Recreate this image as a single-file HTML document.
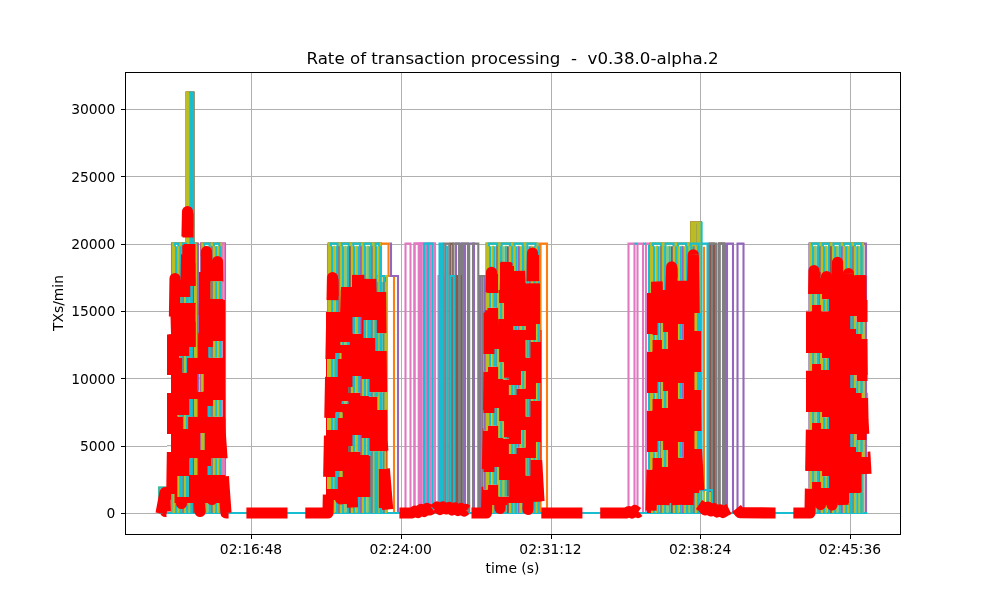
<!DOCTYPE html>
<html><head><meta charset="utf-8"><title>Rate of transaction processing</title>
<style>html,body{margin:0;padding:0;background:#fff}svg{display:block}g[id^=xtick_] path,g[id^=ytick_] path{shape-rendering:crispEdges;stroke-width:0.72px!important;transform:translate(0.38px,0.38px)}</style></head><body>
<svg width="1000" height="600" viewBox="0 0 720 432" version="1.1">
 
 <defs>
  <style type="text/css">*{stroke-linejoin: round; stroke-linecap: butt}</style>
 </defs>
 <g id="figure_1">
  <g id="patch_1">
   <path d="M 0 432 
L 720 432 
L 720 0 
L 0 0 
z
" style="fill: #ffffff"/>
  </g>
  <g id="axes_1">
   <g id="patch_2">
    <path d="M 90 384.48 
L 648 384.48 
L 648 51.84 
L 90 51.84 
z
" style="fill: #ffffff"/>
   </g>
   <g id="matplotlib.axis_1">
    <g id="xtick_1">
     <g id="line2d_1">
      <path d="M 180.72 384.48 
L 180.72 51.84 
" clip-path="url(#p4227d49ff3)" style="fill: none; stroke: #b0b0b0; stroke-width: 0.8; stroke-linecap: square"/>
     </g>
     <g id="line2d_2">
      
      <g>
       <path d="M 180.72 384.48 l 0 3.5" style="stroke: #000000; stroke-width: 0.8"/>
      </g>
     </g>
     <g id="text_1">
      <text style="font-size: 10px; font-family: 'DejaVu Sans', sans-serif; white-space: pre; text-anchor: middle" x="180.72" y="399.078438" transform="rotate(-0 180.72 399.078438)">02:16:48</text>
     </g>
    </g>
    <g id="xtick_2">
     <g id="line2d_3">
      <path d="M 288.54 384.48 
L 288.54 51.84 
" clip-path="url(#p4227d49ff3)" style="fill: none; stroke: #b0b0b0; stroke-width: 0.8; stroke-linecap: square"/>
     </g>
     <g id="line2d_4">
      <g>
       <path d="M 288.54 384.48 l 0 3.5" style="stroke: #000000; stroke-width: 0.8"/>
      </g>
     </g>
     <g id="text_2">
      <text style="font-size: 10px; font-family: 'DejaVu Sans', sans-serif; white-space: pre; text-anchor: middle" x="288.54" y="399.078438" transform="rotate(-0 288.54 399.078438)">02:24:00</text>
     </g>
    </g>
    <g id="xtick_3">
     <g id="line2d_5">
      <path d="M 396.36 384.48 
L 396.36 51.84 
" clip-path="url(#p4227d49ff3)" style="fill: none; stroke: #b0b0b0; stroke-width: 0.8; stroke-linecap: square"/>
     </g>
     <g id="line2d_6">
      <g>
       <path d="M 396.36 384.48 l 0 3.5" style="stroke: #000000; stroke-width: 0.8"/>
      </g>
     </g>
     <g id="text_3">
      <text style="font-size: 10px; font-family: 'DejaVu Sans', sans-serif; white-space: pre; text-anchor: middle" x="396.36" y="399.078438" transform="rotate(-0 396.36 399.078438)">02:31:12</text>
     </g>
    </g>
    <g id="xtick_4">
     <g id="line2d_7">
      <path d="M 504.18 384.48 
L 504.18 51.84 
" clip-path="url(#p4227d49ff3)" style="fill: none; stroke: #b0b0b0; stroke-width: 0.8; stroke-linecap: square"/>
     </g>
     <g id="line2d_8">
      <g>
       <path d="M 504.18 384.48 l 0 3.5" style="stroke: #000000; stroke-width: 0.8"/>
      </g>
     </g>
     <g id="text_4">
      <text style="font-size: 10px; font-family: 'DejaVu Sans', sans-serif; white-space: pre; text-anchor: middle" x="504.18" y="399.078438" transform="rotate(-0 504.18 399.078438)">02:38:24</text>
     </g>
    </g>
    <g id="xtick_5">
     <g id="line2d_9">
      <path d="M 612 384.48 
L 612 51.84 
" clip-path="url(#p4227d49ff3)" style="fill: none; stroke: #b0b0b0; stroke-width: 0.8; stroke-linecap: square"/>
     </g>
     <g id="line2d_10">
      <g>
       <path d="M 612 384.48 l 0 3.5" style="stroke: #000000; stroke-width: 0.8"/>
      </g>
     </g>
     <g id="text_5">
      <text style="font-size: 10px; font-family: 'DejaVu Sans', sans-serif; white-space: pre; text-anchor: middle" x="612" y="399.078438" transform="rotate(-0 612 399.078438)">02:45:36</text>
     </g>
    </g>
    <g id="text_6">
     <text style="font-size: 10px; font-family: 'DejaVu Sans', sans-serif; white-space: pre; text-anchor: middle" x="369" y="412.756562" transform="rotate(-0 369 412.756562)">time (s)</text>
    </g>
   </g>
   <g id="matplotlib.axis_2">
    <g id="ytick_1">
     <g id="line2d_11">
      <path d="M 90 369.36 
L 648 369.36 
" clip-path="url(#p4227d49ff3)" style="fill: none; stroke: #b0b0b0; stroke-width: 0.8; stroke-linecap: square"/>
     </g>
     <g id="line2d_12">
      
      <g>
       <path d="M 90 369.36 l -3.5 0" style="stroke: #000000; stroke-width: 0.8"/>
      </g>
     </g>
     <g id="text_7">
      <text style="font-size: 10px; font-family: 'DejaVu Sans', sans-serif; white-space: pre; text-anchor: end" x="83" y="373.159219" transform="rotate(-0 83 373.159219)">0</text>
     </g>
    </g>
    <g id="ytick_2">
     <g id="line2d_13">
      <path d="M 90 320.87988 
L 648 320.87988 
" clip-path="url(#p4227d49ff3)" style="fill: none; stroke: #b0b0b0; stroke-width: 0.8; stroke-linecap: square"/>
     </g>
     <g id="line2d_14">
      <g>
       <path d="M 90 320.87988 l -3.5 0" style="stroke: #000000; stroke-width: 0.8"/>
      </g>
     </g>
     <g id="text_8">
      <text style="font-size: 10px; font-family: 'DejaVu Sans', sans-serif; white-space: pre; text-anchor: end" x="83" y="324.679099" transform="rotate(-0 83 324.679099)">5000</text>
     </g>
    </g>
    <g id="ytick_3">
     <g id="line2d_15">
      <path d="M 90 272.39976 
L 648 272.39976 
" clip-path="url(#p4227d49ff3)" style="fill: none; stroke: #b0b0b0; stroke-width: 0.8; stroke-linecap: square"/>
     </g>
     <g id="line2d_16">
      <g>
       <path d="M 90 272.39976 l -3.5 0" style="stroke: #000000; stroke-width: 0.8"/>
      </g>
     </g>
     <g id="text_9">
      <text style="font-size: 10px; font-family: 'DejaVu Sans', sans-serif; white-space: pre; text-anchor: end" x="83" y="276.198979" transform="rotate(-0 83 276.198979)">10000</text>
     </g>
    </g>
    <g id="ytick_4">
     <g id="line2d_17">
      <path d="M 90 223.91964 
L 648 223.91964 
" clip-path="url(#p4227d49ff3)" style="fill: none; stroke: #b0b0b0; stroke-width: 0.8; stroke-linecap: square"/>
     </g>
     <g id="line2d_18">
      <g>
       <path d="M 90 223.91964 l -3.5 0" style="stroke: #000000; stroke-width: 0.8"/>
      </g>
     </g>
     <g id="text_10">
      <text style="font-size: 10px; font-family: 'DejaVu Sans', sans-serif; white-space: pre; text-anchor: end" x="83" y="227.718859" transform="rotate(-0 83 227.718859)">15000</text>
     </g>
    </g>
    <g id="ytick_5">
     <g id="line2d_19">
      <path d="M 90 175.43952 
L 648 175.43952 
" clip-path="url(#p4227d49ff3)" style="fill: none; stroke: #b0b0b0; stroke-width: 0.8; stroke-linecap: square"/>
     </g>
     <g id="line2d_20">
      <g>
       <path d="M 90 175.43952 l -3.5 0" style="stroke: #000000; stroke-width: 0.8"/>
      </g>
     </g>
     <g id="text_11">
      <text style="font-size: 10px; font-family: 'DejaVu Sans', sans-serif; white-space: pre; text-anchor: end" x="83" y="179.238739" transform="rotate(-0 83 179.238739)">20000</text>
     </g>
    </g>
    <g id="ytick_6">
     <g id="line2d_21">
      <path d="M 90 126.9594 
L 648 126.9594 
" clip-path="url(#p4227d49ff3)" style="fill: none; stroke: #b0b0b0; stroke-width: 0.8; stroke-linecap: square"/>
     </g>
     <g id="line2d_22">
      <g>
       <path d="M 90 126.9594 l -3.5 0" style="stroke: #000000; stroke-width: 0.8"/>
      </g>
     </g>
     <g id="text_12">
      <text style="font-size: 10px; font-family: 'DejaVu Sans', sans-serif; white-space: pre; text-anchor: end" x="83" y="130.758619" transform="rotate(-0 83 130.758619)">25000</text>
     </g>
    </g>
    <g id="ytick_7">
     <g id="line2d_23">
      <path d="M 90 78.47928 
L 648 78.47928 
" clip-path="url(#p4227d49ff3)" style="fill: none; stroke: #b0b0b0; stroke-width: 0.8; stroke-linecap: square"/>
     </g>
     <g id="line2d_24">
      <g>
       <path d="M 90 78.47928 l -3.5 0" style="stroke: #000000; stroke-width: 0.8"/>
      </g>
     </g>
     <g id="text_13">
      <text style="font-size: 10px; font-family: 'DejaVu Sans', sans-serif; white-space: pre; text-anchor: end" x="83" y="82.278499" transform="rotate(-0 83 82.278499)">30000</text>
     </g>
    </g>
    <g id="text_14">
     <text style="font-size: 10px; font-family: 'DejaVu Sans', sans-serif; white-space: pre; text-anchor: middle" x="45.107812" y="218.16" transform="rotate(-90 45.107812 218.16)">TXs/min</text>
    </g>
   </g>
   <g id="line2d_25">
    <path d="M 115.2 369.36 
L 623.52 369.36 
" clip-path="url(#p4227d49ff3)" style="fill: none; stroke: #ff7f0e; stroke-width: 1.5; stroke-linecap: square"/>
   </g>
   <g id="line2d_26">
    <path d="M 236.16 369.36 
L 236.16 175.43952 
" clip-path="url(#p4227d49ff3)" style="fill: none; stroke: #ff7f0e; stroke-width: 1.5; stroke-linejoin: miter"/>
   </g>
   <g id="line2d_27">
    <path d="M 236.16 175.43952 
L 279.72 175.43952 
L 279.72 198.72 
L 283.68 198.72 
L 283.68 369.36 
" clip-path="url(#p4227d49ff3)" style="fill: none; stroke: #ff7f0e; stroke-width: 1.5; stroke-linejoin: miter"/>
   </g>
   <g id="line2d_28">
    <path d="M 124.056 369.36 
L 124.056 175.43952 
L 141.84 175.43952 
L 141.84 369.36 
" clip-path="url(#p4227d49ff3)" style="fill: none; stroke: #ff7f0e; stroke-width: 1.5; stroke-linejoin: miter"/>
   </g>
   <g id="line2d_29">
    <path d="M 134.352 369.36 
L 134.352 66.672 
L 139.392 66.672 
L 139.392 369.36 
" clip-path="url(#p4227d49ff3)" style="fill: none; stroke: #ff7f0e; stroke-width: 1.5; stroke-linejoin: miter"/>
   </g>
   <g id="line2d_30">
    <path d="M 388.8 369.36 
L 388.8 175.43952 
L 393.84 175.43952 
L 393.84 369.36 
" clip-path="url(#p4227d49ff3)" style="fill: none; stroke: #ff7f0e; stroke-width: 1.5; stroke-linejoin: miter"/>
   </g>
   <g id="line2d_31">
    <path d="M 389.16 369.36 
L 389.16 175.43952 
L 389.16 175.43952 
L 389.16 369.36 
" clip-path="url(#p4227d49ff3)" style="fill: none; stroke: #ff7f0e; stroke-width: 1.5; stroke-linejoin: miter"/>
   </g>
   <g id="line2d_32">
    <path d="M 506.88 369.36 
L 506.88 177.59952 
L 506.88 177.59952 
L 506.88 369.36 
" clip-path="url(#p4227d49ff3)" style="fill: none; stroke: #ff7f0e; stroke-width: 1.5; stroke-linejoin: miter"/>
   </g>
   <g id="line2d_33">
    <path d="M 115.2 369.36 
L 623.52 369.36 
" clip-path="url(#p4227d49ff3)" style="fill: none; stroke: #9467bd; stroke-width: 1.5; stroke-linecap: square"/>
   </g>
   <g id="line2d_34">
    <path d="M 280.44 175.43952 
L 281.52 175.43952 
L 281.52 198.72 
L 286.56 198.72 
L 286.56 369.36 
" clip-path="url(#p4227d49ff3)" style="fill: none; stroke: #9467bd; stroke-width: 1.5; stroke-linejoin: miter"/>
   </g>
   <g id="line2d_35">
    <path d="M 123.84 369.36 
L 123.84 175.43952 
L 142.56 175.43952 
L 142.56 369.36 
" clip-path="url(#p4227d49ff3)" style="fill: none; stroke: #9467bd; stroke-width: 1.5; stroke-linejoin: miter"/>
   </g>
   <g id="line2d_36">
    <path d="M 135.72 369.36 
L 135.72 175.43952 
L 141.12 175.43952 
L 141.12 369.36 
" clip-path="url(#p4227d49ff3)" style="fill: none; stroke: #9467bd; stroke-width: 1.5; stroke-linejoin: miter"/>
   </g>
   <g id="line2d_37">
    <path d="M 252.648 369.36 
L 252.648 175.43952 
L 260.712 175.43952 
L 260.712 369.36 
" clip-path="url(#p4227d49ff3)" style="fill: none; stroke: #9467bd; stroke-width: 1.5; stroke-linejoin: miter"/>
   </g>
   <g id="line2d_38">
    <path d="M 328.32 369.36 
L 328.32 175.43952 
L 331.92 175.43952 
L 331.92 369.36 
" clip-path="url(#p4227d49ff3)" style="fill: none; stroke: #9467bd; stroke-width: 1.5; stroke-linejoin: miter"/>
   </g>
   <g id="line2d_39">
    <path d="M 334.8 369.36 
L 334.8 175.43952 
L 334.8 175.43952 
L 334.8 369.36 
" clip-path="url(#p4227d49ff3)" style="fill: none; stroke: #9467bd; stroke-width: 1.5; stroke-linejoin: miter"/>
   </g>
   <g id="line2d_40">
    <path d="M 332.64 369.36 
L 332.64 175.43952 
L 341.28 175.43952 
L 341.28 369.36 
" clip-path="url(#p4227d49ff3)" style="fill: none; stroke: #9467bd; stroke-width: 1.5; stroke-linejoin: miter"/>
   </g>
   <g id="line2d_41">
    <path d="M 346.104 369.36 
L 346.104 198.72 
L 348.84 198.72 
L 348.84 369.36 
" clip-path="url(#p4227d49ff3)" style="fill: none; stroke: #9467bd; stroke-width: 1.5; stroke-linejoin: miter"/>
   </g>
   <g id="line2d_42">
    <path d="M 368.712 369.36 
L 368.712 175.43952 
L 377.928 175.43952 
L 377.928 369.36 
" clip-path="url(#p4227d49ff3)" style="fill: none; stroke: #9467bd; stroke-width: 1.5; stroke-linejoin: miter"/>
   </g>
   <g id="line2d_43">
    <path d="M 486.504 369.36 
L 486.504 175.43952 
L 495.576 175.43952 
L 495.576 369.36 
" clip-path="url(#p4227d49ff3)" style="fill: none; stroke: #9467bd; stroke-width: 1.5; stroke-linejoin: miter"/>
   </g>
   <g id="line2d_44">
    <path d="M 523.44 369.36 
L 523.44 175.43952 
L 527.76 175.43952 
L 527.76 369.36 
" clip-path="url(#p4227d49ff3)" style="fill: none; stroke: #9467bd; stroke-width: 1.5; stroke-linejoin: miter"/>
   </g>
   <g id="line2d_45">
    <path d="M 531 369.36 
L 531 175.43952 
L 535.32 175.43952 
L 535.32 369.36 
" clip-path="url(#p4227d49ff3)" style="fill: none; stroke: #9467bd; stroke-width: 1.5; stroke-linejoin: miter"/>
   </g>
   <g id="line2d_46">
    <path d="M 582.84 369.36 
L 582.84 175.43952 
L 623.52 175.43952 
L 623.52 369.36 
" clip-path="url(#p4227d49ff3)" style="fill: none; stroke: #9467bd; stroke-width: 1.5; stroke-linejoin: miter"/>
   </g>
   <g id="line2d_47">
    <path d="M 598.464 369.36 
L 598.464 175.43952 
L 606.168 175.43952 
L 606.168 369.36 
" clip-path="url(#p4227d49ff3)" style="fill: none; stroke: #9467bd; stroke-width: 1.5; stroke-linejoin: miter"/>
   </g>
   <g id="line2d_48">
    <path d="M 115.2 369.36 
L 623.52 369.36 
" clip-path="url(#p4227d49ff3)" style="fill: none; stroke: #8c564b; stroke-width: 1.5; stroke-linecap: square"/>
   </g>
   <g id="line2d_49">
    <path d="M 129.96 369.36 
L 129.96 175.43952 
L 135.72 175.43952 
L 135.72 369.36 
" clip-path="url(#p4227d49ff3)" style="fill: none; stroke: #8c564b; stroke-width: 1.5; stroke-linejoin: miter"/>
   </g>
   <g id="line2d_50">
    <path d="M 134.352 369.36 
L 134.352 66.6 
L 139.248 66.6 
L 139.248 369.36 
" clip-path="url(#p4227d49ff3)" style="fill: none; stroke: #8c564b; stroke-width: 1.5; stroke-linejoin: miter"/>
   </g>
   <g id="line2d_51">
    <path d="M 144.72 369.36 
L 144.72 175.43952 
L 162 175.43952 
L 162 369.36 
" clip-path="url(#p4227d49ff3)" style="fill: none; stroke: #8c564b; stroke-width: 1.5; stroke-linejoin: miter"/>
   </g>
   <g id="line2d_52">
    <path d="M 152.424 369.36 
L 152.424 175.43952 
L 159.408 175.43952 
L 159.408 369.36 
" clip-path="url(#p4227d49ff3)" style="fill: none; stroke: #8c564b; stroke-width: 1.5; stroke-linejoin: miter"/>
   </g>
   <g id="line2d_53">
    <path d="M 244.584 369.36 
L 244.584 175.43952 
L 252.648 175.43952 
L 252.648 369.36 
" clip-path="url(#p4227d49ff3)" style="fill: none; stroke: #8c564b; stroke-width: 1.5; stroke-linejoin: miter"/>
   </g>
   <g id="line2d_54">
    <path d="M 268.776 369.36 
L 268.776 175.43952 
L 274.32 175.43952 
L 274.32 369.36 
" clip-path="url(#p4227d49ff3)" style="fill: none; stroke: #8c564b; stroke-width: 1.5; stroke-linejoin: miter"/>
   </g>
   <g id="line2d_55">
    <path d="M 324.36 369.36 
L 324.36 175.43952 
L 326.16 175.43952 
L 326.16 369.36 
" clip-path="url(#p4227d49ff3)" style="fill: none; stroke: #8c564b; stroke-width: 1.5; stroke-linejoin: miter"/>
   </g>
   <g id="line2d_56">
    <path d="M 325.44 369.36 
L 325.44 198.72 
L 325.44 198.72 
L 325.44 369.36 
" clip-path="url(#p4227d49ff3)" style="fill: none; stroke: #8c564b; stroke-width: 1.5; stroke-linejoin: miter"/>
   </g>
   <g id="line2d_57">
    <path d="M 329.04 369.36 
L 329.04 198.72 
L 331.92 198.72 
L 331.92 369.36 
" clip-path="url(#p4227d49ff3)" style="fill: none; stroke: #8c564b; stroke-width: 1.5; stroke-linejoin: miter"/>
   </g>
   <g id="line2d_58">
    <path d="M 359.496 369.36 
L 359.496 175.43952 
L 368.712 175.43952 
L 368.712 369.36 
" clip-path="url(#p4227d49ff3)" style="fill: none; stroke: #8c564b; stroke-width: 1.5; stroke-linejoin: miter"/>
   </g>
   <g id="line2d_59">
    <path d="M 477.432 369.36 
L 477.432 175.43952 
L 486.504 175.43952 
L 486.504 369.36 
" clip-path="url(#p4227d49ff3)" style="fill: none; stroke: #8c564b; stroke-width: 1.5; stroke-linejoin: miter"/>
   </g>
   <g id="line2d_60">
    <path d="M 497.52 369.36 
L 497.52 160.056 
L 504.72 160.056 
L 504.72 369.36 
" clip-path="url(#p4227d49ff3)" style="fill: none; stroke: #8c564b; stroke-width: 1.5; stroke-linejoin: miter"/>
   </g>
   <g id="line2d_61">
    <path d="M 511.2 369.36 
L 511.2 175.43952 
L 514.08 175.43952 
L 514.08 369.36 
" clip-path="url(#p4227d49ff3)" style="fill: none; stroke: #8c564b; stroke-width: 1.5; stroke-linejoin: miter"/>
   </g>
   <g id="line2d_62">
    <path d="M 517.68 369.36 
L 517.68 175.43952 
L 521.28 175.43952 
L 521.28 369.36 
" clip-path="url(#p4227d49ff3)" style="fill: none; stroke: #8c564b; stroke-width: 1.5; stroke-linejoin: miter"/>
   </g>
   <g id="line2d_63">
    <path d="M 590.76 369.36 
L 590.76 175.43952 
L 598.464 175.43952 
L 598.464 369.36 
" clip-path="url(#p4227d49ff3)" style="fill: none; stroke: #8c564b; stroke-width: 1.5; stroke-linejoin: miter"/>
   </g>
   <g id="line2d_64">
    <path d="M 613.872 369.36 
L 613.872 175.43952 
L 621.576 175.43952 
L 621.576 369.36 
" clip-path="url(#p4227d49ff3)" style="fill: none; stroke: #8c564b; stroke-width: 1.5; stroke-linejoin: miter"/>
   </g>
   <g id="line2d_65">
    <path d="M 115.2 369.36 
L 623.52 369.36 
" clip-path="url(#p4227d49ff3)" style="fill: none; stroke: #e377c2; stroke-width: 1.5; stroke-linecap: square"/>
   </g>
   <g id="line2d_66">
    <path d="M 145.08 369.36 
L 145.08 175.43952 
L 161.64 175.43952 
L 161.64 369.36 
" clip-path="url(#p4227d49ff3)" style="fill: none; stroke: #e377c2; stroke-width: 1.5; stroke-linejoin: miter"/>
   </g>
   <g id="line2d_67">
    <path d="M 145.44 369.36 
L 145.44 175.43952 
L 160.2 175.43952 
L 160.2 369.36 
" clip-path="url(#p4227d49ff3)" style="fill: none; stroke: #e377c2; stroke-width: 1.5; stroke-linejoin: miter"/>
   </g>
   <g id="line2d_68">
    <path d="M 291.96 369.36 
L 291.96 175.43952 
L 295.56 175.43952 
L 295.56 369.36 
" clip-path="url(#p4227d49ff3)" style="fill: none; stroke: #e377c2; stroke-width: 1.5; stroke-linejoin: miter"/>
   </g>
   <g id="line2d_69">
    <path d="M 298.44 369.36 
L 298.44 175.43952 
L 301.464 175.43952 
L 301.464 369.36 
" clip-path="url(#p4227d49ff3)" style="fill: none; stroke: #e377c2; stroke-width: 1.5; stroke-linejoin: miter"/>
   </g>
   <g id="line2d_70">
    <path d="M 302.112 369.36 
L 302.112 175.43952 
L 303.552 175.43952 
L 303.552 369.36 
" clip-path="url(#p4227d49ff3)" style="fill: none; stroke: #e377c2; stroke-width: 1.5; stroke-linejoin: miter"/>
   </g>
   <g id="line2d_71">
    <path d="M 302.832 369.36 
L 302.832 175.43952 
L 306.72 175.43952 
L 306.72 369.36 
" clip-path="url(#p4227d49ff3)" style="fill: none; stroke: #e377c2; stroke-width: 1.5; stroke-linejoin: miter"/>
   </g>
   <g id="line2d_72">
    <path d="M 303.336 369.36 
L 303.336 175.43952 
L 303.336 175.43952 
L 303.336 369.36 
" clip-path="url(#p4227d49ff3)" style="fill: none; stroke: #e377c2; stroke-width: 1.5; stroke-linejoin: miter"/>
   </g>
   <g id="line2d_73">
    <path d="M 309.6 369.36 
L 309.6 175.43952 
L 313.2 175.43952 
L 313.2 369.36 
" clip-path="url(#p4227d49ff3)" style="fill: none; stroke: #e377c2; stroke-width: 1.5; stroke-linejoin: miter"/>
   </g>
   <g id="line2d_74">
    <path d="M 298.44 369.36 
L 298.44 175.43952 
L 313.2 175.43952 
L 313.2 369.36 
" clip-path="url(#p4227d49ff3)" style="fill: none; stroke: #e377c2; stroke-width: 1.5; stroke-linejoin: miter"/>
   </g>
   <g id="line2d_75">
    <path d="M 315.72 369.36 
L 315.72 198.72 
L 319.32 198.72 
L 319.32 369.36 
" clip-path="url(#p4227d49ff3)" style="fill: none; stroke: #e377c2; stroke-width: 1.5; stroke-linejoin: miter"/>
   </g>
   <g id="line2d_76">
    <path d="M 452.52 369.36 
L 452.52 175.43952 
L 456.84 175.43952 
L 456.84 369.36 
" clip-path="url(#p4227d49ff3)" style="fill: none; stroke: #e377c2; stroke-width: 1.5; stroke-linejoin: miter"/>
   </g>
   <g id="line2d_77">
    <path d="M 459 369.36 
L 459 175.43952 
L 462.96 175.43952 
L 462.96 369.36 
" clip-path="url(#p4227d49ff3)" style="fill: none; stroke: #e377c2; stroke-width: 1.5; stroke-linejoin: miter"/>
   </g>
   <g id="line2d_78">
    <path d="M 465.12 369.36 
L 465.12 175.43952 
L 468 175.43952 
L 468 369.36 
" clip-path="url(#p4227d49ff3)" style="fill: none; stroke: #e377c2; stroke-width: 1.5; stroke-linejoin: miter"/>
   </g>
   <g id="line2d_79">
    <path d="M 115.2 369.36 
L 623.52 369.36 
" clip-path="url(#p4227d49ff3)" style="fill: none; stroke: #7f7f7f; stroke-width: 1.5; stroke-linecap: square"/>
   </g>
   <g id="line2d_80">
    <path d="M 124.2 369.36 
L 124.2 175.43952 
L 129.96 175.43952 
L 129.96 369.36 
" clip-path="url(#p4227d49ff3)" style="fill: none; stroke: #7f7f7f; stroke-width: 1.5; stroke-linejoin: miter"/>
   </g>
   <g id="line2d_81">
    <path d="M 145.44 369.36 
L 145.44 175.43952 
L 152.424 175.43952 
L 152.424 369.36 
" clip-path="url(#p4227d49ff3)" style="fill: none; stroke: #7f7f7f; stroke-width: 1.5; stroke-linejoin: miter"/>
   </g>
   <g id="line2d_82">
    <path d="M 236.52 369.36 
L 236.52 175.43952 
L 244.584 175.43952 
L 244.584 369.36 
" clip-path="url(#p4227d49ff3)" style="fill: none; stroke: #7f7f7f; stroke-width: 1.5; stroke-linejoin: miter"/>
   </g>
   <g id="line2d_83">
    <path d="M 260.712 369.36 
L 260.712 175.43952 
L 268.776 175.43952 
L 268.776 369.36 
" clip-path="url(#p4227d49ff3)" style="fill: none; stroke: #7f7f7f; stroke-width: 1.5; stroke-linejoin: miter"/>
   </g>
   <g id="line2d_84">
    <path d="M 277.2 369.36 
L 277.2 198.72 
L 277.2 198.72 
L 277.2 369.36 
" clip-path="url(#p4227d49ff3)" style="fill: none; stroke: #7f7f7f; stroke-width: 1.5; stroke-linejoin: miter"/>
   </g>
   <g id="line2d_85">
    <path d="M 319.464 369.36 
L 319.464 175.43952 
L 323.424 175.43952 
L 323.424 369.36 
" clip-path="url(#p4227d49ff3)" style="fill: none; stroke: #7f7f7f; stroke-width: 1.5; stroke-linejoin: miter"/>
   </g>
   <g id="line2d_86">
    <path d="M 320.76 369.36 
L 320.76 175.43952 
L 320.76 175.43952 
L 320.76 369.36 
" clip-path="url(#p4227d49ff3)" style="fill: none; stroke: #7f7f7f; stroke-width: 1.5; stroke-linejoin: miter"/>
   </g>
   <g id="line2d_87">
    <path d="M 326.52 369.36 
L 326.52 175.43952 
L 330.48 175.43952 
L 330.48 369.36 
" clip-path="url(#p4227d49ff3)" style="fill: none; stroke: #7f7f7f; stroke-width: 1.5; stroke-linejoin: miter"/>
   </g>
   <g id="line2d_88">
    <path d="M 331.056 369.36 
L 331.056 175.43952 
L 331.056 175.43952 
L 331.056 369.36 
" clip-path="url(#p4227d49ff3)" style="fill: none; stroke: #7f7f7f; stroke-width: 1.5; stroke-linejoin: miter"/>
   </g>
   <g id="line2d_89">
    <path d="M 333.36 369.36 
L 333.36 175.43952 
L 336.96 175.43952 
L 336.96 369.36 
" clip-path="url(#p4227d49ff3)" style="fill: none; stroke: #7f7f7f; stroke-width: 1.5; stroke-linejoin: miter"/>
   </g>
   <g id="line2d_90">
    <path d="M 337.824 369.36 
L 337.824 175.43952 
L 337.824 175.43952 
L 337.824 369.36 
" clip-path="url(#p4227d49ff3)" style="fill: none; stroke: #7f7f7f; stroke-width: 1.5; stroke-linejoin: miter"/>
   </g>
   <g id="line2d_91">
    <path d="M 340.56 369.36 
L 340.56 175.43952 
L 344.376 175.43952 
L 344.376 369.36 
" clip-path="url(#p4227d49ff3)" style="fill: none; stroke: #7f7f7f; stroke-width: 1.5; stroke-linejoin: miter"/>
   </g>
   <g id="line2d_92">
    <path d="M 345.24 369.36 
L 345.24 198.72 
L 349.92 198.72 
L 349.92 369.36 
" clip-path="url(#p4227d49ff3)" style="fill: none; stroke: #7f7f7f; stroke-width: 1.5; stroke-linejoin: miter"/>
   </g>
   <g id="line2d_93">
    <path d="M 347.4 369.36 
L 347.4 198.72 
L 347.4 198.72 
L 347.4 369.36 
" clip-path="url(#p4227d49ff3)" style="fill: none; stroke: #7f7f7f; stroke-width: 1.5; stroke-linejoin: miter"/>
   </g>
   <g id="line2d_94">
    <path d="M 350.28 369.36 
L 350.28 175.43952 
L 359.496 175.43952 
L 359.496 369.36 
" clip-path="url(#p4227d49ff3)" style="fill: none; stroke: #7f7f7f; stroke-width: 1.5; stroke-linejoin: miter"/>
   </g>
   <g id="line2d_95">
    <path d="M 377.928 369.36 
L 377.928 175.43952 
L 387.144 175.43952 
L 387.144 369.36 
" clip-path="url(#p4227d49ff3)" style="fill: none; stroke: #7f7f7f; stroke-width: 1.5; stroke-linejoin: miter"/>
   </g>
   <g id="line2d_96">
    <path d="M 468.36 369.36 
L 468.36 175.43952 
L 477.432 175.43952 
L 477.432 369.36 
" clip-path="url(#p4227d49ff3)" style="fill: none; stroke: #7f7f7f; stroke-width: 1.5; stroke-linejoin: miter"/>
   </g>
   <g id="line2d_97">
    <path d="M 495.576 369.36 
L 495.576 175.43952 
L 504.648 175.43952 
L 504.648 369.36 
" clip-path="url(#p4227d49ff3)" style="fill: none; stroke: #7f7f7f; stroke-width: 1.5; stroke-linejoin: miter"/>
   </g>
   <g id="line2d_98">
    <path d="M 501.336 369.36 
L 501.336 160.2 
L 501.336 160.2 
L 501.336 369.36 
" clip-path="url(#p4227d49ff3)" style="fill: none; stroke: #7f7f7f; stroke-width: 1.5; stroke-linejoin: miter"/>
   </g>
   <g id="line2d_99">
    <path d="M 510.12 369.36 
L 510.12 175.43952 
L 515.52 175.43952 
L 515.52 369.36 
" clip-path="url(#p4227d49ff3)" style="fill: none; stroke: #7f7f7f; stroke-width: 1.5; stroke-linejoin: miter"/>
   </g>
   <g id="line2d_100">
    <path d="M 512.64 369.36 
L 512.64 175.43952 
L 512.64 175.43952 
L 512.64 369.36 
" clip-path="url(#p4227d49ff3)" style="fill: none; stroke: #7f7f7f; stroke-width: 1.5; stroke-linejoin: miter"/>
   </g>
   <g id="line2d_101">
    <path d="M 517.32 369.36 
L 517.32 175.43952 
L 522 175.43952 
L 522 369.36 
" clip-path="url(#p4227d49ff3)" style="fill: none; stroke: #7f7f7f; stroke-width: 1.5; stroke-linejoin: miter"/>
   </g>
   <g id="line2d_102">
    <path d="M 518.256 369.36 
L 518.256 175.43952 
L 520.56 175.43952 
L 520.56 369.36 
" clip-path="url(#p4227d49ff3)" style="fill: none; stroke: #7f7f7f; stroke-width: 1.5; stroke-linejoin: miter"/>
   </g>
   <g id="line2d_103">
    <path d="M 583.056 369.36 
L 583.056 175.43952 
L 590.76 175.43952 
L 590.76 369.36 
" clip-path="url(#p4227d49ff3)" style="fill: none; stroke: #7f7f7f; stroke-width: 1.5; stroke-linejoin: miter"/>
   </g>
   <g id="line2d_104">
    <path d="M 606.168 369.36 
L 606.168 175.43952 
L 613.872 175.43952 
L 613.872 369.36 
" clip-path="url(#p4227d49ff3)" style="fill: none; stroke: #7f7f7f; stroke-width: 1.5; stroke-linejoin: miter"/>
   </g>
   <g id="line2d_105">
    <path d="M 115.2 369.36 
L 623.52 369.36 
" clip-path="url(#p4227d49ff3)" style="fill: none; stroke: #bcbd22; stroke-width: 1.5; stroke-linecap: square"/>
   </g>
   <g id="line2d_106">
    <path d="M 114.48 369.36 
L 114.48 351 
L 123.84 351 
L 123.84 369.36 
" clip-path="url(#p4227d49ff3)" style="fill: none; stroke: #bcbd22; stroke-width: 1.5; stroke-linejoin: miter"/>
   </g>
   <g id="line2d_107">
    <path d="M 124.416 369.36 
L 124.416 175.43952 
L 129.744 175.43952 
L 129.744 369.36 
" clip-path="url(#p4227d49ff3)" style="fill: none; stroke: #bcbd22; stroke-width: 1.5; stroke-linejoin: miter"/>
   </g>
   <g id="line2d_108">
    <path d="M 130.176 369.36 
L 130.176 175.43952 
L 135.504 175.43952 
L 135.504 369.36 
" clip-path="url(#p4227d49ff3)" style="fill: none; stroke: #bcbd22; stroke-width: 1.5; stroke-linejoin: miter"/>
   </g>
   <g id="line2d_109">
    <path d="M 135.936 369.36 
L 135.936 175.43952 
L 140.904 175.43952 
L 140.904 369.36 
" clip-path="url(#p4227d49ff3)" style="fill: none; stroke: #bcbd22; stroke-width: 1.5; stroke-linejoin: miter"/>
   </g>
   <g id="line2d_110">
    <path d="M 134.352 369.36 
L 134.352 66.672 
L 134.352 66.672 
L 134.352 369.36 
" clip-path="url(#p4227d49ff3)" style="fill: none; stroke: #bcbd22; stroke-width: 1.5; stroke-linejoin: miter"/>
   </g>
   <g id="line2d_111">
    <path d="M 135 369.36 
L 135 66.672 
L 135 66.672 
L 135 369.36 
" clip-path="url(#p4227d49ff3)" style="fill: none; stroke: #bcbd22; stroke-width: 1.5; stroke-linejoin: miter"/>
   </g>
   <g id="line2d_112">
    <path d="M 135.6912 369.36 
L 135.6912 66.672 
L 135.6912 66.672 
L 135.6912 369.36 
" clip-path="url(#p4227d49ff3)" style="fill: none; stroke: #bcbd22; stroke-width: 1.5; stroke-linejoin: miter"/>
   </g>
   <g id="line2d_113">
    <path d="M 134.352 369.36 
L 134.352 66.672 
L 135.6912 66.672 
L 135.6912 369.36 
" clip-path="url(#p4227d49ff3)" style="fill: none; stroke: #bcbd22; stroke-width: 1.5; stroke-linejoin: miter"/>
   </g>
   <g id="line2d_114">
    <path d="M 145.656 369.36 
L 145.656 175.43952 
L 152.208 175.43952 
L 152.208 369.36 
" clip-path="url(#p4227d49ff3)" style="fill: none; stroke: #bcbd22; stroke-width: 1.5; stroke-linejoin: miter"/>
   </g>
   <g id="line2d_115">
    <path d="M 149.004 369.36 
L 149.004 177.02352 
L 149.004 177.02352 
L 149.004 369.36 
" clip-path="url(#p4227d49ff3)" style="fill: none; stroke: #bcbd22; stroke-width: 1.5; stroke-linejoin: miter"/>
   </g>
   <g id="line2d_116">
    <path d="M 152.64 369.36 
L 152.64 175.43952 
L 159.192 175.43952 
L 159.192 369.36 
" clip-path="url(#p4227d49ff3)" style="fill: none; stroke: #bcbd22; stroke-width: 1.5; stroke-linejoin: miter"/>
   </g>
   <g id="line2d_117">
    <path d="M 155.988 369.36 
L 155.988 177.02352 
L 155.988 177.02352 
L 155.988 369.36 
" clip-path="url(#p4227d49ff3)" style="fill: none; stroke: #bcbd22; stroke-width: 1.5; stroke-linejoin: miter"/>
   </g>
   <g id="line2d_118">
    <path d="M 236.736 369.36 
L 236.736 175.43952 
L 244.368 175.43952 
L 244.368 369.36 
" clip-path="url(#p4227d49ff3)" style="fill: none; stroke: #bcbd22; stroke-width: 1.5; stroke-linejoin: miter"/>
   </g>
   <g id="line2d_119">
    <path d="M 240.624 369.36 
L 240.624 177.02352 
L 240.624 177.02352 
L 240.624 369.36 
" clip-path="url(#p4227d49ff3)" style="fill: none; stroke: #bcbd22; stroke-width: 1.5; stroke-linejoin: miter"/>
   </g>
   <g id="line2d_120">
    <path d="M 244.8 369.36 
L 244.8 175.43952 
L 252.432 175.43952 
L 252.432 369.36 
" clip-path="url(#p4227d49ff3)" style="fill: none; stroke: #bcbd22; stroke-width: 1.5; stroke-linejoin: miter"/>
   </g>
   <g id="line2d_121">
    <path d="M 248.688 369.36 
L 248.688 177.02352 
L 248.688 177.02352 
L 248.688 369.36 
" clip-path="url(#p4227d49ff3)" style="fill: none; stroke: #bcbd22; stroke-width: 1.5; stroke-linejoin: miter"/>
   </g>
   <g id="line2d_122">
    <path d="M 252.864 369.36 
L 252.864 175.43952 
L 260.496 175.43952 
L 260.496 369.36 
" clip-path="url(#p4227d49ff3)" style="fill: none; stroke: #bcbd22; stroke-width: 1.5; stroke-linejoin: miter"/>
   </g>
   <g id="line2d_123">
    <path d="M 256.752 369.36 
L 256.752 177.02352 
L 256.752 177.02352 
L 256.752 369.36 
" clip-path="url(#p4227d49ff3)" style="fill: none; stroke: #bcbd22; stroke-width: 1.5; stroke-linejoin: miter"/>
   </g>
   <g id="line2d_124">
    <path d="M 260.928 369.36 
L 260.928 175.43952 
L 268.56 175.43952 
L 268.56 369.36 
" clip-path="url(#p4227d49ff3)" style="fill: none; stroke: #bcbd22; stroke-width: 1.5; stroke-linejoin: miter"/>
   </g>
   <g id="line2d_125">
    <path d="M 264.816 369.36 
L 264.816 177.02352 
L 264.816 177.02352 
L 264.816 369.36 
" clip-path="url(#p4227d49ff3)" style="fill: none; stroke: #bcbd22; stroke-width: 1.5; stroke-linejoin: miter"/>
   </g>
   <g id="line2d_126">
    <path d="M 268.992 369.36 
L 268.992 175.43952 
L 274.104 175.43952 
L 274.104 369.36 
" clip-path="url(#p4227d49ff3)" style="fill: none; stroke: #bcbd22; stroke-width: 1.5; stroke-linejoin: miter"/>
   </g>
   <g id="line2d_127">
    <path d="M 269.28 369.36 
L 269.28 198.72 
L 278.64 198.72 
L 278.64 369.36 
" clip-path="url(#p4227d49ff3)" style="fill: none; stroke: #bcbd22; stroke-width: 1.5; stroke-linejoin: miter"/>
   </g>
   <g id="line2d_128">
    <path d="M 272.52 369.36 
L 272.52 200.16 
L 274.68 200.16 
L 274.68 369.36 
" clip-path="url(#p4227d49ff3)" style="fill: none; stroke: #bcbd22; stroke-width: 1.5; stroke-linejoin: miter"/>
   </g>
   <g id="line2d_129">
    <path d="M 350.496 369.36 
L 350.496 175.43952 
L 359.28 175.43952 
L 359.28 369.36 
" clip-path="url(#p4227d49ff3)" style="fill: none; stroke: #bcbd22; stroke-width: 1.5; stroke-linejoin: miter"/>
   </g>
   <g id="line2d_130">
    <path d="M 354.96 369.36 
L 354.96 177.02352 
L 354.96 177.02352 
L 354.96 369.36 
" clip-path="url(#p4227d49ff3)" style="fill: none; stroke: #bcbd22; stroke-width: 1.5; stroke-linejoin: miter"/>
   </g>
   <g id="line2d_131">
    <path d="M 359.712 369.36 
L 359.712 175.43952 
L 368.496 175.43952 
L 368.496 369.36 
" clip-path="url(#p4227d49ff3)" style="fill: none; stroke: #bcbd22; stroke-width: 1.5; stroke-linejoin: miter"/>
   </g>
   <g id="line2d_132">
    <path d="M 364.176 369.36 
L 364.176 177.02352 
L 364.176 177.02352 
L 364.176 369.36 
" clip-path="url(#p4227d49ff3)" style="fill: none; stroke: #bcbd22; stroke-width: 1.5; stroke-linejoin: miter"/>
   </g>
   <g id="line2d_133">
    <path d="M 368.928 369.36 
L 368.928 175.43952 
L 377.712 175.43952 
L 377.712 369.36 
" clip-path="url(#p4227d49ff3)" style="fill: none; stroke: #bcbd22; stroke-width: 1.5; stroke-linejoin: miter"/>
   </g>
   <g id="line2d_134">
    <path d="M 373.392 369.36 
L 373.392 177.02352 
L 373.392 177.02352 
L 373.392 369.36 
" clip-path="url(#p4227d49ff3)" style="fill: none; stroke: #bcbd22; stroke-width: 1.5; stroke-linejoin: miter"/>
   </g>
   <g id="line2d_135">
    <path d="M 378.144 369.36 
L 378.144 175.43952 
L 386.928 175.43952 
L 386.928 369.36 
" clip-path="url(#p4227d49ff3)" style="fill: none; stroke: #bcbd22; stroke-width: 1.5; stroke-linejoin: miter"/>
   </g>
   <g id="line2d_136">
    <path d="M 382.608 369.36 
L 382.608 177.02352 
L 382.608 177.02352 
L 382.608 369.36 
" clip-path="url(#p4227d49ff3)" style="fill: none; stroke: #bcbd22; stroke-width: 1.5; stroke-linejoin: miter"/>
   </g>
   <g id="line2d_137">
    <path d="M 468.576 369.36 
L 468.576 175.43952 
L 477.216 175.43952 
L 477.216 369.36 
" clip-path="url(#p4227d49ff3)" style="fill: none; stroke: #bcbd22; stroke-width: 1.5; stroke-linejoin: miter"/>
   </g>
   <g id="line2d_138">
    <path d="M 472.968 369.36 
L 472.968 177.02352 
L 472.968 177.02352 
L 472.968 369.36 
" clip-path="url(#p4227d49ff3)" style="fill: none; stroke: #bcbd22; stroke-width: 1.5; stroke-linejoin: miter"/>
   </g>
   <g id="line2d_139">
    <path d="M 477.648 369.36 
L 477.648 175.43952 
L 486.288 175.43952 
L 486.288 369.36 
" clip-path="url(#p4227d49ff3)" style="fill: none; stroke: #bcbd22; stroke-width: 1.5; stroke-linejoin: miter"/>
   </g>
   <g id="line2d_140">
    <path d="M 482.04 369.36 
L 482.04 177.02352 
L 482.04 177.02352 
L 482.04 369.36 
" clip-path="url(#p4227d49ff3)" style="fill: none; stroke: #bcbd22; stroke-width: 1.5; stroke-linejoin: miter"/>
   </g>
   <g id="line2d_141">
    <path d="M 486.72 369.36 
L 486.72 175.43952 
L 495.36 175.43952 
L 495.36 369.36 
" clip-path="url(#p4227d49ff3)" style="fill: none; stroke: #bcbd22; stroke-width: 1.5; stroke-linejoin: miter"/>
   </g>
   <g id="line2d_142">
    <path d="M 491.112 369.36 
L 491.112 177.02352 
L 491.112 177.02352 
L 491.112 369.36 
" clip-path="url(#p4227d49ff3)" style="fill: none; stroke: #bcbd22; stroke-width: 1.5; stroke-linejoin: miter"/>
   </g>
   <g id="line2d_143">
    <path d="M 495.792 369.36 
L 495.792 175.43952 
L 504.432 175.43952 
L 504.432 369.36 
" clip-path="url(#p4227d49ff3)" style="fill: none; stroke: #bcbd22; stroke-width: 1.5; stroke-linejoin: miter"/>
   </g>
   <g id="line2d_144">
    <path d="M 500.184 369.36 
L 500.184 177.02352 
L 500.184 177.02352 
L 500.184 369.36 
" clip-path="url(#p4227d49ff3)" style="fill: none; stroke: #bcbd22; stroke-width: 1.5; stroke-linejoin: miter"/>
   </g>
   <g id="line2d_145">
    <path d="M 497.736 369.36 
L 497.736 160.2 
L 504.576 160.2 
L 504.576 369.36 
" clip-path="url(#p4227d49ff3)" style="fill: none; stroke: #bcbd22; stroke-width: 1.5; stroke-linejoin: miter"/>
   </g>
   <g id="line2d_146">
    <path d="M 498.24 369.36 
L 498.24 160.2 
L 498.24 160.2 
L 498.24 369.36 
" clip-path="url(#p4227d49ff3)" style="fill: none; stroke: #bcbd22; stroke-width: 1.5; stroke-linejoin: miter"/>
   </g>
   <g id="line2d_147">
    <path d="M 498.96 369.36 
L 498.96 160.2 
L 498.96 160.2 
L 498.96 369.36 
" clip-path="url(#p4227d49ff3)" style="fill: none; stroke: #bcbd22; stroke-width: 1.5; stroke-linejoin: miter"/>
   </g>
   <g id="line2d_148">
    <path d="M 499.68 369.36 
L 499.68 160.2 
L 499.68 160.2 
L 499.68 369.36 
" clip-path="url(#p4227d49ff3)" style="fill: none; stroke: #bcbd22; stroke-width: 1.5; stroke-linejoin: miter"/>
   </g>
   <g id="line2d_149">
    <path d="M 500.4 369.36 
L 500.4 160.2 
L 500.4 160.2 
L 500.4 369.36 
" clip-path="url(#p4227d49ff3)" style="fill: none; stroke: #bcbd22; stroke-width: 1.5; stroke-linejoin: miter"/>
   </g>
   <g id="line2d_150">
    <path d="M 502.2 369.36 
L 502.2 160.2 
L 502.2 160.2 
L 502.2 369.36 
" clip-path="url(#p4227d49ff3)" style="fill: none; stroke: #bcbd22; stroke-width: 1.5; stroke-linejoin: miter"/>
   </g>
   <g id="line2d_151">
    <path d="M 502.92 369.36 
L 502.92 160.2 
L 502.92 160.2 
L 502.92 369.36 
" clip-path="url(#p4227d49ff3)" style="fill: none; stroke: #bcbd22; stroke-width: 1.5; stroke-linejoin: miter"/>
   </g>
   <g id="line2d_152">
    <path d="M 503.64 369.36 
L 503.64 160.2 
L 503.64 160.2 
L 503.64 369.36 
" clip-path="url(#p4227d49ff3)" style="fill: none; stroke: #bcbd22; stroke-width: 1.5; stroke-linejoin: miter"/>
   </g>
   <g id="line2d_153">
    <path d="M 504.216 369.36 
L 504.216 160.2 
L 504.216 160.2 
L 504.216 369.36 
" clip-path="url(#p4227d49ff3)" style="fill: none; stroke: #bcbd22; stroke-width: 1.5; stroke-linejoin: miter"/>
   </g>
   <g id="line2d_154">
    <path d="M 502.56 369.36 
L 502.56 354.24 
L 502.56 354.24 
L 502.56 369.36 
" clip-path="url(#p4227d49ff3)" style="fill: none; stroke: #bcbd22; stroke-width: 1.5; stroke-linejoin: miter"/>
   </g>
   <g id="line2d_155">
    <path d="M 504.72 369.36 
L 504.72 354.24 
L 504.72 354.24 
L 504.72 369.36 
" clip-path="url(#p4227d49ff3)" style="fill: none; stroke: #bcbd22; stroke-width: 1.5; stroke-linejoin: miter"/>
   </g>
   <g id="line2d_156">
    <path d="M 506.88 369.36 
L 506.88 354.24 
L 506.88 354.24 
L 506.88 369.36 
" clip-path="url(#p4227d49ff3)" style="fill: none; stroke: #bcbd22; stroke-width: 1.5; stroke-linejoin: miter"/>
   </g>
   <g id="line2d_157">
    <path d="M 509.04 369.36 
L 509.04 354.24 
L 509.04 354.24 
L 509.04 369.36 
" clip-path="url(#p4227d49ff3)" style="fill: none; stroke: #bcbd22; stroke-width: 1.5; stroke-linejoin: miter"/>
   </g>
   <g id="line2d_158">
    <path d="M 511.2 369.36 
L 511.2 354.24 
L 511.2 354.24 
L 511.2 369.36 
" clip-path="url(#p4227d49ff3)" style="fill: none; stroke: #bcbd22; stroke-width: 1.5; stroke-linejoin: miter"/>
   </g>
   <g id="line2d_159">
    <path d="M 583.272 369.36 
L 583.272 175.43952 
L 590.544 175.43952 
L 590.544 369.36 
" clip-path="url(#p4227d49ff3)" style="fill: none; stroke: #bcbd22; stroke-width: 1.5; stroke-linejoin: miter"/>
   </g>
   <g id="line2d_160">
    <path d="M 586.98 369.36 
L 586.98 177.02352 
L 586.98 177.02352 
L 586.98 369.36 
" clip-path="url(#p4227d49ff3)" style="fill: none; stroke: #bcbd22; stroke-width: 1.5; stroke-linejoin: miter"/>
   </g>
   <g id="line2d_161">
    <path d="M 590.976 369.36 
L 590.976 175.43952 
L 598.248 175.43952 
L 598.248 369.36 
" clip-path="url(#p4227d49ff3)" style="fill: none; stroke: #bcbd22; stroke-width: 1.5; stroke-linejoin: miter"/>
   </g>
   <g id="line2d_162">
    <path d="M 594.684 369.36 
L 594.684 177.02352 
L 594.684 177.02352 
L 594.684 369.36 
" clip-path="url(#p4227d49ff3)" style="fill: none; stroke: #bcbd22; stroke-width: 1.5; stroke-linejoin: miter"/>
   </g>
   <g id="line2d_163">
    <path d="M 598.68 369.36 
L 598.68 175.43952 
L 605.952 175.43952 
L 605.952 369.36 
" clip-path="url(#p4227d49ff3)" style="fill: none; stroke: #bcbd22; stroke-width: 1.5; stroke-linejoin: miter"/>
   </g>
   <g id="line2d_164">
    <path d="M 602.388 369.36 
L 602.388 177.02352 
L 602.388 177.02352 
L 602.388 369.36 
" clip-path="url(#p4227d49ff3)" style="fill: none; stroke: #bcbd22; stroke-width: 1.5; stroke-linejoin: miter"/>
   </g>
   <g id="line2d_165">
    <path d="M 606.384 369.36 
L 606.384 175.43952 
L 613.656 175.43952 
L 613.656 369.36 
" clip-path="url(#p4227d49ff3)" style="fill: none; stroke: #bcbd22; stroke-width: 1.5; stroke-linejoin: miter"/>
   </g>
   <g id="line2d_166">
    <path d="M 610.092 369.36 
L 610.092 177.02352 
L 610.092 177.02352 
L 610.092 369.36 
" clip-path="url(#p4227d49ff3)" style="fill: none; stroke: #bcbd22; stroke-width: 1.5; stroke-linejoin: miter"/>
   </g>
   <g id="line2d_167">
    <path d="M 614.088 369.36 
L 614.088 175.43952 
L 621.36 175.43952 
L 621.36 369.36 
" clip-path="url(#p4227d49ff3)" style="fill: none; stroke: #bcbd22; stroke-width: 1.5; stroke-linejoin: miter"/>
   </g>
   <g id="line2d_168">
    <path d="M 617.796 369.36 
L 617.796 177.02352 
L 617.796 177.02352 
L 617.796 369.36 
" clip-path="url(#p4227d49ff3)" style="fill: none; stroke: #bcbd22; stroke-width: 1.5; stroke-linejoin: miter"/>
   </g>
   <g id="line2d_169">
    <path d="M 115.2 369.36 
L 623.52 369.36 
" clip-path="url(#p4227d49ff3)" style="fill: none; stroke: #17becf; stroke-width: 1.5; stroke-linecap: square"/>
   </g>
   <g id="line2d_170">
    <path d="M 456.84 175.43952 
L 459 175.43952 
" clip-path="url(#p4227d49ff3)" style="fill: none; stroke: #17becf; stroke-width: 1.5; stroke-linejoin: miter"/>
   </g>
   <g id="line2d_171">
    <path d="M 462.96 175.43952 
L 465.12 175.43952 
" clip-path="url(#p4227d49ff3)" style="fill: none; stroke: #17becf; stroke-width: 1.5; stroke-linejoin: miter"/>
   </g>
   <g id="line2d_172">
    <path d="M 505.152 159.552 
L 505.152 175.43952 
" clip-path="url(#p4227d49ff3)" style="fill: none; stroke: #17becf; stroke-width: 1.5; stroke-linejoin: miter"/>
   </g>
   <g id="line2d_173">
    <path d="M 114.696 369.36 
L 114.696 351 
L 123.84 351 
L 123.84 369.36 
" clip-path="url(#p4227d49ff3)" style="fill: none; stroke: #17becf; stroke-width: 1.5; stroke-linejoin: miter"/>
   </g>
   <g id="line2d_174">
    <path d="M 125.928 369.36 
L 125.928 175.43952 
L 128.376 175.43952 
L 128.376 369.36 
" clip-path="url(#p4227d49ff3)" style="fill: none; stroke: #17becf; stroke-width: 1.5; stroke-linejoin: miter"/>
   </g>
   <g id="line2d_175">
    <path d="M 131.688 369.36 
L 131.688 175.43952 
L 134.136 175.43952 
L 134.136 369.36 
" clip-path="url(#p4227d49ff3)" style="fill: none; stroke: #17becf; stroke-width: 1.5; stroke-linejoin: miter"/>
   </g>
   <g id="line2d_176">
    <path d="M 137.448 369.36 
L 137.448 175.43952 
L 139.536 175.43952 
L 139.536 369.36 
" clip-path="url(#p4227d49ff3)" style="fill: none; stroke: #17becf; stroke-width: 1.5; stroke-linejoin: miter"/>
   </g>
   <g id="line2d_177">
    <path d="M 137.1888 369.36 
L 137.1888 66.672 
L 137.1888 66.672 
L 137.1888 369.36 
" clip-path="url(#p4227d49ff3)" style="fill: none; stroke: #17becf; stroke-width: 1.5; stroke-linejoin: miter"/>
   </g>
   <g id="line2d_178">
    <path d="M 137.88 369.36 
L 137.88 66.672 
L 137.88 66.672 
L 137.88 369.36 
" clip-path="url(#p4227d49ff3)" style="fill: none; stroke: #17becf; stroke-width: 1.5; stroke-linejoin: miter"/>
   </g>
   <g id="line2d_179">
    <path d="M 138.6 369.36 
L 138.6 66.672 
L 138.6 66.672 
L 138.6 369.36 
" clip-path="url(#p4227d49ff3)" style="fill: none; stroke: #17becf; stroke-width: 1.5; stroke-linejoin: miter"/>
   </g>
   <g id="line2d_180">
    <path d="M 139.032 369.36 
L 139.032 66.672 
L 139.032 66.672 
L 139.032 369.36 
" clip-path="url(#p4227d49ff3)" style="fill: none; stroke: #17becf; stroke-width: 1.5; stroke-linejoin: miter"/>
   </g>
   <g id="line2d_181">
    <path d="M 137.1888 369.36 
L 137.1888 66.672 
L 139.032 66.672 
L 139.032 369.36 
" clip-path="url(#p4227d49ff3)" style="fill: none; stroke: #17becf; stroke-width: 1.5; stroke-linejoin: miter"/>
   </g>
   <g id="line2d_182">
    <path d="M 147.168 369.36 
L 147.168 175.43952 
L 150.84 175.43952 
L 150.84 369.36 
" clip-path="url(#p4227d49ff3)" style="fill: none; stroke: #17becf; stroke-width: 1.5; stroke-linejoin: miter"/>
   </g>
   <g id="line2d_183">
    <path d="M 154.152 369.36 
L 154.152 175.43952 
L 157.824 175.43952 
L 157.824 369.36 
" clip-path="url(#p4227d49ff3)" style="fill: none; stroke: #17becf; stroke-width: 1.5; stroke-linejoin: miter"/>
   </g>
   <g id="line2d_184">
    <path d="M 238.248 369.36 
L 238.248 175.43952 
L 243 175.43952 
L 243 369.36 
" clip-path="url(#p4227d49ff3)" style="fill: none; stroke: #17becf; stroke-width: 1.5; stroke-linejoin: miter"/>
   </g>
   <g id="line2d_185">
    <path d="M 246.312 369.36 
L 246.312 175.43952 
L 251.064 175.43952 
L 251.064 369.36 
" clip-path="url(#p4227d49ff3)" style="fill: none; stroke: #17becf; stroke-width: 1.5; stroke-linejoin: miter"/>
   </g>
   <g id="line2d_186">
    <path d="M 254.376 369.36 
L 254.376 175.43952 
L 259.128 175.43952 
L 259.128 369.36 
" clip-path="url(#p4227d49ff3)" style="fill: none; stroke: #17becf; stroke-width: 1.5; stroke-linejoin: miter"/>
   </g>
   <g id="line2d_187">
    <path d="M 262.44 369.36 
L 262.44 175.43952 
L 267.192 175.43952 
L 267.192 369.36 
" clip-path="url(#p4227d49ff3)" style="fill: none; stroke: #17becf; stroke-width: 1.5; stroke-linejoin: miter"/>
   </g>
   <g id="line2d_188">
    <path d="M 270.504 369.36 
L 270.504 175.43952 
L 272.736 175.43952 
L 272.736 369.36 
" clip-path="url(#p4227d49ff3)" style="fill: none; stroke: #17becf; stroke-width: 1.5; stroke-linejoin: miter"/>
   </g>
   <g id="line2d_189">
    <path d="M 270.72 369.36 
L 270.72 198.72 
L 276.48 198.72 
L 276.48 369.36 
" clip-path="url(#p4227d49ff3)" style="fill: none; stroke: #17becf; stroke-width: 1.5; stroke-linejoin: miter"/>
   </g>
   <g id="line2d_190">
    <path d="M 305.28 369.36 
L 305.28 175.43952 
L 308.16 175.43952 
L 308.16 369.36 
" clip-path="url(#p4227d49ff3)" style="fill: none; stroke: #17becf; stroke-width: 1.5; stroke-linejoin: miter"/>
   </g>
   <g id="line2d_191">
    <path d="M 311.4 369.36 
L 311.4 176.15952 
L 311.4 176.15952 
L 311.4 369.36 
" clip-path="url(#p4227d49ff3)" style="fill: none; stroke: #17becf; stroke-width: 1.5; stroke-linejoin: miter"/>
   </g>
   <g id="line2d_192">
    <path d="M 308.16 369.36 
L 308.16 175.43952 
L 311.4 175.43952 
L 311.4 369.36 
" clip-path="url(#p4227d49ff3)" style="fill: none; stroke: #17becf; stroke-width: 1.5; stroke-linejoin: miter"/>
   </g>
   <g id="line2d_193">
    <path d="M 316.44 369.36 
L 316.44 175.43952 
L 318.6 175.43952 
L 318.6 369.36 
" clip-path="url(#p4227d49ff3)" style="fill: none; stroke: #17becf; stroke-width: 1.5; stroke-linejoin: miter"/>
   </g>
   <g id="line2d_194">
    <path d="M 317.52 369.36 
L 317.52 175.43952 
L 317.52 175.43952 
L 317.52 369.36 
" clip-path="url(#p4227d49ff3)" style="fill: none; stroke: #17becf; stroke-width: 1.5; stroke-linejoin: miter"/>
   </g>
   <g id="line2d_195">
    <path d="M 321.984 369.36 
L 321.984 176.87952 
L 321.984 176.87952 
L 321.984 369.36 
" clip-path="url(#p4227d49ff3)" style="fill: none; stroke: #17becf; stroke-width: 1.5; stroke-linejoin: miter"/>
   </g>
   <g id="line2d_196">
    <path d="M 324.36 369.36 
L 324.36 198.72 
L 326.88 198.72 
L 326.88 369.36 
" clip-path="url(#p4227d49ff3)" style="fill: none; stroke: #17becf; stroke-width: 1.5; stroke-linejoin: miter"/>
   </g>
   <g id="line2d_197">
    <path d="M 352.008 369.36 
L 352.008 175.43952 
L 357.912 175.43952 
L 357.912 369.36 
" clip-path="url(#p4227d49ff3)" style="fill: none; stroke: #17becf; stroke-width: 1.5; stroke-linejoin: miter"/>
   </g>
   <g id="line2d_198">
    <path d="M 361.224 369.36 
L 361.224 175.43952 
L 367.128 175.43952 
L 367.128 369.36 
" clip-path="url(#p4227d49ff3)" style="fill: none; stroke: #17becf; stroke-width: 1.5; stroke-linejoin: miter"/>
   </g>
   <g id="line2d_199">
    <path d="M 370.44 369.36 
L 370.44 175.43952 
L 376.344 175.43952 
L 376.344 369.36 
" clip-path="url(#p4227d49ff3)" style="fill: none; stroke: #17becf; stroke-width: 1.5; stroke-linejoin: miter"/>
   </g>
   <g id="line2d_200">
    <path d="M 379.656 369.36 
L 379.656 175.43952 
L 385.56 175.43952 
L 385.56 369.36 
" clip-path="url(#p4227d49ff3)" style="fill: none; stroke: #17becf; stroke-width: 1.5; stroke-linejoin: miter"/>
   </g>
   <g id="line2d_201">
    <path d="M 467.28 369.36 
L 467.28 176.15952 
L 467.28 176.15952 
L 467.28 369.36 
" clip-path="url(#p4227d49ff3)" style="fill: none; stroke: #17becf; stroke-width: 1.5; stroke-linejoin: miter"/>
   </g>
   <g id="line2d_202">
    <path d="M 470.088 369.36 
L 470.088 175.43952 
L 475.848 175.43952 
L 475.848 369.36 
" clip-path="url(#p4227d49ff3)" style="fill: none; stroke: #17becf; stroke-width: 1.5; stroke-linejoin: miter"/>
   </g>
   <g id="line2d_203">
    <path d="M 479.16 369.36 
L 479.16 175.43952 
L 484.92 175.43952 
L 484.92 369.36 
" clip-path="url(#p4227d49ff3)" style="fill: none; stroke: #17becf; stroke-width: 1.5; stroke-linejoin: miter"/>
   </g>
   <g id="line2d_204">
    <path d="M 488.232 369.36 
L 488.232 175.43952 
L 493.992 175.43952 
L 493.992 369.36 
" clip-path="url(#p4227d49ff3)" style="fill: none; stroke: #17becf; stroke-width: 1.5; stroke-linejoin: miter"/>
   </g>
   <g id="line2d_205">
    <path d="M 497.304 369.36 
L 497.304 175.43952 
L 503.064 175.43952 
L 503.064 369.36 
" clip-path="url(#p4227d49ff3)" style="fill: none; stroke: #17becf; stroke-width: 1.5; stroke-linejoin: miter"/>
   </g>
   <g id="line2d_206">
    <path d="M 505.08 369.36 
L 505.08 175.43952 
L 509.4 175.43952 
L 509.4 369.36 
" clip-path="url(#p4227d49ff3)" style="fill: none; stroke: #17becf; stroke-width: 1.5; stroke-linejoin: miter"/>
   </g>
   <g id="line2d_207">
    <path d="M 500.4 369.36 
L 500.4 352.8 
L 512.64 352.8 
L 512.64 369.36 
" clip-path="url(#p4227d49ff3)" style="fill: none; stroke: #17becf; stroke-width: 1.5; stroke-linejoin: miter"/>
   </g>
   <g id="line2d_208">
    <path d="M 584.784 369.36 
L 584.784 175.43952 
L 589.176 175.43952 
L 589.176 369.36 
" clip-path="url(#p4227d49ff3)" style="fill: none; stroke: #17becf; stroke-width: 1.5; stroke-linejoin: miter"/>
   </g>
   <g id="line2d_209">
    <path d="M 592.488 369.36 
L 592.488 175.43952 
L 596.88 175.43952 
L 596.88 369.36 
" clip-path="url(#p4227d49ff3)" style="fill: none; stroke: #17becf; stroke-width: 1.5; stroke-linejoin: miter"/>
   </g>
   <g id="line2d_210">
    <path d="M 600.192 369.36 
L 600.192 175.43952 
L 604.584 175.43952 
L 604.584 369.36 
" clip-path="url(#p4227d49ff3)" style="fill: none; stroke: #17becf; stroke-width: 1.5; stroke-linejoin: miter"/>
   </g>
   <g id="line2d_211">
    <path d="M 607.896 369.36 
L 607.896 175.43952 
L 612.288 175.43952 
L 612.288 369.36 
" clip-path="url(#p4227d49ff3)" style="fill: none; stroke: #17becf; stroke-width: 1.5; stroke-linejoin: miter"/>
   </g>
   <g id="line2d_212">
    <path d="M 615.6 369.36 
L 615.6 175.43952 
L 619.992 175.43952 
L 619.992 369.36 
" clip-path="url(#p4227d49ff3)" style="fill: none; stroke: #17becf; stroke-width: 1.5; stroke-linejoin: miter"/>
   </g>
   <g id="patch_3">
    <path d="M 90 384.48 
L 90 51.84 
" style="fill: none; stroke: #000000; stroke-width: 0.72; stroke-linejoin: miter; stroke-linecap: square; shape-rendering: crispEdges" transform="translate(0.38 0.38)"/>
   </g>
   <g id="patch_4">
    <path d="M 648 384.48 
L 648 51.84 
" style="fill: none; stroke: #000000; stroke-width: 0.72; stroke-linejoin: miter; stroke-linecap: square; shape-rendering: crispEdges" transform="translate(0.38 0.38)"/>
   </g>
   <g id="patch_5">
    <path d="M 90 384.48 
L 648 384.48 
" style="fill: none; stroke: #000000; stroke-width: 0.72; stroke-linejoin: miter; stroke-linecap: square; shape-rendering: crispEdges" transform="translate(0.38 0.38)"/>
   </g>
   <g id="patch_6">
    <path d="M 90 51.84 
L 648 51.84 
" style="fill: none; stroke: #000000; stroke-width: 0.72; stroke-linejoin: miter; stroke-linecap: square; shape-rendering: crispEdges" transform="translate(0.38 0.38)"/>
   </g>
   <g id="line2d_213">
    <path d="M 259.776 369.36 
L 259.776 177.31152 
L 259.776 177.31152 
L 259.776 369.36 
" clip-path="url(#p4227d49ff3)" style="fill: none; stroke: #9467bd; stroke-width: 1.5; stroke-linejoin: miter"/>
   </g>
   <g id="line2d_214">
    <path d="M 373.536 369.36 
L 373.536 177.31152 
L 373.536 177.31152 
L 373.536 369.36 
" clip-path="url(#p4227d49ff3)" style="fill: none; stroke: #9467bd; stroke-width: 1.5; stroke-linejoin: miter"/>
   </g>
   <g id="line2d_215">
    <path d="M 491.616 369.36 
L 491.616 177.31152 
L 491.616 177.31152 
L 491.616 369.36 
" clip-path="url(#p4227d49ff3)" style="fill: none; stroke: #9467bd; stroke-width: 1.5; stroke-linejoin: miter"/>
   </g>
   <g id="line2d_216">
    <path d="M 606.096 369.36 
L 606.096 177.31152 
L 606.096 177.31152 
L 606.096 369.36 
" clip-path="url(#p4227d49ff3)" style="fill: none; stroke: #9467bd; stroke-width: 1.5; stroke-linejoin: miter"/>
   </g>
   <g id="line2d_217">
    <path d="M 139.536 369.36 
L 139.536 177.31152 
L 139.536 177.31152 
L 139.536 369.36 
" clip-path="url(#p4227d49ff3)" style="fill: none; stroke: #8c564b; stroke-width: 1.5; stroke-linejoin: miter"/>
   </g>
   <g id="line2d_218">
    <path d="M 251.856 369.36 
L 251.856 177.31152 
L 251.856 177.31152 
L 251.856 369.36 
" clip-path="url(#p4227d49ff3)" style="fill: none; stroke: #8c564b; stroke-width: 1.5; stroke-linejoin: miter"/>
   </g>
   <g id="line2d_219">
    <path d="M 365.616 369.36 
L 365.616 177.31152 
L 365.616 177.31152 
L 365.616 369.36 
" clip-path="url(#p4227d49ff3)" style="fill: none; stroke: #8c564b; stroke-width: 1.5; stroke-linejoin: miter"/>
   </g>
   <g id="line2d_220">
    <path d="M 483.696 369.36 
L 483.696 177.31152 
L 483.696 177.31152 
L 483.696 369.36 
" clip-path="url(#p4227d49ff3)" style="fill: none; stroke: #8c564b; stroke-width: 1.5; stroke-linejoin: miter"/>
   </g>
   <g id="line2d_221">
    <path d="M 598.176 369.36 
L 598.176 177.31152 
L 598.176 177.31152 
L 598.176 369.36 
" clip-path="url(#p4227d49ff3)" style="fill: none; stroke: #8c564b; stroke-width: 1.5; stroke-linejoin: miter"/>
   </g>
   <g id="line2d_222">
    <path d="M 131.616 369.36 
L 131.616 177.31152 
L 131.616 177.31152 
L 131.616 369.36 
" clip-path="url(#p4227d49ff3)" style="fill: none; stroke: #7f7f7f; stroke-width: 1.5; stroke-linejoin: miter"/>
   </g>
   <g id="line2d_223">
    <path d="M 152.496 369.36 
L 152.496 177.31152 
L 152.496 177.31152 
L 152.496 369.36 
" clip-path="url(#p4227d49ff3)" style="fill: none; stroke: #7f7f7f; stroke-width: 1.5; stroke-linejoin: miter"/>
   </g>
   <g id="line2d_224">
    <path d="M 243.936 369.36 
L 243.936 177.31152 
L 243.936 177.31152 
L 243.936 369.36 
" clip-path="url(#p4227d49ff3)" style="fill: none; stroke: #7f7f7f; stroke-width: 1.5; stroke-linejoin: miter"/>
   </g>
   <g id="line2d_225">
    <path d="M 267.696 369.36 
L 267.696 177.31152 
L 267.696 177.31152 
L 267.696 369.36 
" clip-path="url(#p4227d49ff3)" style="fill: none; stroke: #7f7f7f; stroke-width: 1.5; stroke-linejoin: miter"/>
   </g>
   <g id="line2d_226">
    <path d="M 276.336 369.36 
L 276.336 203.04 
L 276.336 203.04 
L 276.336 369.36 
" clip-path="url(#p4227d49ff3)" style="fill: none; stroke: #7f7f7f; stroke-width: 1.5; stroke-linejoin: miter"/>
   </g>
   <g id="line2d_227">
    <path d="M 357.696 369.36 
L 357.696 177.31152 
L 357.696 177.31152 
L 357.696 369.36 
" clip-path="url(#p4227d49ff3)" style="fill: none; stroke: #7f7f7f; stroke-width: 1.5; stroke-linejoin: miter"/>
   </g>
   <g id="line2d_228">
    <path d="M 381.456 369.36 
L 381.456 177.31152 
L 381.456 177.31152 
L 381.456 369.36 
" clip-path="url(#p4227d49ff3)" style="fill: none; stroke: #7f7f7f; stroke-width: 1.5; stroke-linejoin: miter"/>
   </g>
   <g id="line2d_229">
    <path d="M 475.776 369.36 
L 475.776 177.31152 
L 475.776 177.31152 
L 475.776 369.36 
" clip-path="url(#p4227d49ff3)" style="fill: none; stroke: #7f7f7f; stroke-width: 1.5; stroke-linejoin: miter"/>
   </g>
   <g id="line2d_230">
    <path d="M 499.536 369.36 
L 499.536 177.31152 
L 499.536 177.31152 
L 499.536 369.36 
" clip-path="url(#p4227d49ff3)" style="fill: none; stroke: #7f7f7f; stroke-width: 1.5; stroke-linejoin: miter"/>
   </g>
   <g id="line2d_231">
    <path d="M 590.256 369.36 
L 590.256 177.31152 
L 590.256 177.31152 
L 590.256 369.36 
" clip-path="url(#p4227d49ff3)" style="fill: none; stroke: #7f7f7f; stroke-width: 1.5; stroke-linejoin: miter"/>
   </g>
   <g id="line2d_232">
    <path d="M 614.016 369.36 
L 614.016 177.31152 
L 614.016 177.31152 
L 614.016 369.36 
" clip-path="url(#p4227d49ff3)" style="fill: none; stroke: #7f7f7f; stroke-width: 1.5; stroke-linejoin: miter"/>
   </g>
   <g id="line2d_233">
    <path d="M 125.28 369.36 
L 125.28 177.31152 
L 125.28 177.31152 
L 125.28 369.36 
" clip-path="url(#p4227d49ff3)" style="fill: none; stroke: #bcbd22; stroke-width: 1.5; stroke-linejoin: miter"/>
   </g>
   <g id="line2d_234">
    <path d="M 128.448 369.36 
L 128.448 177.31152 
L 128.448 177.31152 
L 128.448 369.36 
" clip-path="url(#p4227d49ff3)" style="fill: none; stroke: #bcbd22; stroke-width: 1.5; stroke-linejoin: miter"/>
   </g>
   <g id="line2d_235">
    <path d="M 133.2 369.36 
L 133.2 177.31152 
L 133.2 177.31152 
L 133.2 369.36 
" clip-path="url(#p4227d49ff3)" style="fill: none; stroke: #bcbd22; stroke-width: 1.5; stroke-linejoin: miter"/>
   </g>
   <g id="line2d_236">
    <path d="M 136.368 369.36 
L 136.368 177.31152 
L 136.368 177.31152 
L 136.368 369.36 
" clip-path="url(#p4227d49ff3)" style="fill: none; stroke: #bcbd22; stroke-width: 1.5; stroke-linejoin: miter"/>
   </g>
   <g id="line2d_237">
    <path d="M 141.12 369.36 
L 141.12 177.31152 
L 141.12 177.31152 
L 141.12 369.36 
" clip-path="url(#p4227d49ff3)" style="fill: none; stroke: #bcbd22; stroke-width: 1.5; stroke-linejoin: miter"/>
   </g>
   <g id="line2d_238">
    <path d="M 146.16 369.36 
L 146.16 177.31152 
L 146.16 177.31152 
L 146.16 369.36 
" clip-path="url(#p4227d49ff3)" style="fill: none; stroke: #bcbd22; stroke-width: 1.5; stroke-linejoin: miter"/>
   </g>
   <g id="line2d_239">
    <path d="M 149.328 369.36 
L 149.328 177.31152 
L 149.328 177.31152 
L 149.328 369.36 
" clip-path="url(#p4227d49ff3)" style="fill: none; stroke: #bcbd22; stroke-width: 1.5; stroke-linejoin: miter"/>
   </g>
   <g id="line2d_240">
    <path d="M 154.08 369.36 
L 154.08 177.31152 
L 154.08 177.31152 
L 154.08 369.36 
" clip-path="url(#p4227d49ff3)" style="fill: none; stroke: #bcbd22; stroke-width: 1.5; stroke-linejoin: miter"/>
   </g>
   <g id="line2d_241">
    <path d="M 157.248 369.36 
L 157.248 177.31152 
L 157.248 177.31152 
L 157.248 369.36 
" clip-path="url(#p4227d49ff3)" style="fill: none; stroke: #bcbd22; stroke-width: 1.5; stroke-linejoin: miter"/>
   </g>
   <g id="line2d_242">
    <path d="M 237.6 369.36 
L 237.6 177.31152 
L 237.6 177.31152 
L 237.6 369.36 
" clip-path="url(#p4227d49ff3)" style="fill: none; stroke: #bcbd22; stroke-width: 1.5; stroke-linejoin: miter"/>
   </g>
   <g id="line2d_243">
    <path d="M 240.768 369.36 
L 240.768 177.31152 
L 240.768 177.31152 
L 240.768 369.36 
" clip-path="url(#p4227d49ff3)" style="fill: none; stroke: #bcbd22; stroke-width: 1.5; stroke-linejoin: miter"/>
   </g>
   <g id="line2d_244">
    <path d="M 245.52 369.36 
L 245.52 177.31152 
L 245.52 177.31152 
L 245.52 369.36 
" clip-path="url(#p4227d49ff3)" style="fill: none; stroke: #bcbd22; stroke-width: 1.5; stroke-linejoin: miter"/>
   </g>
   <g id="line2d_245">
    <path d="M 248.688 369.36 
L 248.688 177.31152 
L 248.688 177.31152 
L 248.688 369.36 
" clip-path="url(#p4227d49ff3)" style="fill: none; stroke: #bcbd22; stroke-width: 1.5; stroke-linejoin: miter"/>
   </g>
   <g id="line2d_246">
    <path d="M 253.44 369.36 
L 253.44 177.31152 
L 253.44 177.31152 
L 253.44 369.36 
" clip-path="url(#p4227d49ff3)" style="fill: none; stroke: #bcbd22; stroke-width: 1.5; stroke-linejoin: miter"/>
   </g>
   <g id="line2d_247">
    <path d="M 256.608 369.36 
L 256.608 177.31152 
L 256.608 177.31152 
L 256.608 369.36 
" clip-path="url(#p4227d49ff3)" style="fill: none; stroke: #bcbd22; stroke-width: 1.5; stroke-linejoin: miter"/>
   </g>
   <g id="line2d_248">
    <path d="M 261.36 369.36 
L 261.36 177.31152 
L 261.36 177.31152 
L 261.36 369.36 
" clip-path="url(#p4227d49ff3)" style="fill: none; stroke: #bcbd22; stroke-width: 1.5; stroke-linejoin: miter"/>
   </g>
   <g id="line2d_249">
    <path d="M 264.528 369.36 
L 264.528 177.31152 
L 264.528 177.31152 
L 264.528 369.36 
" clip-path="url(#p4227d49ff3)" style="fill: none; stroke: #bcbd22; stroke-width: 1.5; stroke-linejoin: miter"/>
   </g>
   <g id="line2d_250">
    <path d="M 269.28 369.36 
L 269.28 177.31152 
L 269.28 177.31152 
L 269.28 369.36 
" clip-path="url(#p4227d49ff3)" style="fill: none; stroke: #bcbd22; stroke-width: 1.5; stroke-linejoin: miter"/>
   </g>
   <g id="line2d_251">
    <path d="M 272.448 369.36 
L 272.448 177.31152 
L 272.448 177.31152 
L 272.448 369.36 
" clip-path="url(#p4227d49ff3)" style="fill: none; stroke: #bcbd22; stroke-width: 1.5; stroke-linejoin: miter"/>
   </g>
   <g id="line2d_252">
    <path d="M 270 369.36 
L 270 203.04 
L 270 203.04 
L 270 369.36 
" clip-path="url(#p4227d49ff3)" style="fill: none; stroke: #bcbd22; stroke-width: 1.5; stroke-linejoin: miter"/>
   </g>
   <g id="line2d_253">
    <path d="M 273.168 369.36 
L 273.168 203.04 
L 273.168 203.04 
L 273.168 369.36 
" clip-path="url(#p4227d49ff3)" style="fill: none; stroke: #bcbd22; stroke-width: 1.5; stroke-linejoin: miter"/>
   </g>
   <g id="line2d_254">
    <path d="M 277.92 369.36 
L 277.92 203.04 
L 277.92 203.04 
L 277.92 369.36 
" clip-path="url(#p4227d49ff3)" style="fill: none; stroke: #bcbd22; stroke-width: 1.5; stroke-linejoin: miter"/>
   </g>
   <g id="line2d_255">
    <path d="M 351.36 369.36 
L 351.36 177.31152 
L 351.36 177.31152 
L 351.36 369.36 
" clip-path="url(#p4227d49ff3)" style="fill: none; stroke: #bcbd22; stroke-width: 1.5; stroke-linejoin: miter"/>
   </g>
   <g id="line2d_256">
    <path d="M 354.528 369.36 
L 354.528 177.31152 
L 354.528 177.31152 
L 354.528 369.36 
" clip-path="url(#p4227d49ff3)" style="fill: none; stroke: #bcbd22; stroke-width: 1.5; stroke-linejoin: miter"/>
   </g>
   <g id="line2d_257">
    <path d="M 359.28 369.36 
L 359.28 177.31152 
L 359.28 177.31152 
L 359.28 369.36 
" clip-path="url(#p4227d49ff3)" style="fill: none; stroke: #bcbd22; stroke-width: 1.5; stroke-linejoin: miter"/>
   </g>
   <g id="line2d_258">
    <path d="M 362.448 369.36 
L 362.448 177.31152 
L 362.448 177.31152 
L 362.448 369.36 
" clip-path="url(#p4227d49ff3)" style="fill: none; stroke: #bcbd22; stroke-width: 1.5; stroke-linejoin: miter"/>
   </g>
   <g id="line2d_259">
    <path d="M 367.2 369.36 
L 367.2 177.31152 
L 367.2 177.31152 
L 367.2 369.36 
" clip-path="url(#p4227d49ff3)" style="fill: none; stroke: #bcbd22; stroke-width: 1.5; stroke-linejoin: miter"/>
   </g>
   <g id="line2d_260">
    <path d="M 370.368 369.36 
L 370.368 177.31152 
L 370.368 177.31152 
L 370.368 369.36 
" clip-path="url(#p4227d49ff3)" style="fill: none; stroke: #bcbd22; stroke-width: 1.5; stroke-linejoin: miter"/>
   </g>
   <g id="line2d_261">
    <path d="M 375.12 369.36 
L 375.12 177.31152 
L 375.12 177.31152 
L 375.12 369.36 
" clip-path="url(#p4227d49ff3)" style="fill: none; stroke: #bcbd22; stroke-width: 1.5; stroke-linejoin: miter"/>
   </g>
   <g id="line2d_262">
    <path d="M 378.288 369.36 
L 378.288 177.31152 
L 378.288 177.31152 
L 378.288 369.36 
" clip-path="url(#p4227d49ff3)" style="fill: none; stroke: #bcbd22; stroke-width: 1.5; stroke-linejoin: miter"/>
   </g>
   <g id="line2d_263">
    <path d="M 383.04 369.36 
L 383.04 177.31152 
L 383.04 177.31152 
L 383.04 369.36 
" clip-path="url(#p4227d49ff3)" style="fill: none; stroke: #bcbd22; stroke-width: 1.5; stroke-linejoin: miter"/>
   </g>
   <g id="line2d_264">
    <path d="M 386.208 369.36 
L 386.208 177.31152 
L 386.208 177.31152 
L 386.208 369.36 
" clip-path="url(#p4227d49ff3)" style="fill: none; stroke: #bcbd22; stroke-width: 1.5; stroke-linejoin: miter"/>
   </g>
   <g id="line2d_265">
    <path d="M 469.44 369.36 
L 469.44 177.31152 
L 469.44 177.31152 
L 469.44 369.36 
" clip-path="url(#p4227d49ff3)" style="fill: none; stroke: #bcbd22; stroke-width: 1.5; stroke-linejoin: miter"/>
   </g>
   <g id="line2d_266">
    <path d="M 472.608 369.36 
L 472.608 177.31152 
L 472.608 177.31152 
L 472.608 369.36 
" clip-path="url(#p4227d49ff3)" style="fill: none; stroke: #bcbd22; stroke-width: 1.5; stroke-linejoin: miter"/>
   </g>
   <g id="line2d_267">
    <path d="M 477.36 369.36 
L 477.36 177.31152 
L 477.36 177.31152 
L 477.36 369.36 
" clip-path="url(#p4227d49ff3)" style="fill: none; stroke: #bcbd22; stroke-width: 1.5; stroke-linejoin: miter"/>
   </g>
   <g id="line2d_268">
    <path d="M 480.528 369.36 
L 480.528 177.31152 
L 480.528 177.31152 
L 480.528 369.36 
" clip-path="url(#p4227d49ff3)" style="fill: none; stroke: #bcbd22; stroke-width: 1.5; stroke-linejoin: miter"/>
   </g>
   <g id="line2d_269">
    <path d="M 485.28 369.36 
L 485.28 177.31152 
L 485.28 177.31152 
L 485.28 369.36 
" clip-path="url(#p4227d49ff3)" style="fill: none; stroke: #bcbd22; stroke-width: 1.5; stroke-linejoin: miter"/>
   </g>
   <g id="line2d_270">
    <path d="M 488.448 369.36 
L 488.448 177.31152 
L 488.448 177.31152 
L 488.448 369.36 
" clip-path="url(#p4227d49ff3)" style="fill: none; stroke: #bcbd22; stroke-width: 1.5; stroke-linejoin: miter"/>
   </g>
   <g id="line2d_271">
    <path d="M 493.2 369.36 
L 493.2 177.31152 
L 493.2 177.31152 
L 493.2 369.36 
" clip-path="url(#p4227d49ff3)" style="fill: none; stroke: #bcbd22; stroke-width: 1.5; stroke-linejoin: miter"/>
   </g>
   <g id="line2d_272">
    <path d="M 496.368 369.36 
L 496.368 177.31152 
L 496.368 177.31152 
L 496.368 369.36 
" clip-path="url(#p4227d49ff3)" style="fill: none; stroke: #bcbd22; stroke-width: 1.5; stroke-linejoin: miter"/>
   </g>
   <g id="line2d_273">
    <path d="M 501.12 369.36 
L 501.12 177.31152 
L 501.12 177.31152 
L 501.12 369.36 
" clip-path="url(#p4227d49ff3)" style="fill: none; stroke: #bcbd22; stroke-width: 1.5; stroke-linejoin: miter"/>
   </g>
   <g id="line2d_274">
    <path d="M 583.92 369.36 
L 583.92 177.31152 
L 583.92 177.31152 
L 583.92 369.36 
" clip-path="url(#p4227d49ff3)" style="fill: none; stroke: #bcbd22; stroke-width: 1.5; stroke-linejoin: miter"/>
   </g>
   <g id="line2d_275">
    <path d="M 587.088 369.36 
L 587.088 177.31152 
L 587.088 177.31152 
L 587.088 369.36 
" clip-path="url(#p4227d49ff3)" style="fill: none; stroke: #bcbd22; stroke-width: 1.5; stroke-linejoin: miter"/>
   </g>
   <g id="line2d_276">
    <path d="M 591.84 369.36 
L 591.84 177.31152 
L 591.84 177.31152 
L 591.84 369.36 
" clip-path="url(#p4227d49ff3)" style="fill: none; stroke: #bcbd22; stroke-width: 1.5; stroke-linejoin: miter"/>
   </g>
   <g id="line2d_277">
    <path d="M 595.008 369.36 
L 595.008 177.31152 
L 595.008 177.31152 
L 595.008 369.36 
" clip-path="url(#p4227d49ff3)" style="fill: none; stroke: #bcbd22; stroke-width: 1.5; stroke-linejoin: miter"/>
   </g>
   <g id="line2d_278">
    <path d="M 599.76 369.36 
L 599.76 177.31152 
L 599.76 177.31152 
L 599.76 369.36 
" clip-path="url(#p4227d49ff3)" style="fill: none; stroke: #bcbd22; stroke-width: 1.5; stroke-linejoin: miter"/>
   </g>
   <g id="line2d_279">
    <path d="M 602.928 369.36 
L 602.928 177.31152 
L 602.928 177.31152 
L 602.928 369.36 
" clip-path="url(#p4227d49ff3)" style="fill: none; stroke: #bcbd22; stroke-width: 1.5; stroke-linejoin: miter"/>
   </g>
   <g id="line2d_280">
    <path d="M 607.68 369.36 
L 607.68 177.31152 
L 607.68 177.31152 
L 607.68 369.36 
" clip-path="url(#p4227d49ff3)" style="fill: none; stroke: #bcbd22; stroke-width: 1.5; stroke-linejoin: miter"/>
   </g>
   <g id="line2d_281">
    <path d="M 610.848 369.36 
L 610.848 177.31152 
L 610.848 177.31152 
L 610.848 369.36 
" clip-path="url(#p4227d49ff3)" style="fill: none; stroke: #bcbd22; stroke-width: 1.5; stroke-linejoin: miter"/>
   </g>
   <g id="line2d_282">
    <path d="M 615.6 369.36 
L 615.6 177.31152 
L 615.6 177.31152 
L 615.6 369.36 
" clip-path="url(#p4227d49ff3)" style="fill: none; stroke: #bcbd22; stroke-width: 1.5; stroke-linejoin: miter"/>
   </g>
   <g id="line2d_283">
    <path d="M 618.768 369.36 
L 618.768 177.31152 
L 618.768 177.31152 
L 618.768 369.36 
" clip-path="url(#p4227d49ff3)" style="fill: none; stroke: #bcbd22; stroke-width: 1.5; stroke-linejoin: miter"/>
   </g>
   <g id="line2d_284">
    <path d="M 126.864 369.36 
L 126.864 177.31152 
L 126.864 177.31152 
L 126.864 369.36 
" clip-path="url(#p4227d49ff3)" style="fill: none; stroke: #17becf; stroke-width: 1.5; stroke-linejoin: miter"/>
   </g>
   <g id="line2d_285">
    <path d="M 130.032 369.36 
L 130.032 177.31152 
L 130.032 177.31152 
L 130.032 369.36 
" clip-path="url(#p4227d49ff3)" style="fill: none; stroke: #17becf; stroke-width: 1.5; stroke-linejoin: miter"/>
   </g>
   <g id="line2d_286">
    <path d="M 134.784 369.36 
L 134.784 177.31152 
L 134.784 177.31152 
L 134.784 369.36 
" clip-path="url(#p4227d49ff3)" style="fill: none; stroke: #17becf; stroke-width: 1.5; stroke-linejoin: miter"/>
   </g>
   <g id="line2d_287">
    <path d="M 137.952 369.36 
L 137.952 177.31152 
L 137.952 177.31152 
L 137.952 369.36 
" clip-path="url(#p4227d49ff3)" style="fill: none; stroke: #17becf; stroke-width: 1.5; stroke-linejoin: miter"/>
   </g>
   <g id="line2d_288">
    <path d="M 147.744 369.36 
L 147.744 177.31152 
L 147.744 177.31152 
L 147.744 369.36 
" clip-path="url(#p4227d49ff3)" style="fill: none; stroke: #17becf; stroke-width: 1.5; stroke-linejoin: miter"/>
   </g>
   <g id="line2d_289">
    <path d="M 150.912 369.36 
L 150.912 177.31152 
L 150.912 177.31152 
L 150.912 369.36 
" clip-path="url(#p4227d49ff3)" style="fill: none; stroke: #17becf; stroke-width: 1.5; stroke-linejoin: miter"/>
   </g>
   <g id="line2d_290">
    <path d="M 155.664 369.36 
L 155.664 177.31152 
L 155.664 177.31152 
L 155.664 369.36 
" clip-path="url(#p4227d49ff3)" style="fill: none; stroke: #17becf; stroke-width: 1.5; stroke-linejoin: miter"/>
   </g>
   <g id="line2d_291">
    <path d="M 158.832 369.36 
L 158.832 177.31152 
L 158.832 177.31152 
L 158.832 369.36 
" clip-path="url(#p4227d49ff3)" style="fill: none; stroke: #17becf; stroke-width: 1.5; stroke-linejoin: miter"/>
   </g>
   <g id="line2d_292">
    <path d="M 239.184 369.36 
L 239.184 177.31152 
L 239.184 177.31152 
L 239.184 369.36 
" clip-path="url(#p4227d49ff3)" style="fill: none; stroke: #17becf; stroke-width: 1.5; stroke-linejoin: miter"/>
   </g>
   <g id="line2d_293">
    <path d="M 242.352 369.36 
L 242.352 177.31152 
L 242.352 177.31152 
L 242.352 369.36 
" clip-path="url(#p4227d49ff3)" style="fill: none; stroke: #17becf; stroke-width: 1.5; stroke-linejoin: miter"/>
   </g>
   <g id="line2d_294">
    <path d="M 247.104 369.36 
L 247.104 177.31152 
L 247.104 177.31152 
L 247.104 369.36 
" clip-path="url(#p4227d49ff3)" style="fill: none; stroke: #17becf; stroke-width: 1.5; stroke-linejoin: miter"/>
   </g>
   <g id="line2d_295">
    <path d="M 250.272 369.36 
L 250.272 177.31152 
L 250.272 177.31152 
L 250.272 369.36 
" clip-path="url(#p4227d49ff3)" style="fill: none; stroke: #17becf; stroke-width: 1.5; stroke-linejoin: miter"/>
   </g>
   <g id="line2d_296">
    <path d="M 255.024 369.36 
L 255.024 177.31152 
L 255.024 177.31152 
L 255.024 369.36 
" clip-path="url(#p4227d49ff3)" style="fill: none; stroke: #17becf; stroke-width: 1.5; stroke-linejoin: miter"/>
   </g>
   <g id="line2d_297">
    <path d="M 258.192 369.36 
L 258.192 177.31152 
L 258.192 177.31152 
L 258.192 369.36 
" clip-path="url(#p4227d49ff3)" style="fill: none; stroke: #17becf; stroke-width: 1.5; stroke-linejoin: miter"/>
   </g>
   <g id="line2d_298">
    <path d="M 262.944 369.36 
L 262.944 177.31152 
L 262.944 177.31152 
L 262.944 369.36 
" clip-path="url(#p4227d49ff3)" style="fill: none; stroke: #17becf; stroke-width: 1.5; stroke-linejoin: miter"/>
   </g>
   <g id="line2d_299">
    <path d="M 266.112 369.36 
L 266.112 177.31152 
L 266.112 177.31152 
L 266.112 369.36 
" clip-path="url(#p4227d49ff3)" style="fill: none; stroke: #17becf; stroke-width: 1.5; stroke-linejoin: miter"/>
   </g>
   <g id="line2d_300">
    <path d="M 270.864 369.36 
L 270.864 177.31152 
L 270.864 177.31152 
L 270.864 369.36 
" clip-path="url(#p4227d49ff3)" style="fill: none; stroke: #17becf; stroke-width: 1.5; stroke-linejoin: miter"/>
   </g>
   <g id="line2d_301">
    <path d="M 274.032 369.36 
L 274.032 177.31152 
L 274.032 177.31152 
L 274.032 369.36 
" clip-path="url(#p4227d49ff3)" style="fill: none; stroke: #17becf; stroke-width: 1.5; stroke-linejoin: miter"/>
   </g>
   <g id="line2d_302">
    <path d="M 271.584 369.36 
L 271.584 203.04 
L 271.584 203.04 
L 271.584 369.36 
" clip-path="url(#p4227d49ff3)" style="fill: none; stroke: #17becf; stroke-width: 1.5; stroke-linejoin: miter"/>
   </g>
   <g id="line2d_303">
    <path d="M 274.752 369.36 
L 274.752 203.04 
L 274.752 203.04 
L 274.752 369.36 
" clip-path="url(#p4227d49ff3)" style="fill: none; stroke: #17becf; stroke-width: 1.5; stroke-linejoin: miter"/>
   </g>
   <g id="line2d_304">
    <path d="M 352.944 369.36 
L 352.944 177.31152 
L 352.944 177.31152 
L 352.944 369.36 
" clip-path="url(#p4227d49ff3)" style="fill: none; stroke: #17becf; stroke-width: 1.5; stroke-linejoin: miter"/>
   </g>
   <g id="line2d_305">
    <path d="M 356.112 369.36 
L 356.112 177.31152 
L 356.112 177.31152 
L 356.112 369.36 
" clip-path="url(#p4227d49ff3)" style="fill: none; stroke: #17becf; stroke-width: 1.5; stroke-linejoin: miter"/>
   </g>
   <g id="line2d_306">
    <path d="M 360.864 369.36 
L 360.864 177.31152 
L 360.864 177.31152 
L 360.864 369.36 
" clip-path="url(#p4227d49ff3)" style="fill: none; stroke: #17becf; stroke-width: 1.5; stroke-linejoin: miter"/>
   </g>
   <g id="line2d_307">
    <path d="M 364.032 369.36 
L 364.032 177.31152 
L 364.032 177.31152 
L 364.032 369.36 
" clip-path="url(#p4227d49ff3)" style="fill: none; stroke: #17becf; stroke-width: 1.5; stroke-linejoin: miter"/>
   </g>
   <g id="line2d_308">
    <path d="M 368.784 369.36 
L 368.784 177.31152 
L 368.784 177.31152 
L 368.784 369.36 
" clip-path="url(#p4227d49ff3)" style="fill: none; stroke: #17becf; stroke-width: 1.5; stroke-linejoin: miter"/>
   </g>
   <g id="line2d_309">
    <path d="M 371.952 369.36 
L 371.952 177.31152 
L 371.952 177.31152 
L 371.952 369.36 
" clip-path="url(#p4227d49ff3)" style="fill: none; stroke: #17becf; stroke-width: 1.5; stroke-linejoin: miter"/>
   </g>
   <g id="line2d_310">
    <path d="M 376.704 369.36 
L 376.704 177.31152 
L 376.704 177.31152 
L 376.704 369.36 
" clip-path="url(#p4227d49ff3)" style="fill: none; stroke: #17becf; stroke-width: 1.5; stroke-linejoin: miter"/>
   </g>
   <g id="line2d_311">
    <path d="M 379.872 369.36 
L 379.872 177.31152 
L 379.872 177.31152 
L 379.872 369.36 
" clip-path="url(#p4227d49ff3)" style="fill: none; stroke: #17becf; stroke-width: 1.5; stroke-linejoin: miter"/>
   </g>
   <g id="line2d_312">
    <path d="M 384.624 369.36 
L 384.624 177.31152 
L 384.624 177.31152 
L 384.624 369.36 
" clip-path="url(#p4227d49ff3)" style="fill: none; stroke: #17becf; stroke-width: 1.5; stroke-linejoin: miter"/>
   </g>
   <g id="line2d_313">
    <path d="M 387.792 369.36 
L 387.792 177.31152 
L 387.792 177.31152 
L 387.792 369.36 
" clip-path="url(#p4227d49ff3)" style="fill: none; stroke: #17becf; stroke-width: 1.5; stroke-linejoin: miter"/>
   </g>
   <g id="line2d_314">
    <path d="M 471.024 369.36 
L 471.024 177.31152 
L 471.024 177.31152 
L 471.024 369.36 
" clip-path="url(#p4227d49ff3)" style="fill: none; stroke: #17becf; stroke-width: 1.5; stroke-linejoin: miter"/>
   </g>
   <g id="line2d_315">
    <path d="M 474.192 369.36 
L 474.192 177.31152 
L 474.192 177.31152 
L 474.192 369.36 
" clip-path="url(#p4227d49ff3)" style="fill: none; stroke: #17becf; stroke-width: 1.5; stroke-linejoin: miter"/>
   </g>
   <g id="line2d_316">
    <path d="M 478.944 369.36 
L 478.944 177.31152 
L 478.944 177.31152 
L 478.944 369.36 
" clip-path="url(#p4227d49ff3)" style="fill: none; stroke: #17becf; stroke-width: 1.5; stroke-linejoin: miter"/>
   </g>
   <g id="line2d_317">
    <path d="M 482.112 369.36 
L 482.112 177.31152 
L 482.112 177.31152 
L 482.112 369.36 
" clip-path="url(#p4227d49ff3)" style="fill: none; stroke: #17becf; stroke-width: 1.5; stroke-linejoin: miter"/>
   </g>
   <g id="line2d_318">
    <path d="M 486.864 369.36 
L 486.864 177.31152 
L 486.864 177.31152 
L 486.864 369.36 
" clip-path="url(#p4227d49ff3)" style="fill: none; stroke: #17becf; stroke-width: 1.5; stroke-linejoin: miter"/>
   </g>
   <g id="line2d_319">
    <path d="M 490.032 369.36 
L 490.032 177.31152 
L 490.032 177.31152 
L 490.032 369.36 
" clip-path="url(#p4227d49ff3)" style="fill: none; stroke: #17becf; stroke-width: 1.5; stroke-linejoin: miter"/>
   </g>
   <g id="line2d_320">
    <path d="M 494.784 369.36 
L 494.784 177.31152 
L 494.784 177.31152 
L 494.784 369.36 
" clip-path="url(#p4227d49ff3)" style="fill: none; stroke: #17becf; stroke-width: 1.5; stroke-linejoin: miter"/>
   </g>
   <g id="line2d_321">
    <path d="M 497.952 369.36 
L 497.952 177.31152 
L 497.952 177.31152 
L 497.952 369.36 
" clip-path="url(#p4227d49ff3)" style="fill: none; stroke: #17becf; stroke-width: 1.5; stroke-linejoin: miter"/>
   </g>
   <g id="line2d_322">
    <path d="M 502.704 369.36 
L 502.704 177.31152 
L 502.704 177.31152 
L 502.704 369.36 
" clip-path="url(#p4227d49ff3)" style="fill: none; stroke: #17becf; stroke-width: 1.5; stroke-linejoin: miter"/>
   </g>
   <g id="line2d_323">
    <path d="M 585.504 369.36 
L 585.504 177.31152 
L 585.504 177.31152 
L 585.504 369.36 
" clip-path="url(#p4227d49ff3)" style="fill: none; stroke: #17becf; stroke-width: 1.5; stroke-linejoin: miter"/>
   </g>
   <g id="line2d_324">
    <path d="M 588.672 369.36 
L 588.672 177.31152 
L 588.672 177.31152 
L 588.672 369.36 
" clip-path="url(#p4227d49ff3)" style="fill: none; stroke: #17becf; stroke-width: 1.5; stroke-linejoin: miter"/>
   </g>
   <g id="line2d_325">
    <path d="M 593.424 369.36 
L 593.424 177.31152 
L 593.424 177.31152 
L 593.424 369.36 
" clip-path="url(#p4227d49ff3)" style="fill: none; stroke: #17becf; stroke-width: 1.5; stroke-linejoin: miter"/>
   </g>
   <g id="line2d_326">
    <path d="M 596.592 369.36 
L 596.592 177.31152 
L 596.592 177.31152 
L 596.592 369.36 
" clip-path="url(#p4227d49ff3)" style="fill: none; stroke: #17becf; stroke-width: 1.5; stroke-linejoin: miter"/>
   </g>
   <g id="line2d_327">
    <path d="M 601.344 369.36 
L 601.344 177.31152 
L 601.344 177.31152 
L 601.344 369.36 
" clip-path="url(#p4227d49ff3)" style="fill: none; stroke: #17becf; stroke-width: 1.5; stroke-linejoin: miter"/>
   </g>
   <g id="line2d_328">
    <path d="M 604.512 369.36 
L 604.512 177.31152 
L 604.512 177.31152 
L 604.512 369.36 
" clip-path="url(#p4227d49ff3)" style="fill: none; stroke: #17becf; stroke-width: 1.5; stroke-linejoin: miter"/>
   </g>
   <g id="line2d_329">
    <path d="M 609.264 369.36 
L 609.264 177.31152 
L 609.264 177.31152 
L 609.264 369.36 
" clip-path="url(#p4227d49ff3)" style="fill: none; stroke: #17becf; stroke-width: 1.5; stroke-linejoin: miter"/>
   </g>
   <g id="line2d_330">
    <path d="M 612.432 369.36 
L 612.432 177.31152 
L 612.432 177.31152 
L 612.432 369.36 
" clip-path="url(#p4227d49ff3)" style="fill: none; stroke: #17becf; stroke-width: 1.5; stroke-linejoin: miter"/>
   </g>
   <g id="line2d_331">
    <path d="M 617.184 369.36 
L 617.184 177.31152 
L 617.184 177.31152 
L 617.184 369.36 
" clip-path="url(#p4227d49ff3)" style="fill: none; stroke: #17becf; stroke-width: 1.5; stroke-linejoin: miter"/>
   </g>
   <g id="line2d_332">
    <path d="M 620.352 369.36 
L 620.352 177.31152 
L 620.352 177.31152 
L 620.352 369.36 
" clip-path="url(#p4227d49ff3)" style="fill: none; stroke: #17becf; stroke-width: 1.5; stroke-linejoin: miter"/>
   </g>
   <g id="text_15">
    <text style="font-size: 12px; font-family: 'DejaVu Sans', sans-serif; white-space: pre; text-anchor: middle" x="369" y="45.84" transform="rotate(-0 369 45.84)">Rate of transaction processing  -  v0.38.0-alpha.2</text>
   </g>
   <g id="patch_7">
    <path d="M 120.24 240.84 
L 123.12 240.84 
L 123.12 270 
L 120.24 270 
z
M 120.24 282.96 
L 123.12 282.96 
L 123.12 312.48 
L 120.24 312.48 
z
M 120.24 325.44 
L 123.12 325.44 
L 123.12 360 
L 120.24 360 
z
M 123.12 201.6 
L 123.84 201.6 
L 123.84 362.16 
L 123.12 362.16 
z
M 123.84 201.6 
L 125.28 201.6 
L 125.28 355.68 
L 123.84 355.68 
z
M 125.28 201.6 
L 128.16 201.6 
L 128.16 362.16 
L 125.28 362.16 
z
M 128.16 201.6 
L 128.88 201.6 
L 128.88 298.8 
L 128.16 298.8 
z
M 128.16 299.88 
L 128.88 299.88 
L 128.88 342.72 
L 128.16 342.72 
z
M 128.16 357.84 
L 128.88 357.84 
L 128.88 362.16 
L 128.16 362.16 
z
M 128.88 201.6 
L 130.32 201.6 
L 130.32 256.32 
L 128.88 256.32 
z
M 128.88 257.4 
L 130.32 257.4 
L 130.32 298.8 
L 128.88 298.8 
z
M 128.88 299.88 
L 130.32 299.88 
L 130.32 342.72 
L 128.88 342.72 
z
M 128.88 357.84 
L 130.32 357.84 
L 130.32 362.16 
L 128.88 362.16 
z
M 130.32 183.6 
L 131.4 183.6 
L 131.4 213.84 
L 130.32 213.84 
z
M 130.32 218.16 
L 131.4 218.16 
L 131.4 256.32 
L 130.32 256.32 
z
M 130.32 257.4 
L 131.4 257.4 
L 131.4 298.8 
L 130.32 298.8 
z
M 130.32 299.88 
L 131.4 299.88 
L 131.4 342.72 
L 130.32 342.72 
z
M 130.32 357.84 
L 131.4 357.84 
L 131.4 362.16 
L 130.32 362.16 
z
M 131.4 153.36 
L 131.76 153.36 
L 131.76 171 
L 131.4 171 
z
M 131.4 183.6 
L 131.76 183.6 
L 131.76 213.84 
L 131.4 213.84 
z
M 131.4 218.16 
L 131.76 218.16 
L 131.76 256.32 
L 131.4 256.32 
z
M 131.4 257.4 
L 131.76 257.4 
L 131.76 298.8 
L 131.4 298.8 
z
M 131.4 299.88 
L 131.76 299.88 
L 131.76 342.72 
L 131.4 342.72 
z
M 131.4 357.84 
L 131.76 357.84 
L 131.76 362.16 
L 131.4 362.16 
z
M 131.76 153.36 
L 132.12 153.36 
L 132.12 171 
L 131.76 171 
z
M 131.76 183.6 
L 132.12 183.6 
L 132.12 213.84 
L 131.76 213.84 
z
M 131.76 218.16 
L 132.12 218.16 
L 132.12 256.32 
L 131.76 256.32 
z
M 131.76 268.2 
L 132.12 268.2 
L 132.12 298.8 
L 131.76 298.8 
z
M 131.76 299.88 
L 132.12 299.88 
L 132.12 342.72 
L 131.76 342.72 
z
M 131.76 357.84 
L 132.12 357.84 
L 132.12 362.16 
L 131.76 362.16 
z
M 132.12 153.36 
L 134.28 153.36 
L 134.28 171 
L 132.12 171 
z
M 132.12 175.68 
L 134.28 175.68 
L 134.28 213.84 
L 132.12 213.84 
z
M 132.12 218.16 
L 134.28 218.16 
L 134.28 256.32 
L 132.12 256.32 
z
M 132.12 268.2 
L 134.28 268.2 
L 134.28 298.8 
L 132.12 298.8 
z
M 132.12 308.88 
L 134.28 308.88 
L 134.28 342.72 
L 132.12 342.72 
z
M 132.12 357.84 
L 134.28 357.84 
L 134.28 362.16 
L 132.12 362.16 
z
M 134.28 153.36 
L 135 153.36 
L 135 171 
L 134.28 171 
z
M 134.28 175.68 
L 135 175.68 
L 135 213.84 
L 134.28 213.84 
z
M 134.28 218.16 
L 135 218.16 
L 135 256.32 
L 134.28 256.32 
z
M 134.28 257.4 
L 135 257.4 
L 135 298.8 
L 134.28 298.8 
z
M 134.28 308.88 
L 135 308.88 
L 135 342.72 
L 134.28 342.72 
z
M 134.28 357.84 
L 135 357.84 
L 135 362.16 
L 134.28 362.16 
z
M 135 153.36 
L 135.36 153.36 
L 135.36 171 
L 135 171 
z
M 135 175.68 
L 135.36 175.68 
L 135.36 213.84 
L 135 213.84 
z
M 135 218.16 
L 135.36 218.16 
L 135.36 256.32 
L 135 256.32 
z
M 135 257.4 
L 135.36 257.4 
L 135.36 298.8 
L 135 298.8 
z
M 135 299.88 
L 135.36 299.88 
L 135.36 342.72 
L 135 342.72 
z
M 135 357.84 
L 135.36 357.84 
L 135.36 362.16 
L 135 362.16 
z
M 135.36 153.36 
L 136.08 153.36 
L 136.08 171 
L 135.36 171 
z
M 135.36 175.68 
L 136.08 175.68 
L 136.08 213.84 
L 135.36 213.84 
z
M 135.36 218.16 
L 136.08 218.16 
L 136.08 256.32 
L 135.36 256.32 
z
M 135.36 257.4 
L 136.08 257.4 
L 136.08 298.8 
L 135.36 298.8 
z
M 135.36 299.88 
L 136.08 299.88 
L 136.08 362.16 
L 135.36 362.16 
z
M 136.08 153.36 
L 136.8 153.36 
L 136.8 171 
L 136.08 171 
z
M 136.08 175.68 
L 136.8 175.68 
L 136.8 213.84 
L 136.08 213.84 
z
M 136.08 218.16 
L 136.8 218.16 
L 136.8 362.16 
L 136.08 362.16 
z
M 136.8 153.36 
L 137.52 153.36 
L 137.52 171 
L 136.8 171 
z
M 136.8 175.68 
L 137.52 175.68 
L 137.52 213.84 
L 136.8 213.84 
z
M 136.8 218.16 
L 137.52 218.16 
L 137.52 249.84 
L 136.8 249.84 
z
M 136.8 257.4 
L 137.52 257.4 
L 137.52 287.28 
L 136.8 287.28 
z
M 136.8 299.88 
L 137.52 299.88 
L 137.52 330.12 
L 136.8 330.12 
z
M 136.8 342 
L 137.52 342 
L 137.52 362.16 
L 136.8 362.16 
z
M 137.52 153.36 
L 139.32 153.36 
L 139.32 171 
L 137.52 171 
z
M 137.52 175.68 
L 139.32 175.68 
L 139.32 205.92 
L 137.52 205.92 
z
M 137.52 218.16 
L 139.32 218.16 
L 139.32 249.84 
L 137.52 249.84 
z
M 137.52 257.4 
L 139.32 257.4 
L 139.32 287.28 
L 137.52 287.28 
z
M 137.52 299.88 
L 139.32 299.88 
L 139.32 330.12 
L 137.52 330.12 
z
M 137.52 342 
L 139.32 342 
L 139.32 362.16 
L 137.52 362.16 
z
M 139.32 175.68 
L 140.76 175.68 
L 140.76 205.92 
L 139.32 205.92 
z
M 139.32 218.16 
L 140.76 218.16 
L 140.76 249.84 
L 139.32 249.84 
z
M 139.32 257.4 
L 140.76 257.4 
L 140.76 287.28 
L 139.32 287.28 
z
M 139.32 299.88 
L 140.76 299.88 
L 140.76 330.12 
L 139.32 330.12 
z
M 139.32 342 
L 140.76 342 
L 140.76 362.16 
L 139.32 362.16 
z
M 140.76 257.4 
L 142.2 257.4 
L 142.2 287.28 
L 140.76 287.28 
z
M 140.76 299.88 
L 142.2 299.88 
L 142.2 330.12 
L 140.76 330.12 
z
M 140.76 342 
L 142.2 342 
L 142.2 363.6 
L 140.76 363.6 
z
M 142.2 257.4 
L 142.56 257.4 
L 142.56 363.6 
L 142.2 363.6 
z
M 142.56 257.4 
L 143.28 257.4 
L 143.28 269.28 
L 142.56 269.28 
z
M 142.56 281.88 
L 143.28 281.88 
L 143.28 363.6 
L 142.56 363.6 
z
M 143.28 195.84 
L 144 195.84 
L 144 269.28 
L 143.28 269.28 
z
M 143.28 281.88 
L 144 281.88 
L 144 363.6 
L 143.28 363.6 
z
M 144 195.84 
L 144.72 195.84 
L 144.72 269.28 
L 144 269.28 
z
M 144 281.88 
L 144.72 281.88 
L 144.72 311.76 
L 144 311.76 
z
M 144 324 
L 144.72 324 
L 144.72 363.6 
L 144 363.6 
z
M 144.72 182.16 
L 146.16 182.16 
L 146.16 269.28 
L 144.72 269.28 
z
M 144.72 281.88 
L 146.16 281.88 
L 146.16 311.76 
L 144.72 311.76 
z
M 144.72 324 
L 146.16 324 
L 146.16 362.16 
L 144.72 362.16 
z
M 146.16 182.16 
L 146.88 182.16 
L 146.88 311.76 
L 146.16 311.76 
z
M 146.16 324 
L 146.88 324 
L 146.88 362.16 
L 146.16 362.16 
z
M 146.88 182.16 
L 149.76 182.16 
L 149.76 362.16 
L 146.88 362.16 
z
M 149.76 182.16 
L 150.12 182.16 
L 150.12 335.52 
L 149.76 335.52 
z
M 149.76 342 
L 150.12 342 
L 150.12 362.16 
L 149.76 362.16 
z
M 150.12 182.16 
L 150.48 182.16 
L 150.48 292.32 
L 150.12 292.32 
z
M 150.12 299.88 
L 150.48 299.88 
L 150.48 335.52 
L 150.12 335.52 
z
M 150.12 342 
L 150.48 342 
L 150.48 362.16 
L 150.12 362.16 
z
M 150.48 182.16 
L 152.28 182.16 
L 152.28 249.84 
L 150.48 249.84 
z
M 150.48 257.4 
L 152.28 257.4 
L 152.28 292.32 
L 150.48 292.32 
z
M 150.48 299.88 
L 152.28 299.88 
L 152.28 335.52 
L 150.48 335.52 
z
M 150.48 342 
L 152.28 342 
L 152.28 362.16 
L 150.48 362.16 
z
M 152.28 189.36 
L 152.64 189.36 
L 152.64 202.68 
L 152.28 202.68 
z
M 152.28 215.28 
L 152.64 215.28 
L 152.64 249.84 
L 152.28 249.84 
z
M 152.28 257.4 
L 152.64 257.4 
L 152.64 292.32 
L 152.28 292.32 
z
M 152.28 299.88 
L 152.64 299.88 
L 152.64 335.52 
L 152.28 335.52 
z
M 152.28 342 
L 152.64 342 
L 152.64 362.16 
L 152.28 362.16 
z
M 152.64 189.36 
L 153.36 189.36 
L 153.36 202.68 
L 152.64 202.68 
z
M 152.64 215.28 
L 153.36 215.28 
L 153.36 249.84 
L 152.64 249.84 
z
M 152.64 257.4 
L 153.36 257.4 
L 153.36 292.32 
L 152.64 292.32 
z
M 152.64 299.88 
L 153.36 299.88 
L 153.36 330.12 
L 152.64 330.12 
z
M 152.64 342 
L 153.36 342 
L 153.36 362.16 
L 152.64 362.16 
z
M 153.36 189.36 
L 160.2 189.36 
L 160.2 202.68 
L 153.36 202.68 
z
M 153.36 215.28 
L 160.2 215.28 
L 160.2 245.52 
L 153.36 245.52 
z
M 153.36 257.4 
L 160.2 257.4 
L 160.2 288 
L 153.36 288 
z
M 153.36 299.88 
L 160.2 299.88 
L 160.2 330.12 
L 153.36 330.12 
z
M 153.36 342 
L 160.2 342 
L 160.2 362.16 
L 153.36 362.16 
z
M 160.2 189.36 
L 160.56 189.36 
L 160.56 330.12 
L 160.2 330.12 
z
M 160.2 342 
L 160.56 342 
L 160.56 362.16 
L 160.2 362.16 
z
M 160.56 216 
L 162 216 
L 162 330.12 
L 160.56 330.12 
z
M 160.56 342 
L 162 342 
L 162 363.6 
L 160.56 363.6 
z
M 234.72 224.64 
L 235.44 224.64 
L 235.44 360 
L 234.72 360 
z
M 235.44 200.88 
L 241.92 200.88 
L 241.92 216 
L 235.44 216 
z
M 235.44 224.64 
L 241.92 224.64 
L 241.92 258.48 
L 235.44 258.48 
z
M 235.44 271.44 
L 241.92 271.44 
L 241.92 300.96 
L 235.44 300.96 
z
M 235.44 309.6 
L 241.92 309.6 
L 241.92 343.44 
L 235.44 343.44 
z
M 235.44 352.08 
L 241.92 352.08 
L 241.92 360 
L 235.44 360 
z
M 241.92 200.88 
L 242.64 200.88 
L 242.64 216 
L 241.92 216 
z
M 241.92 224.64 
L 242.64 224.64 
L 242.64 254.16 
L 241.92 254.16 
z
M 241.92 271.44 
L 242.64 271.44 
L 242.64 297 
L 241.92 297 
z
M 241.92 309.6 
L 242.64 309.6 
L 242.64 339.12 
L 241.92 339.12 
z
M 241.92 352.08 
L 242.64 352.08 
L 242.64 360 
L 241.92 360 
z
M 242.64 200.88 
L 243.72 200.88 
L 243.72 216 
L 242.64 216 
z
M 242.64 224.64 
L 243.72 224.64 
L 243.72 254.16 
L 242.64 254.16 
z
M 242.64 258.48 
L 243.72 258.48 
L 243.72 297 
L 242.64 297 
z
M 242.64 300.96 
L 243.72 300.96 
L 243.72 339.12 
L 242.64 339.12 
z
M 242.64 343.44 
L 243.72 343.44 
L 243.72 360 
L 242.64 360 
z
M 243.72 224.64 
L 245.52 224.64 
L 245.52 254.16 
L 243.72 254.16 
z
M 243.72 258.48 
L 245.52 258.48 
L 245.52 297 
L 243.72 297 
z
M 243.72 300.96 
L 245.52 300.96 
L 245.52 339.12 
L 243.72 339.12 
z
M 243.72 343.44 
L 245.52 343.44 
L 245.52 360 
L 243.72 360 
z
M 245.52 206.64 
L 246.24 206.64 
L 246.24 246.24 
L 245.52 246.24 
z
M 245.52 248.4 
L 246.24 248.4 
L 246.24 297 
L 245.52 297 
z
M 245.52 300.96 
L 246.24 300.96 
L 246.24 339.12 
L 245.52 339.12 
z
M 245.52 343.44 
L 246.24 343.44 
L 246.24 362.88 
L 245.52 362.88 
z
M 246.24 206.64 
L 250.56 206.64 
L 250.56 246.24 
L 246.24 246.24 
z
M 246.24 248.4 
L 250.56 248.4 
L 250.56 289.08 
L 246.24 289.08 
z
M 246.24 290.88 
L 250.56 290.88 
L 250.56 362.88 
L 246.24 362.88 
z
M 250.56 206.64 
L 251.28 206.64 
L 251.28 246.24 
L 250.56 246.24 
z
M 250.56 248.4 
L 251.28 248.4 
L 251.28 362.88 
L 250.56 362.88 
z
M 251.28 206.64 
L 253.44 206.64 
L 253.44 278.64 
L 251.28 278.64 
z
M 251.28 282.96 
L 253.44 282.96 
L 253.44 321.12 
L 251.28 321.12 
z
M 251.28 325.44 
L 253.44 325.44 
L 253.44 362.88 
L 251.28 362.88 
z
M 253.44 198 
L 254.16 198 
L 254.16 278.64 
L 253.44 278.64 
z
M 253.44 282.96 
L 254.16 282.96 
L 254.16 321.12 
L 253.44 321.12 
z
M 253.44 325.44 
L 254.16 325.44 
L 254.16 357.84 
L 253.44 357.84 
z
M 254.16 198 
L 259.92 198 
L 259.92 228.24 
L 254.16 228.24 
z
M 254.16 240.12 
L 259.92 240.12 
L 259.92 270.72 
L 254.16 270.72 
z
M 254.16 282.6 
L 259.92 282.6 
L 259.92 313.2 
L 254.16 313.2 
z
M 254.16 325.08 
L 259.92 325.08 
L 259.92 357.84 
L 254.16 357.84 
z
M 259.92 198 
L 262.08 198 
L 262.08 272.88 
L 259.92 272.88 
z
M 259.92 285.12 
L 262.08 285.12 
L 262.08 315.36 
L 259.92 315.36 
z
M 259.92 327.6 
L 262.08 327.6 
L 262.08 357.84 
L 259.92 357.84 
z
M 262.08 200.88 
L 265.68 200.88 
L 265.68 230.4 
L 262.08 230.4 
z
M 262.08 243.36 
L 265.68 243.36 
L 265.68 272.88 
L 262.08 272.88 
z
M 262.08 285.12 
L 265.68 285.12 
L 265.68 315.36 
L 262.08 315.36 
z
M 262.08 327.6 
L 265.68 327.6 
L 265.68 357.84 
L 262.08 357.84 
z
M 265.68 200.88 
L 267.12 200.88 
L 267.12 230.4 
L 265.68 230.4 
z
M 265.68 243.36 
L 267.12 243.36 
L 267.12 282.6 
L 265.68 282.6 
z
M 265.68 285.48 
L 267.12 285.48 
L 267.12 325.08 
L 265.68 325.08 
z
M 265.68 327.96 
L 267.12 327.96 
L 267.12 357.84 
L 265.68 357.84 
z
M 267.12 200.88 
L 270.72 200.88 
L 270.72 230.4 
L 267.12 230.4 
z
M 267.12 243.36 
L 270.72 243.36 
L 270.72 282.6 
L 267.12 282.6 
z
M 267.12 285.48 
L 270.72 285.48 
L 270.72 325.08 
L 267.12 325.08 
z
M 270.72 210.96 
L 272.16 210.96 
L 272.16 240.12 
L 270.72 240.12 
z
M 270.72 252.72 
L 272.16 252.72 
L 272.16 282.6 
L 270.72 282.6 
z
M 270.72 285.48 
L 272.16 285.48 
L 272.16 325.08 
L 270.72 325.08 
z
M 272.16 210.96 
L 272.88 210.96 
L 272.88 240.12 
L 272.16 240.12 
z
M 272.16 252.72 
L 272.88 252.72 
L 272.88 282.6 
L 272.16 282.6 
z
M 272.16 295.2 
L 272.88 295.2 
L 272.88 325.08 
L 272.16 325.08 
z
M 272.16 337.68 
L 272.88 337.68 
L 272.88 338.4 
L 272.16 338.4 
z
M 272.88 210.96 
L 277.56 210.96 
L 277.56 240.12 
L 272.88 240.12 
z
M 272.88 252.72 
L 277.56 252.72 
L 277.56 282.6 
L 272.88 282.6 
z
M 272.88 295.2 
L 277.56 295.2 
L 277.56 325.08 
L 272.88 325.08 
z
M 272.88 337.68 
L 277.56 337.68 
L 277.56 360 
L 272.88 360 
z
M 277.56 316.8 
L 277.92 316.8 
L 277.92 325.08 
L 277.56 325.08 
z
M 277.56 337.68 
L 277.92 337.68 
L 277.92 360 
L 277.56 360 
z
M 277.92 316.8 
L 278.64 316.8 
L 278.64 360 
L 277.92 360 
z
M 348.12 225 
L 351 225 
L 351 254.88 
L 348.12 254.88 
z
M 348.12 267.48 
L 351 267.48 
L 351 297.36 
L 348.12 297.36 
z
M 348.12 309.96 
L 351 309.96 
L 351 339.84 
L 348.12 339.84 
z
M 348.12 352.44 
L 351 352.44 
L 351 369.36 
L 348.12 369.36 
z
M 351 197.28 
L 356.4 197.28 
L 356.4 210.96 
L 351 210.96 
z
M 351 221.4 
L 356.4 221.4 
L 356.4 254.88 
L 351 254.88 
z
M 351 263.88 
L 356.4 263.88 
L 356.4 297.36 
L 351 297.36 
z
M 351 306.36 
L 356.4 306.36 
L 356.4 339.84 
L 351 339.84 
z
M 351 348.84 
L 356.4 348.84 
L 356.4 363.6 
L 351 363.6 
z
M 356.4 197.28 
L 358.56 197.28 
L 358.56 210.96 
L 356.4 210.96 
z
M 356.4 221.4 
L 358.56 221.4 
L 358.56 251.28 
L 356.4 251.28 
z
M 356.4 263.88 
L 358.56 263.88 
L 358.56 293.76 
L 356.4 293.76 
z
M 356.4 306.36 
L 358.56 306.36 
L 358.56 336.24 
L 356.4 336.24 
z
M 356.4 348.84 
L 358.56 348.84 
L 358.56 363.6 
L 356.4 363.6 
z
M 358.92 208.8 
L 359.28 208.8 
L 359.28 363.6 
L 358.92 363.6 
z
M 359.28 208.8 
L 360 208.8 
L 360 218.16 
L 359.28 218.16 
z
M 359.28 229.68 
L 360 229.68 
L 360 261 
L 359.28 261 
z
M 359.28 272.88 
L 360 272.88 
L 360 303.48 
L 359.28 303.48 
z
M 359.28 315.36 
L 360 315.36 
L 360 345.6 
L 359.28 345.6 
z
M 359.28 357.48 
L 360 357.48 
L 360 363.6 
L 359.28 363.6 
z
M 360 189.36 
L 362.52 189.36 
L 362.52 218.16 
L 360 218.16 
z
M 360 229.68 
L 362.52 229.68 
L 362.52 261 
L 360 261 
z
M 360 272.88 
L 362.52 272.88 
L 362.52 303.48 
L 360 303.48 
z
M 360 315.36 
L 362.52 315.36 
L 362.52 345.6 
L 360 345.6 
z
M 360 357.48 
L 362.52 357.48 
L 362.52 363.6 
L 360 363.6 
z
M 362.52 189.36 
L 365.76 189.36 
L 365.76 272.16 
L 362.52 272.16 
z
M 362.52 273.24 
L 365.76 273.24 
L 365.76 314.64 
L 362.52 314.64 
z
M 362.52 315.72 
L 365.76 315.72 
L 365.76 345.6 
L 362.52 345.6 
z
M 362.52 357.48 
L 365.76 357.48 
L 365.76 363.6 
L 362.52 363.6 
z
M 365.76 189.36 
L 366.48 189.36 
L 366.48 272.16 
L 365.76 272.16 
z
M 365.76 273.24 
L 366.48 273.24 
L 366.48 314.64 
L 365.76 314.64 
z
M 365.76 315.72 
L 366.48 315.72 
L 366.48 345.6 
L 365.76 345.6 
z
M 365.76 357.48 
L 366.48 357.48 
L 366.48 362.16 
L 365.76 362.16 
z
M 366.48 189.36 
L 369 189.36 
L 369 277.2 
L 366.48 277.2 
z
M 366.48 284.4 
L 369 284.4 
L 369 319.68 
L 366.48 319.68 
z
M 366.48 326.88 
L 369 326.88 
L 369 362.16 
L 366.48 362.16 
z
M 369 191.52 
L 370.08 191.52 
L 370.08 277.2 
L 369 277.2 
z
M 369 284.4 
L 370.08 284.4 
L 370.08 319.68 
L 369 319.68 
z
M 369 326.88 
L 370.08 326.88 
L 370.08 362.16 
L 369 362.16 
z
M 370.08 195.12 
L 371.52 195.12 
L 371.52 234.72 
L 370.08 234.72 
z
M 370.08 237.6 
L 371.52 237.6 
L 371.52 277.2 
L 370.08 277.2 
z
M 370.08 284.4 
L 371.52 284.4 
L 371.52 319.68 
L 370.08 319.68 
z
M 370.08 326.88 
L 371.52 326.88 
L 371.52 362.16 
L 370.08 362.16 
z
M 371.52 195.12 
L 375.48 195.12 
L 375.48 234.72 
L 371.52 234.72 
z
M 371.52 237.6 
L 375.48 237.6 
L 375.48 277.2 
L 371.52 277.2 
z
M 371.52 279.72 
L 375.48 279.72 
L 375.48 319.68 
L 371.52 319.68 
z
M 371.52 322.2 
L 375.48 322.2 
L 375.48 362.16 
L 371.52 362.16 
z
M 375.48 195.12 
L 378 195.12 
L 378 234.72 
L 375.48 234.72 
z
M 375.48 237.6 
L 378 237.6 
L 378 267.12 
L 375.48 267.12 
z
M 375.48 279.72 
L 378 279.72 
L 378 309.6 
L 375.48 309.6 
z
M 375.48 322.2 
L 378 322.2 
L 378 362.16 
L 375.48 362.16 
z
M 378 203.76 
L 378.72 203.76 
L 378.72 363.6 
L 378 363.6 
z
M 378.72 204.12 
L 379.44 204.12 
L 379.44 244.8 
L 378.72 244.8 
z
M 378.72 257.4 
L 379.44 257.4 
L 379.44 287.28 
L 378.72 287.28 
z
M 378.72 299.88 
L 379.44 299.88 
L 379.44 329.76 
L 378.72 329.76 
z
M 378.72 342.36 
L 379.44 342.36 
L 379.44 361.08 
L 378.72 361.08 
z
M 379.44 183.6 
L 381.6 183.6 
L 381.6 202.32 
L 379.44 202.32 
z
M 379.44 204.12 
L 381.6 204.12 
L 381.6 244.8 
L 379.44 244.8 
z
M 379.44 257.4 
L 381.6 257.4 
L 381.6 287.28 
L 379.44 287.28 
z
M 379.44 299.88 
L 381.6 299.88 
L 381.6 329.76 
L 379.44 329.76 
z
M 379.44 342.36 
L 381.6 342.36 
L 381.6 361.08 
L 379.44 361.08 
z
M 381.6 183.6 
L 386.28 183.6 
L 386.28 202.32 
L 381.6 202.32 
z
M 381.6 204.12 
L 386.28 204.12 
L 386.28 244.8 
L 381.6 244.8 
z
M 381.6 246.24 
L 386.28 246.24 
L 386.28 287.28 
L 381.6 287.28 
z
M 381.6 288.72 
L 386.28 288.72 
L 386.28 329.76 
L 381.6 329.76 
z
M 381.6 331.2 
L 386.28 331.2 
L 386.28 361.08 
L 381.6 361.08 
z
M 386.28 183.6 
L 388.08 183.6 
L 388.08 202.32 
L 386.28 202.32 
z
M 386.28 204.12 
L 388.08 204.12 
L 388.08 233.28 
L 386.28 233.28 
z
M 386.28 246.24 
L 388.08 246.24 
L 388.08 275.76 
L 386.28 275.76 
z
M 386.28 288.72 
L 388.08 288.72 
L 388.08 318.24 
L 386.28 318.24 
z
M 386.28 331.2 
L 388.08 331.2 
L 388.08 361.08 
L 386.28 361.08 
z
M 388.08 204.12 
L 388.8 204.12 
L 388.8 233.28 
L 388.08 233.28 
z
M 388.08 246.24 
L 388.8 246.24 
L 388.8 275.76 
L 388.08 275.76 
z
M 388.08 288.72 
L 388.8 288.72 
L 388.8 318.24 
L 388.08 318.24 
z
M 388.08 331.2 
L 388.8 331.2 
L 388.8 361.08 
L 388.08 361.08 
z
M 388.8 237.6 
L 389.88 237.6 
L 389.88 361.08 
L 388.8 361.08 
z
M 465.84 210.96 
L 468.72 210.96 
L 468.72 240.48 
L 465.84 240.48 
z
M 465.84 253.08 
L 468.72 253.08 
L 468.72 282.96 
L 465.84 282.96 
z
M 465.84 295.56 
L 468.72 295.56 
L 468.72 325.44 
L 465.84 325.44 
z
M 465.84 338.04 
L 468.72 338.04 
L 468.72 369.36 
L 465.84 369.36 
z
M 468.72 203.04 
L 469.44 203.04 
L 469.44 240.48 
L 468.72 240.48 
z
M 468.72 253.08 
L 469.44 253.08 
L 469.44 282.96 
L 468.72 282.96 
z
M 468.72 295.56 
L 469.44 295.56 
L 469.44 325.44 
L 468.72 325.44 
z
M 468.72 338.04 
L 469.44 338.04 
L 469.44 363.6 
L 468.72 363.6 
z
M 469.44 203.04 
L 473.76 203.04 
L 473.76 241.2 
L 469.44 241.2 
z
M 469.44 244.8 
L 473.76 244.8 
L 473.76 283.32 
L 469.44 283.32 
z
M 469.44 287.28 
L 473.76 287.28 
L 473.76 325.8 
L 469.44 325.8 
z
M 469.44 329.76 
L 473.76 329.76 
L 473.76 363.6 
L 469.44 363.6 
z
M 473.76 203.04 
L 477 203.04 
L 477 232.56 
L 473.76 232.56 
z
M 473.76 244.8 
L 477 244.8 
L 477 275.04 
L 473.76 275.04 
z
M 473.76 287.28 
L 477 287.28 
L 477 317.52 
L 473.76 317.52 
z
M 473.76 329.76 
L 477 329.76 
L 477 363.6 
L 473.76 363.6 
z
M 477 208.8 
L 479.52 208.8 
L 479.52 239.04 
L 477 239.04 
z
M 477 251.28 
L 479.52 251.28 
L 479.52 281.52 
L 477 281.52 
z
M 477 293.76 
L 479.52 293.76 
L 479.52 324 
L 477 324 
z
M 477 336.24 
L 479.52 336.24 
L 479.52 363.6 
L 477 363.6 
z
M 479.52 192.96 
L 480.6 192.96 
L 480.6 239.04 
L 479.52 239.04 
z
M 479.52 251.28 
L 480.6 251.28 
L 480.6 281.52 
L 479.52 281.52 
z
M 479.52 293.76 
L 480.6 293.76 
L 480.6 324 
L 479.52 324 
z
M 479.52 336.24 
L 480.6 336.24 
L 480.6 362.16 
L 479.52 362.16 
z
M 480.6 192.96 
L 487.8 192.96 
L 487.8 362.16 
L 480.6 362.16 
z
M 487.8 202.32 
L 488.52 202.32 
L 488.52 360 
L 487.8 360 
z
M 488.52 202.32 
L 492.12 202.32 
L 492.12 233.28 
L 488.52 233.28 
z
M 488.52 244.44 
L 492.12 244.44 
L 492.12 275.76 
L 488.52 275.76 
z
M 488.52 286.92 
L 492.12 286.92 
L 492.12 318.24 
L 488.52 318.24 
z
M 488.52 329.4 
L 492.12 329.4 
L 492.12 360 
L 488.52 360 
z
M 492.12 202.32 
L 495 202.32 
L 495 360 
L 492.12 360 
z
M 495.36 185.04 
L 500.4 185.04 
L 500.4 354.96 
L 495.36 354.96 
z
M 500.4 185.04 
L 503.28 185.04 
L 503.28 225.36 
L 500.4 225.36 
z
M 500.4 238.32 
L 503.28 238.32 
L 503.28 267.84 
L 500.4 267.84 
z
M 500.4 280.8 
L 503.28 280.8 
L 503.28 310.32 
L 500.4 310.32 
z
M 500.4 323.28 
L 503.28 323.28 
L 503.28 354.96 
L 500.4 354.96 
z
M 503.64 238.32 
L 504.72 238.32 
L 504.72 267.84 
L 503.64 267.84 
z
M 503.64 280.8 
L 504.72 280.8 
L 504.72 310.32 
L 503.64 310.32 
z
M 503.64 323.28 
L 504.72 323.28 
L 504.72 352.8 
L 503.64 352.8 
z
M 580.32 223.92 
L 582.48 223.92 
L 582.48 254.16 
L 580.32 254.16 
z
M 580.32 266.76 
L 582.48 266.76 
L 582.48 296.64 
L 580.32 296.64 
z
M 580.32 309.24 
L 582.48 309.24 
L 582.48 339.12 
L 580.32 339.12 
z
M 580.32 351.72 
L 582.48 351.72 
L 582.48 352.8 
L 580.32 352.8 
z
M 582.48 195.84 
L 584.28 195.84 
L 584.28 211.68 
L 582.48 211.68 
z
M 582.48 223.92 
L 584.28 223.92 
L 584.28 254.16 
L 582.48 254.16 
z
M 582.48 266.76 
L 584.28 266.76 
L 584.28 296.64 
L 582.48 296.64 
z
M 582.48 309.24 
L 584.28 309.24 
L 584.28 339.12 
L 582.48 339.12 
z
M 582.48 351.72 
L 584.28 351.72 
L 584.28 363.6 
L 582.48 363.6 
z
M 584.28 195.84 
L 590.76 195.84 
L 590.76 211.68 
L 584.28 211.68 
z
M 584.28 219.6 
L 590.76 219.6 
L 590.76 254.16 
L 584.28 254.16 
z
M 584.28 262.08 
L 590.76 262.08 
L 590.76 296.64 
L 584.28 296.64 
z
M 584.28 304.56 
L 590.76 304.56 
L 590.76 339.12 
L 584.28 339.12 
z
M 584.28 347.04 
L 590.76 347.04 
L 590.76 363.6 
L 584.28 363.6 
z
M 590.76 200.16 
L 591.48 200.16 
L 591.48 211.68 
L 590.76 211.68 
z
M 590.76 219.6 
L 591.48 219.6 
L 591.48 254.16 
L 590.76 254.16 
z
M 590.76 262.08 
L 591.48 262.08 
L 591.48 296.64 
L 590.76 296.64 
z
M 590.76 304.56 
L 591.48 304.56 
L 591.48 339.12 
L 590.76 339.12 
z
M 590.76 347.04 
L 591.48 347.04 
L 591.48 363.6 
L 590.76 363.6 
z
M 591.48 200.16 
L 596.52 200.16 
L 596.52 215.64 
L 591.48 215.64 
z
M 591.48 223.92 
L 596.52 223.92 
L 596.52 258.12 
L 591.48 258.12 
z
M 591.48 266.4 
L 596.52 266.4 
L 596.52 300.6 
L 591.48 300.6 
z
M 591.48 308.88 
L 596.52 308.88 
L 596.52 343.08 
L 591.48 343.08 
z
M 591.48 351.36 
L 596.52 351.36 
L 596.52 363.6 
L 591.48 363.6 
z
M 596.52 200.16 
L 599.4 200.16 
L 599.4 363.6 
L 596.52 363.6 
z
M 599.4 190.08 
L 606.96 190.08 
L 606.96 362.16 
L 599.4 362.16 
z
M 606.96 198 
L 611.64 198 
L 611.64 362.16 
L 606.96 362.16 
z
M 611.64 198 
L 612 198 
L 612 354.96 
L 611.64 354.96 
z
M 612 198 
L 612.72 198 
L 612.72 354.6 
L 612 354.6 
z
M 612.72 198 
L 614.88 198 
L 614.88 227.52 
L 612.72 227.52 
z
M 612.72 236.88 
L 614.88 236.88 
L 614.88 270 
L 612.72 270 
z
M 612.72 279.36 
L 614.88 279.36 
L 614.88 312.48 
L 612.72 312.48 
z
M 612.72 321.84 
L 614.88 321.84 
L 614.88 354.6 
L 612.72 354.6 
z
M 614.88 198.36 
L 616.68 198.36 
L 616.68 227.52 
L 614.88 227.52 
z
M 614.88 236.88 
L 616.68 236.88 
L 616.68 270 
L 614.88 270 
z
M 614.88 279.36 
L 616.68 279.36 
L 616.68 312.48 
L 614.88 312.48 
z
M 614.88 321.84 
L 616.68 321.84 
L 616.68 354.6 
L 614.88 354.6 
z
M 616.68 198.36 
L 620.28 198.36 
L 620.28 231.84 
L 616.68 231.84 
z
M 616.68 240.48 
L 620.28 240.48 
L 620.28 274.32 
L 616.68 274.32 
z
M 616.68 282.96 
L 620.28 282.96 
L 620.28 316.8 
L 616.68 316.8 
z
M 616.68 325.44 
L 620.28 325.44 
L 620.28 354.6 
L 616.68 354.6 
z
M 620.28 198.36 
L 621 198.36 
L 621 231.84 
L 620.28 231.84 
z
M 620.28 240.48 
L 621 240.48 
L 621 274.32 
L 620.28 274.32 
z
M 620.28 282.96 
L 621 282.96 
L 621 316.8 
L 620.28 316.8 
z
M 620.28 325.44 
L 621 325.44 
L 621 329.04 
L 620.28 329.04 
z
M 621 198.36 
L 623.88 198.36 
L 623.88 231.84 
L 621 231.84 
z
M 621 244.08 
L 623.88 244.08 
L 623.88 274.32 
L 621 274.32 
z
M 621 286.56 
L 623.88 286.56 
L 623.88 316.8 
L 621 316.8 
z
M 623.88 216 
L 624.6 216 
L 624.6 231.84 
L 623.88 231.84 
z
M 623.88 244.08 
L 624.6 244.08 
L 624.6 274.32 
L 623.88 274.32 
z
M 623.88 286.56 
L 624.6 286.56 
L 624.6 288 
L 623.88 288 
z
" clip-path="url(#p4227d49ff3)" style="fill: #ff0000"/>
   </g>
   <g id="line2d_333">
    <path d="M 115.92 369.72 
L 118.8 354.6 
L 119.088 368.28 
L 119.603398 368.237754 
" clip-path="url(#p4227d49ff3)" style="fill: none; stroke: #ff0000; stroke-width: 8"/>
   </g>
   <g id="line2d_334">
    <path d="M 123.672113 355.158235 
L 124.117533 325.569587 
" clip-path="url(#p4227d49ff3)" style="fill: none; stroke: #ff0000; stroke-width: 8"/>
   </g>
   <g id="line2d_335">
    <path d="M 124.31044 312.755039 
L 124.755861 283.166391 
" clip-path="url(#p4227d49ff3)" style="fill: none; stroke: #ff0000; stroke-width: 8"/>
   </g>
   <g id="line2d_336">
    <path d="M 124.948768 270.351843 
L 125.394188 240.763196 
" clip-path="url(#p4227d49ff3)" style="fill: none; stroke: #ff0000; stroke-width: 8"/>
   </g>
   <g id="line2d_337">
    <path d="M 125.587096 227.948648 
L 126 200.52 
L 126.062381 202.679344 
" clip-path="url(#p4227d49ff3)" style="fill: none; stroke: #ff0000; stroke-width: 8"/>
   </g>
   <g id="line2d_338">
    <path d="M 126.432467 215.489999 
L 127.28699 245.069659 
" clip-path="url(#p4227d49ff3)" style="fill: none; stroke: #ff0000; stroke-width: 8"/>
   </g>
   <g id="line2d_339">
    <path d="M 127.657076 257.880314 
L 128.34 281.52 
L 128.511599 287.459974 
" clip-path="url(#p4227d49ff3)" style="fill: none; stroke: #ff0000; stroke-width: 8"/>
   </g>
   <g id="line2d_340">
    <path d="M 128.881685 300.270629 
L 129.736208 329.850289 
" clip-path="url(#p4227d49ff3)" style="fill: none; stroke: #ff0000; stroke-width: 8"/>
   </g>
   <g id="line2d_341">
    <path d="M 130.106294 342.660944 
L 130.68 362.52 
L 130.87978 352.797393 
" clip-path="url(#p4227d49ff3)" style="fill: none; stroke: #ff0000; stroke-width: 8"/>
   </g>
   <g id="line2d_342">
    <path d="M 131.143066 339.984098 
L 131.750993 310.398343 
" clip-path="url(#p4227d49ff3)" style="fill: none; stroke: #ff0000; stroke-width: 8"/>
   </g>
   <g id="line2d_343">
    <path d="M 132.01428 297.585048 
L 132.622206 267.999293 
" clip-path="url(#p4227d49ff3)" style="fill: none; stroke: #ff0000; stroke-width: 8"/>
   </g>
   <g id="line2d_344">
    <path d="M 132.885493 255.185998 
L 133.49342 225.600243 
" clip-path="url(#p4227d49ff3)" style="fill: none; stroke: #ff0000; stroke-width: 8"/>
   </g>
   <g id="line2d_345">
    <path d="M 133.756707 212.786948 
L 134.364633 183.201193 
" clip-path="url(#p4227d49ff3)" style="fill: none; stroke: #ff0000; stroke-width: 8"/>
   </g>
   <g id="line2d_346">
    <path d="M 134.62792 170.387898 
L 135 152.28 
L 135.129712 163.759547 
" clip-path="url(#p4227d49ff3)" style="fill: none; stroke: #ff0000; stroke-width: 8"/>
   </g>
   <g id="line2d_347">
    <path d="M 135.274517 176.574729 
L 135.608868 206.16484 
" clip-path="url(#p4227d49ff3)" style="fill: none; stroke: #ff0000; stroke-width: 8"/>
   </g>
   <g id="line2d_348">
    <path d="M 135.777439 218.979659 
L 136.296 245.88 
L 136.312897 243.193392 
" clip-path="url(#p4227d49ff3)" style="fill: none; stroke: #ff0000; stroke-width: 8"/>
   </g>
   <g id="line2d_349">
    <path d="M 136.393499 230.377646 
L 136.579609 200.786231 
" clip-path="url(#p4227d49ff3)" style="fill: none; stroke: #ff0000; stroke-width: 8"/>
   </g>
   <g id="line2d_350">
    <path d="M 136.658426 189.309525 
L 136.765643 218.90133 
" clip-path="url(#p4227d49ff3)" style="fill: none; stroke: #ff0000; stroke-width: 8"/>
   </g>
   <g id="line2d_351">
    <path d="M 136.812077 231.717246 
L 136.919294 261.309052 
" clip-path="url(#p4227d49ff3)" style="fill: none; stroke: #ff0000; stroke-width: 8"/>
   </g>
   <g id="line2d_352">
    <path d="M 136.965728 274.124968 
L 137.016 288 
L 138.378153 303.657738 
" clip-path="url(#p4227d49ff3)" style="fill: none; stroke: #ff0000; stroke-width: 8"/>
   </g>
   <g id="line2d_353">
    <path d="M 139.488892 316.425514 
L 142.053577 345.906166 
" clip-path="url(#p4227d49ff3)" style="fill: none; stroke: #ff0000; stroke-width: 8"/>
   </g>
   <g id="line2d_354">
    <path d="M 143.164316 358.673943 
L 144 368.28 
L 144.029923 366.873617 
" clip-path="url(#p4227d49ff3)" style="fill: none; stroke: #ff0000; stroke-width: 8"/>
   </g>
   <g id="line2d_355">
    <path d="M 144.302542 354.060517 
L 144.932017 324.475213 
" clip-path="url(#p4227d49ff3)" style="fill: none; stroke: #ff0000; stroke-width: 8"/>
   </g>
   <g id="line2d_356">
    <path d="M 145.204636 311.662113 
L 145.83411 282.076809 
" clip-path="url(#p4227d49ff3)" style="fill: none; stroke: #ff0000; stroke-width: 8"/>
   </g>
   <g id="line2d_357">
    <path d="M 146.10673 269.263709 
L 146.736204 239.678404 
" clip-path="url(#p4227d49ff3)" style="fill: none; stroke: #ff0000; stroke-width: 8"/>
   </g>
   <g id="line2d_358">
    <path d="M 147.008823 226.865304 
L 147.24 216 
L 148.011478 197.291663 
" clip-path="url(#p4227d49ff3)" style="fill: none; stroke: #ff0000; stroke-width: 8"/>
   </g>
   <g id="line2d_359">
    <path d="M 148.539524 184.486546 
L 148.68 181.08 
L 149.260519 207.256122 
" clip-path="url(#p4227d49ff3)" style="fill: none; stroke: #ff0000; stroke-width: 8"/>
   </g>
   <g id="line2d_360">
    <path d="M 149.544675 220.068972 
L 150.200788 249.653697 
" clip-path="url(#p4227d49ff3)" style="fill: none; stroke: #ff0000; stroke-width: 8"/>
   </g>
   <g id="line2d_361">
    <path d="M 150.484944 262.466547 
L 150.66 270.36 
L 151.141056 292.051272 
" clip-path="url(#p4227d49ff3)" style="fill: none; stroke: #ff0000; stroke-width: 8"/>
   </g>
   <g id="line2d_362">
    <path d="M 151.425212 304.864122 
L 152.081325 334.448847 
" clip-path="url(#p4227d49ff3)" style="fill: none; stroke: #ff0000; stroke-width: 8"/>
   </g>
   <g id="line2d_363">
    <path d="M 152.365481 347.261696 
L 152.64 359.64 
L 153.023644 343.038682 
" clip-path="url(#p4227d49ff3)" style="fill: none; stroke: #ff0000; stroke-width: 8"/>
   </g>
   <g id="line2d_364">
    <path d="M 153.319733 330.226103 
L 154.003399 300.642001 
" clip-path="url(#p4227d49ff3)" style="fill: none; stroke: #ff0000; stroke-width: 8"/>
   </g>
   <g id="line2d_365">
    <path d="M 154.299488 287.829422 
L 154.983154 258.24532 
" clip-path="url(#p4227d49ff3)" style="fill: none; stroke: #ff0000; stroke-width: 8"/>
   </g>
   <g id="line2d_366">
    <path d="M 155.279243 245.432741 
L 155.96291 215.84864 
" clip-path="url(#p4227d49ff3)" style="fill: none; stroke: #ff0000; stroke-width: 8"/>
   </g>
   <g id="line2d_367">
    <path d="M 156.258999 203.03606 
L 156.6 188.28 
L 156.820035 203.110368 
" clip-path="url(#p4227d49ff3)" style="fill: none; stroke: #ff0000; stroke-width: 8"/>
   </g>
   <g id="line2d_368">
    <path d="M 157.010163 215.924957 
L 157.449165 245.513701 
" clip-path="url(#p4227d49ff3)" style="fill: none; stroke: #ff0000; stroke-width: 8"/>
   </g>
   <g id="line2d_369">
    <path d="M 157.639292 258.328291 
L 158.078294 287.917034 
" clip-path="url(#p4227d49ff3)" style="fill: none; stroke: #ff0000; stroke-width: 8"/>
   </g>
   <g id="line2d_370">
    <path d="M 158.268422 300.731624 
L 158.4 309.6 
L 159.894124 330.268714 
" clip-path="url(#p4227d49ff3)" style="fill: none; stroke: #ff0000; stroke-width: 8"/>
   </g>
   <g id="line2d_371">
    <path d="M 160.81817 343.051358 
L 162.72 369.36 
L 164.592 369.36 
" clip-path="url(#p4227d49ff3)" style="fill: none; stroke: #ff0000; stroke-width: 8"/>
   </g>
   <g id="line2d_372">
    <path d="M 177.408 369.36 
L 207 369.36 
" clip-path="url(#p4227d49ff3)" style="fill: none; stroke: #ff0000; stroke-width: 8"/>
   </g>
   <g id="line2d_373">
    <path d="M 219.816 369.36 
L 236.16 369.36 
L 236.4131 356.114418 
" clip-path="url(#p4227d49ff3)" style="fill: none; stroke: #ff0000; stroke-width: 8"/>
   </g>
   <g id="line2d_374">
    <path d="M 236.657947 343.300757 
L 237.223296 313.714158 
" clip-path="url(#p4227d49ff3)" style="fill: none; stroke: #ff0000; stroke-width: 8"/>
   </g>
   <g id="line2d_375">
    <path d="M 237.468143 300.900497 
L 238.033492 271.313898 
" clip-path="url(#p4227d49ff3)" style="fill: none; stroke: #ff0000; stroke-width: 8"/>
   </g>
   <g id="line2d_376">
    <path d="M 238.278339 258.500237 
L 238.843688 228.913638 
" clip-path="url(#p4227d49ff3)" style="fill: none; stroke: #ff0000; stroke-width: 8"/>
   </g>
   <g id="line2d_377">
    <path d="M 239.088535 216.099977 
L 239.4 199.8 
L 239.879653 213.080388 
" clip-path="url(#p4227d49ff3)" style="fill: none; stroke: #ff0000; stroke-width: 8"/>
   </g>
   <g id="line2d_378">
    <path d="M 240.342232 225.888037 
L 241.410321 255.460755 
" clip-path="url(#p4227d49ff3)" style="fill: none; stroke: #ff0000; stroke-width: 8"/>
   </g>
   <g id="line2d_379">
    <path d="M 241.872899 268.268405 
L 242.28 279.54 
L 242.940989 297.841123 
" clip-path="url(#p4227d49ff3)" style="fill: none; stroke: #ff0000; stroke-width: 8"/>
   </g>
   <g id="line2d_380">
    <path d="M 243.403567 310.648772 
L 244.471657 340.22149 
" clip-path="url(#p4227d49ff3)" style="fill: none; stroke: #ff0000; stroke-width: 8"/>
   </g>
   <g id="line2d_381">
    <path d="M 244.934235 353.029139 
L 245.16 359.28 
L 245.811013 335.952019 
" clip-path="url(#p4227d49ff3)" style="fill: none; stroke: #ff0000; stroke-width: 8"/>
   </g>
   <g id="line2d_382">
    <path d="M 246.16853 323.141007 
L 246.994032 293.560523 
" clip-path="url(#p4227d49ff3)" style="fill: none; stroke: #ff0000; stroke-width: 8"/>
   </g>
   <g id="line2d_383">
    <path d="M 247.351549 280.749511 
L 248.17705 251.169027 
" clip-path="url(#p4227d49ff3)" style="fill: none; stroke: #ff0000; stroke-width: 8"/>
   </g>
   <g id="line2d_384">
    <path d="M 248.534567 238.358015 
L 249.360069 208.777531 
" clip-path="url(#p4227d49ff3)" style="fill: none; stroke: #ff0000; stroke-width: 8"/>
   </g>
   <g id="line2d_385">
    <path d="M 249.808591 216.72 
L 250.602721 246.301342 
" clip-path="url(#p4227d49ff3)" style="fill: none; stroke: #ff0000; stroke-width: 8"/>
   </g>
   <g id="line2d_386">
    <path d="M 250.94665 259.112727 
L 251.64 284.94 
L 251.74078 288.694069 
" clip-path="url(#p4227d49ff3)" style="fill: none; stroke: #ff0000; stroke-width: 8"/>
   </g>
   <g id="line2d_387">
    <path d="M 252.08471 301.505454 
L 252.87884 331.086796 
" clip-path="url(#p4227d49ff3)" style="fill: none; stroke: #ff0000; stroke-width: 8"/>
   </g>
   <g id="line2d_388">
    <path d="M 253.22277 343.89818 
L 253.8 365.4 
" clip-path="url(#p4227d49ff3)" style="fill: none; stroke: #ff0000; stroke-width: 8"/>
   </g>
   <g id="line2d_389">
    <path d="M 254.064158 354.767624 
L 254.799137 325.184753 
" clip-path="url(#p4227d49ff3)" style="fill: none; stroke: #ff0000; stroke-width: 8"/>
   </g>
   <g id="line2d_390">
    <path d="M 255.117448 312.372707 
L 255.852426 282.789835 
" clip-path="url(#p4227d49ff3)" style="fill: none; stroke: #ff0000; stroke-width: 8"/>
   </g>
   <g id="line2d_391">
    <path d="M 256.170738 269.977789 
L 256.905716 240.394918 
" clip-path="url(#p4227d49ff3)" style="fill: none; stroke: #ff0000; stroke-width: 8"/>
   </g>
   <g id="line2d_392">
    <path d="M 257.224028 227.582871 
L 257.959006 198 
" clip-path="url(#p4227d49ff3)" style="fill: none; stroke: #ff0000; stroke-width: 8"/>
   </g>
   <g id="line2d_393">
    <path d="M 258.283361 198 
L 259.029141 227.582601 
" clip-path="url(#p4227d49ff3)" style="fill: none; stroke: #ff0000; stroke-width: 8"/>
   </g>
   <g id="line2d_394">
    <path d="M 259.352131 240.39453 
L 260.097911 269.977131 
" clip-path="url(#p4227d49ff3)" style="fill: none; stroke: #ff0000; stroke-width: 8"/>
   </g>
   <g id="line2d_395">
    <path d="M 260.420901 282.789061 
L 261.166681 312.371661 
" clip-path="url(#p4227d49ff3)" style="fill: none; stroke: #ff0000; stroke-width: 8"/>
   </g>
   <g id="line2d_396">
    <path d="M 261.48967 325.183591 
L 262.23545 354.766192 
" clip-path="url(#p4227d49ff3)" style="fill: none; stroke: #ff0000; stroke-width: 8"/>
   </g>
   <g id="line2d_397">
    <path d="M 262.574244 357.644475 
L 263.332764 328.062198 
" clip-path="url(#p4227d49ff3)" style="fill: none; stroke: #ff0000; stroke-width: 8"/>
   </g>
   <g id="line2d_398">
    <path d="M 263.661272 315.250409 
L 264.419791 285.668132 
" clip-path="url(#p4227d49ff3)" style="fill: none; stroke: #ff0000; stroke-width: 8"/>
   </g>
   <g id="line2d_399">
    <path d="M 264.748299 272.856343 
L 265.506819 243.274066 
" clip-path="url(#p4227d49ff3)" style="fill: none; stroke: #ff0000; stroke-width: 8"/>
   </g>
   <g id="line2d_400">
    <path d="M 265.835326 230.462277 
L 266.593846 200.88 
" clip-path="url(#p4227d49ff3)" style="fill: none; stroke: #ff0000; stroke-width: 8"/>
   </g>
   <g id="line2d_401">
    <path d="M 266.936975 200.88 
L 267.744858 230.46097 
" clip-path="url(#p4227d49ff3)" style="fill: none; stroke: #ff0000; stroke-width: 8"/>
   </g>
   <g id="line2d_402">
    <path d="M 268.094745 243.272193 
L 268.902628 272.853163 
" clip-path="url(#p4227d49ff3)" style="fill: none; stroke: #ff0000; stroke-width: 8"/>
   </g>
   <g id="line2d_403">
    <path d="M 269.252515 285.664386 
L 270.060398 315.245356 
" clip-path="url(#p4227d49ff3)" style="fill: none; stroke: #ff0000; stroke-width: 8"/>
   </g>
   <g id="line2d_404">
    <path d="M 270.410285 328.056579 
L 271.218168 357.637549 
" clip-path="url(#p4227d49ff3)" style="fill: none; stroke: #ff0000; stroke-width: 8"/>
   </g>
   <g id="line2d_405">
    <path d="M 271.44 365.76 
L 271.880399 337.44861 
" clip-path="url(#p4227d49ff3)" style="fill: none; stroke: #ff0000; stroke-width: 8"/>
   </g>
   <g id="line2d_406">
    <path d="M 272.079735 324.634161 
L 272.54 295.04574 
" clip-path="url(#p4227d49ff3)" style="fill: none; stroke: #ff0000; stroke-width: 8"/>
   </g>
   <g id="line2d_407">
    <path d="M 272.739335 282.23129 
L 273.1996 252.64287 
" clip-path="url(#p4227d49ff3)" style="fill: none; stroke: #ff0000; stroke-width: 8"/>
   </g>
   <g id="line2d_408">
    <path d="M 273.398936 239.82842 
L 273.8592 210.24 
" clip-path="url(#p4227d49ff3)" style="fill: none; stroke: #ff0000; stroke-width: 8"/>
   </g>
   <g id="line2d_409">
    <path d="M 274.021911 210.24 
L 274.304624 239.830649 
" clip-path="url(#p4227d49ff3)" style="fill: none; stroke: #ff0000; stroke-width: 8"/>
   </g>
   <g id="line2d_410">
    <path d="M 274.427064 252.646065 
L 274.709778 282.236714 
" clip-path="url(#p4227d49ff3)" style="fill: none; stroke: #ff0000; stroke-width: 8"/>
   </g>
   <g id="line2d_411">
    <path d="M 274.832218 295.052129 
L 275.04 316.8 
L 275.682475 324.616778 
" clip-path="url(#p4227d49ff3)" style="fill: none; stroke: #ff0000; stroke-width: 8"/>
   </g>
   <g id="line2d_412">
    <path d="M 276.732305 337.389707 
L 279.15635 366.882256 
" clip-path="url(#p4227d49ff3)" style="fill: none; stroke: #ff0000; stroke-width: 8"/>
   </g>
   <g id="line2d_413">
    <path d="M 287.568 369.36 
L 296.64 369.36 
L 298.8 367.92 
L 300.96 369 
L 303.12 366.84 
L 305.28 368.28 
L 307.44 366.12 
L 309.6 367.2 
L 311.184 366.12 
" clip-path="url(#p4227d49ff3)" style="fill: none; stroke: #ff0000; stroke-width: 8"/>
   </g>
   <g id="line2d_414">
    <path d="M 312.696 366.84 
L 314.64 365.04 
L 316.8 366.84 
L 318.96 365.04 
L 321.12 366.48 
L 323.28 365.4 
L 325.44 367.2 
L 327.6 365.76 
L 329.76 367.56 
L 331.92 366.12 
L 334.08 367.92 
L 335.52 366.84 
L 336.224993 367.368745 
" clip-path="url(#p4227d49ff3)" style="fill: none; stroke: #ff0000; stroke-width: 8"/>
   </g>
   <g id="line2d_415">
    <path d="M 339.48 369.36 
L 350.28 369.36 
L 350.670115 350.57205 
" clip-path="url(#p4227d49ff3)" style="fill: none; stroke: #ff0000; stroke-width: 8"/>
   </g>
   <g id="line2d_416">
    <path d="M 350.936171 337.758812 
L 351.55049 308.173189 
" clip-path="url(#p4227d49ff3)" style="fill: none; stroke: #ff0000; stroke-width: 8"/>
   </g>
   <g id="line2d_417">
    <path d="M 351.816546 295.359951 
L 352.430865 265.774328 
" clip-path="url(#p4227d49ff3)" style="fill: none; stroke: #ff0000; stroke-width: 8"/>
   </g>
   <g id="line2d_418">
    <path d="M 352.696921 252.96109 
L 353.31124 223.375467 
" clip-path="url(#p4227d49ff3)" style="fill: none; stroke: #ff0000; stroke-width: 8"/>
   </g>
   <g id="line2d_419">
    <path d="M 353.577296 210.562229 
L 353.88 195.984 
L 354.419602 210.984927 
" clip-path="url(#p4227d49ff3)" style="fill: none; stroke: #ff0000; stroke-width: 8"/>
   </g>
   <g id="line2d_420">
    <path d="M 354.880311 223.792643 
L 355.944083 253.365517 
" clip-path="url(#p4227d49ff3)" style="fill: none; stroke: #ff0000; stroke-width: 8"/>
   </g>
   <g id="line2d_421">
    <path d="M 356.404793 266.173233 
L 356.94 281.052 
L 357.468565 295.746107 
" clip-path="url(#p4227d49ff3)" style="fill: none; stroke: #ff0000; stroke-width: 8"/>
   </g>
   <g id="line2d_422">
    <path d="M 357.929274 308.553823 
L 358.993047 338.126697 
" clip-path="url(#p4227d49ff3)" style="fill: none; stroke: #ff0000; stroke-width: 8"/>
   </g>
   <g id="line2d_423">
    <path d="M 359.453756 350.934414 
L 360 366.12 
L 360.193212 358.149986 
" clip-path="url(#p4227d49ff3)" style="fill: none; stroke: #ff0000; stroke-width: 8"/>
   </g>
   <g id="line2d_424">
    <path d="M 360.503812 345.33775 
L 361.220983 315.754442 
" clip-path="url(#p4227d49ff3)" style="fill: none; stroke: #ff0000; stroke-width: 8"/>
   </g>
   <g id="line2d_425">
    <path d="M 361.531583 302.942206 
L 362.248754 273.358898 
" clip-path="url(#p4227d49ff3)" style="fill: none; stroke: #ff0000; stroke-width: 8"/>
   </g>
   <g id="line2d_426">
    <path d="M 362.559354 260.546662 
L 363.276525 230.963354 
" clip-path="url(#p4227d49ff3)" style="fill: none; stroke: #ff0000; stroke-width: 8"/>
   </g>
   <g id="line2d_427">
    <path d="M 363.587124 218.151118 
L 364.304296 188.56781 
" clip-path="url(#p4227d49ff3)" style="fill: none; stroke: #ff0000; stroke-width: 8"/>
   </g>
   <g id="line2d_428">
    <path d="M 364.710738 200.081725 
L 365.660995 229.658463 
" clip-path="url(#p4227d49ff3)" style="fill: none; stroke: #ff0000; stroke-width: 8"/>
   </g>
   <g id="line2d_429">
    <path d="M 366.072541 242.467854 
L 367.022798 272.044593 
" clip-path="url(#p4227d49ff3)" style="fill: none; stroke: #ff0000; stroke-width: 8"/>
   </g>
   <g id="line2d_430">
    <path d="M 367.434345 284.853983 
L 368.384602 314.430722 
" clip-path="url(#p4227d49ff3)" style="fill: none; stroke: #ff0000; stroke-width: 8"/>
   </g>
   <g id="line2d_431">
    <path d="M 368.796148 327.240113 
L 369.746405 356.816851 
" clip-path="url(#p4227d49ff3)" style="fill: none; stroke: #ff0000; stroke-width: 8"/>
   </g>
   <g id="line2d_432">
    <path d="M 370.20095 361.900199 
L 370.87611 332.315902 
" clip-path="url(#p4227d49ff3)" style="fill: none; stroke: #ff0000; stroke-width: 8"/>
   </g>
   <g id="line2d_433">
    <path d="M 371.168515 319.503238 
L 371.843676 289.918941 
" clip-path="url(#p4227d49ff3)" style="fill: none; stroke: #ff0000; stroke-width: 8"/>
   </g>
   <g id="line2d_434">
    <path d="M 372.136081 277.106278 
L 372.811241 247.521981 
" clip-path="url(#p4227d49ff3)" style="fill: none; stroke: #ff0000; stroke-width: 8"/>
   </g>
   <g id="line2d_435">
    <path d="M 373.103646 234.709317 
L 373.778807 205.12502 
" clip-path="url(#p4227d49ff3)" style="fill: none; stroke: #ff0000; stroke-width: 8"/>
   </g>
   <g id="line2d_436">
    <path d="M 374.088319 195.047146 
L 375.133538 224.620682 
" clip-path="url(#p4227d49ff3)" style="fill: none; stroke: #ff0000; stroke-width: 8"/>
   </g>
   <g id="line2d_437">
    <path d="M 375.586211 237.428685 
L 376.63143 267.00222 
" clip-path="url(#p4227d49ff3)" style="fill: none; stroke: #ff0000; stroke-width: 8"/>
   </g>
   <g id="line2d_438">
    <path d="M 377.084104 279.810223 
L 377.1 280.26 
L 378.129322 309.383758 
" clip-path="url(#p4227d49ff3)" style="fill: none; stroke: #ff0000; stroke-width: 8"/>
   </g>
   <g id="line2d_439">
    <path d="M 378.581996 322.191761 
L 379.627214 351.765296 
" clip-path="url(#p4227d49ff3)" style="fill: none; stroke: #ff0000; stroke-width: 8"/>
   </g>
   <g id="line2d_440">
    <path d="M 380.079888 364.573299 
L 380.16 366.84 
L 380.586749 342.515324 
" clip-path="url(#p4227d49ff3)" style="fill: none; stroke: #ff0000; stroke-width: 8"/>
   </g>
   <g id="line2d_441">
    <path d="M 380.811556 329.701296 
L 381.330634 300.113849 
" clip-path="url(#p4227d49ff3)" style="fill: none; stroke: #ff0000; stroke-width: 8"/>
   </g>
   <g id="line2d_442">
    <path d="M 381.555442 287.299821 
L 382.07452 257.712374 
" clip-path="url(#p4227d49ff3)" style="fill: none; stroke: #ff0000; stroke-width: 8"/>
   </g>
   <g id="line2d_443">
    <path d="M 382.299327 244.898346 
L 382.818405 215.310899 
" clip-path="url(#p4227d49ff3)" style="fill: none; stroke: #ff0000; stroke-width: 8"/>
   </g>
   <g id="line2d_444">
    <path d="M 383.043213 202.496871 
L 383.4 182.16 
L 383.548409 191.41081 
" clip-path="url(#p4227d49ff3)" style="fill: none; stroke: #ff0000; stroke-width: 8"/>
   </g>
   <g id="line2d_445">
    <path d="M 383.753987 204.225161 
L 384.228663 233.813353 
" clip-path="url(#p4227d49ff3)" style="fill: none; stroke: #ff0000; stroke-width: 8"/>
   </g>
   <g id="line2d_446">
    <path d="M 384.434241 246.627704 
L 384.908918 276.215897 
" clip-path="url(#p4227d49ff3)" style="fill: none; stroke: #ff0000; stroke-width: 8"/>
   </g>
   <g id="line2d_447">
    <path d="M 385.114496 289.030248 
L 385.56 316.8 
L 385.667715 318.692704 
" clip-path="url(#p4227d49ff3)" style="fill: none; stroke: #ff0000; stroke-width: 8"/>
   </g>
   <g id="line2d_448">
    <path d="M 386.395902 331.488 
L 388.077279 361.032195 
" clip-path="url(#p4227d49ff3)" style="fill: none; stroke: #ff0000; stroke-width: 8"/>
   </g>
   <g id="line2d_449">
    <path d="M 389.736 369.36 
L 419.328 369.36 
" clip-path="url(#p4227d49ff3)" style="fill: none; stroke: #ff0000; stroke-width: 8"/>
   </g>
   <g id="line2d_450">
    <path d="M 432.144 369.36 
L 450.72 369.36 
L 452.88 368.28 
L 455.04 369.36 
L 457.2 367.56 
L 459.36 369 
L 459.957988 368.501676 
" clip-path="url(#p4227d49ff3)" style="fill: none; stroke: #ff0000; stroke-width: 8"/>
   </g>
   <g id="line2d_451">
    <path d="M 468.759601 367.729754 
L 469.478223 338.146481 
" clip-path="url(#p4227d49ff3)" style="fill: none; stroke: #ff0000; stroke-width: 8"/>
   </g>
   <g id="line2d_452">
    <path d="M 469.789451 325.33426 
L 470.508073 295.750987 
" clip-path="url(#p4227d49ff3)" style="fill: none; stroke: #ff0000; stroke-width: 8"/>
   </g>
   <g id="line2d_453">
    <path d="M 470.819301 282.938767 
L 471.537923 253.355494 
" clip-path="url(#p4227d49ff3)" style="fill: none; stroke: #ff0000; stroke-width: 8"/>
   </g>
   <g id="line2d_454">
    <path d="M 471.849151 240.543273 
L 472.567773 210.96 
" clip-path="url(#p4227d49ff3)" style="fill: none; stroke: #ff0000; stroke-width: 8"/>
   </g>
   <g id="line2d_455">
    <path d="M 472.89691 202.675715 
L 473.849523 232.252378 
" clip-path="url(#p4227d49ff3)" style="fill: none; stroke: #ff0000; stroke-width: 8"/>
   </g>
   <g id="line2d_456">
    <path d="M 474.26209 245.061735 
L 475.214702 274.638398 
" clip-path="url(#p4227d49ff3)" style="fill: none; stroke: #ff0000; stroke-width: 8"/>
   </g>
   <g id="line2d_457">
    <path d="M 475.627269 287.447756 
L 476.579882 317.024419 
" clip-path="url(#p4227d49ff3)" style="fill: none; stroke: #ff0000; stroke-width: 8"/>
   </g>
   <g id="line2d_458">
    <path d="M 476.992449 329.833777 
L 477.945062 359.41044 
" clip-path="url(#p4227d49ff3)" style="fill: none; stroke: #ff0000; stroke-width: 8"/>
   </g>
   <g id="line2d_459">
    <path d="M 478.08 363.6 
L 478.401589 353.651613 
" clip-path="url(#p4227d49ff3)" style="fill: none; stroke: #ff0000; stroke-width: 8"/>
   </g>
   <g id="line2d_460">
    <path d="M 478.81566 340.842304 
L 479.771745 311.265753 
" clip-path="url(#p4227d49ff3)" style="fill: none; stroke: #ff0000; stroke-width: 8"/>
   </g>
   <g id="line2d_461">
    <path d="M 480.185816 298.456444 
L 481.141901 268.879893 
" clip-path="url(#p4227d49ff3)" style="fill: none; stroke: #ff0000; stroke-width: 8"/>
   </g>
   <g id="line2d_462">
    <path d="M 481.555972 256.070583 
L 482.512057 226.494032 
" clip-path="url(#p4227d49ff3)" style="fill: none; stroke: #ff0000; stroke-width: 8"/>
   </g>
   <g id="line2d_463">
    <path d="M 482.926128 213.684723 
L 483.624 192.096 
L 483.818542 200.085632 
" clip-path="url(#p4227d49ff3)" style="fill: none; stroke: #ff0000; stroke-width: 8"/>
   </g>
   <g id="line2d_464">
    <path d="M 484.13051 212.897834 
L 484.85084 242.481066 
" clip-path="url(#p4227d49ff3)" style="fill: none; stroke: #ff0000; stroke-width: 8"/>
   </g>
   <g id="line2d_465">
    <path d="M 485.162808 255.293268 
L 485.712 277.848 
L 485.883139 284.8765 
" clip-path="url(#p4227d49ff3)" style="fill: none; stroke: #ff0000; stroke-width: 8"/>
   </g>
   <g id="line2d_466">
    <path d="M 486.195107 297.688702 
L 486.915438 327.271934 
" clip-path="url(#p4227d49ff3)" style="fill: none; stroke: #ff0000; stroke-width: 8"/>
   </g>
   <g id="line2d_467">
    <path d="M 487.227406 340.084136 
L 487.8 363.6 
" clip-path="url(#p4227d49ff3)" style="fill: none; stroke: #ff0000; stroke-width: 8"/>
   </g>
   <g id="line2d_468">
    <path d="M 487.898145 359.026431 
L 488.533021 329.441242 
" clip-path="url(#p4227d49ff3)" style="fill: none; stroke: #ff0000; stroke-width: 8"/>
   </g>
   <g id="line2d_469">
    <path d="M 488.807979 316.628192 
L 489.442854 287.043003 
" clip-path="url(#p4227d49ff3)" style="fill: none; stroke: #ff0000; stroke-width: 8"/>
   </g>
   <g id="line2d_470">
    <path d="M 489.717812 274.229953 
L 490.352687 244.644764 
" clip-path="url(#p4227d49ff3)" style="fill: none; stroke: #ff0000; stroke-width: 8"/>
   </g>
   <g id="line2d_471">
    <path d="M 490.627646 231.831714 
L 491.262521 202.246525 
" clip-path="url(#p4227d49ff3)" style="fill: none; stroke: #ff0000; stroke-width: 8"/>
   </g>
   <g id="line2d_472">
    <path d="M 491.55122 202.246215 
L 492.249549 231.829975 
" clip-path="url(#p4227d49ff3)" style="fill: none; stroke: #ff0000; stroke-width: 8"/>
   </g>
   <g id="line2d_473">
    <path d="M 492.551988 244.642405 
L 493.250317 274.226165 
" clip-path="url(#p4227d49ff3)" style="fill: none; stroke: #ff0000; stroke-width: 8"/>
   </g>
   <g id="line2d_474">
    <path d="M 493.552757 287.038595 
L 494.251086 316.622355 
" clip-path="url(#p4227d49ff3)" style="fill: none; stroke: #ff0000; stroke-width: 8"/>
   </g>
   <g id="line2d_475">
    <path d="M 494.553525 329.434785 
L 495.251854 359.018545 
" clip-path="url(#p4227d49ff3)" style="fill: none; stroke: #ff0000; stroke-width: 8"/>
   </g>
   <g id="line2d_476">
    <path d="M 495.36 363.6 
L 495.587965 352.834017 
" clip-path="url(#p4227d49ff3)" style="fill: none; stroke: #ff0000; stroke-width: 8"/>
   </g>
   <g id="line2d_477">
    <path d="M 495.859278 340.020889 
L 496.485736 310.435521 
" clip-path="url(#p4227d49ff3)" style="fill: none; stroke: #ff0000; stroke-width: 8"/>
   </g>
   <g id="line2d_478">
    <path d="M 496.757049 297.622393 
L 497.383507 268.037024 
" clip-path="url(#p4227d49ff3)" style="fill: none; stroke: #ff0000; stroke-width: 8"/>
   </g>
   <g id="line2d_479">
    <path d="M 497.65482 255.223897 
L 498.281278 225.638528 
" clip-path="url(#p4227d49ff3)" style="fill: none; stroke: #ff0000; stroke-width: 8"/>
   </g>
   <g id="line2d_480">
    <path d="M 498.55259 212.825401 
L 499.176 183.384 
L 499.178098 183.527985 
" clip-path="url(#p4227d49ff3)" style="fill: none; stroke: #ff0000; stroke-width: 8"/>
   </g>
   <g id="line2d_481">
    <path d="M 499.36482 196.342624 
L 499.795958 225.931484 
" clip-path="url(#p4227d49ff3)" style="fill: none; stroke: #ff0000; stroke-width: 8"/>
   </g>
   <g id="line2d_482">
    <path d="M 499.98268 238.746123 
L 500.413818 268.334982 
" clip-path="url(#p4227d49ff3)" style="fill: none; stroke: #ff0000; stroke-width: 8"/>
   </g>
   <g id="line2d_483">
    <path d="M 500.60054 281.149622 
L 501.031678 310.738481 
" clip-path="url(#p4227d49ff3)" style="fill: none; stroke: #ff0000; stroke-width: 8"/>
   </g>
   <g id="line2d_484">
    <path d="M 501.494636 323.543439 
L 503.136104 353.089878 
" clip-path="url(#p4227d49ff3)" style="fill: none; stroke: #ff0000; stroke-width: 8"/>
   </g>
   <g id="line2d_485">
    <path d="M 503.28 363.24 
L 505.44 364.68 
L 507.6 367.2 
L 509.76 365.04 
L 511.92 367.92 
L 514.08 366.12 
L 516.24 368.64 
L 518.4 367.2 
L 520.56 369 
L 522.72 367.56 
L 524.88 366.48 
" clip-path="url(#p4227d49ff3)" style="fill: none; stroke: #ff0000; stroke-width: 8"/>
   </g>
   <g id="line2d_486">
    <path d="M 530.28 366.12 
L 532.8 369.216 
L 558.399877 369.31188 
" clip-path="url(#p4227d49ff3)" style="fill: none; stroke: #ff0000; stroke-width: 8"/>
   </g>
   <g id="line2d_487">
    <path d="M 571.215787 369.359879 
L 571.248 369.36 
L 583.2 369.36 
L 583.490398 351.754608 
" clip-path="url(#p4227d49ff3)" style="fill: none; stroke: #ff0000; stroke-width: 8"/>
   </g>
   <g id="line2d_488">
    <path d="M 583.701767 338.940352 
L 584.189816 309.352376 
" clip-path="url(#p4227d49ff3)" style="fill: none; stroke: #ff0000; stroke-width: 8"/>
   </g>
   <g id="line2d_489">
    <path d="M 584.401186 296.53812 
L 584.889235 266.950144 
" clip-path="url(#p4227d49ff3)" style="fill: none; stroke: #ff0000; stroke-width: 8"/>
   </g>
   <g id="line2d_490">
    <path d="M 585.100604 254.135888 
L 585.588653 224.547912 
" clip-path="url(#p4227d49ff3)" style="fill: none; stroke: #ff0000; stroke-width: 8"/>
   </g>
   <g id="line2d_491">
    <path d="M 585.800022 211.733656 
L 586.08 194.76 
L 586.43031 207.371171 
" clip-path="url(#p4227d49ff3)" style="fill: none; stroke: #ff0000; stroke-width: 8"/>
   </g>
   <g id="line2d_492">
    <path d="M 586.786173 220.182229 
L 587.607856 249.762819 
" clip-path="url(#p4227d49ff3)" style="fill: none; stroke: #ff0000; stroke-width: 8"/>
   </g>
   <g id="line2d_493">
    <path d="M 587.963719 262.573878 
L 588.42 279 
L 588.785402 292.154468 
" clip-path="url(#p4227d49ff3)" style="fill: none; stroke: #ff0000; stroke-width: 8"/>
   </g>
   <g id="line2d_494">
    <path d="M 589.141265 304.965526 
L 589.962948 334.546116 
" clip-path="url(#p4227d49ff3)" style="fill: none; stroke: #ff0000; stroke-width: 8"/>
   </g>
   <g id="line2d_495">
    <path d="M 590.31881 347.357174 
L 590.76 363.24 
L 590.960374 355.625804 
" clip-path="url(#p4227d49ff3)" style="fill: none; stroke: #ff0000; stroke-width: 8"/>
   </g>
   <g id="line2d_496">
    <path d="M 591.29752 342.814239 
L 592.075987 313.23248 
" clip-path="url(#p4227d49ff3)" style="fill: none; stroke: #ff0000; stroke-width: 8"/>
   </g>
   <g id="line2d_497">
    <path d="M 592.413134 300.420916 
L 593.191601 270.839157 
" clip-path="url(#p4227d49ff3)" style="fill: none; stroke: #ff0000; stroke-width: 8"/>
   </g>
   <g id="line2d_498">
    <path d="M 593.528748 258.027592 
L 594.307215 228.445834 
" clip-path="url(#p4227d49ff3)" style="fill: none; stroke: #ff0000; stroke-width: 8"/>
   </g>
   <g id="line2d_499">
    <path d="M 594.644361 215.634269 
L 595.08 199.08 
L 595.39359 212.108226 
" clip-path="url(#p4227d49ff3)" style="fill: none; stroke: #ff0000; stroke-width: 8"/>
   </g>
   <g id="line2d_500">
    <path d="M 595.701982 224.920516 
L 596.414056 254.503947 
" clip-path="url(#p4227d49ff3)" style="fill: none; stroke: #ff0000; stroke-width: 8"/>
   </g>
   <g id="line2d_501">
    <path d="M 596.722448 267.316236 
L 597.06 281.34 
L 597.434522 296.899667 
" clip-path="url(#p4227d49ff3)" style="fill: none; stroke: #ff0000; stroke-width: 8"/>
   </g>
   <g id="line2d_502">
    <path d="M 597.742914 309.711956 
L 598.454987 339.295388 
" clip-path="url(#p4227d49ff3)" style="fill: none; stroke: #ff0000; stroke-width: 8"/>
   </g>
   <g id="line2d_503">
    <path d="M 598.76338 352.107677 
L 599.04 363.6 
L 599.339407 350.382545 
" clip-path="url(#p4227d49ff3)" style="fill: none; stroke: #ff0000; stroke-width: 8"/>
   </g>
   <g id="line2d_504">
    <path d="M 599.629645 337.569832 
L 600.299803 307.985421 
" clip-path="url(#p4227d49ff3)" style="fill: none; stroke: #ff0000; stroke-width: 8"/>
   </g>
   <g id="line2d_505">
    <path d="M 600.590042 295.172708 
L 601.260199 265.588297 
" clip-path="url(#p4227d49ff3)" style="fill: none; stroke: #ff0000; stroke-width: 8"/>
   </g>
   <g id="line2d_506">
    <path d="M 601.550438 252.775584 
L 602.220595 223.191173 
" clip-path="url(#p4227d49ff3)" style="fill: none; stroke: #ff0000; stroke-width: 8"/>
   </g>
   <g id="line2d_507">
    <path d="M 602.510834 210.37846 
L 603 188.784 
L 603.180991 196.77395 
" clip-path="url(#p4227d49ff3)" style="fill: none; stroke: #ff0000; stroke-width: 8"/>
   </g>
   <g id="line2d_508">
    <path d="M 603.47123 209.586663 
L 604.141388 239.171074 
" clip-path="url(#p4227d49ff3)" style="fill: none; stroke: #ff0000; stroke-width: 8"/>
   </g>
   <g id="line2d_509">
    <path d="M 604.431626 251.983787 
L 604.98 276.192 
L 605.101784 281.568198 
" clip-path="url(#p4227d49ff3)" style="fill: none; stroke: #ff0000; stroke-width: 8"/>
   </g>
   <g id="line2d_510">
    <path d="M 605.392022 294.380911 
L 606.06218 323.965322 
" clip-path="url(#p4227d49ff3)" style="fill: none; stroke: #ff0000; stroke-width: 8"/>
   </g>
   <g id="line2d_511">
    <path d="M 606.352418 336.778035 
L 606.96 363.6 
" clip-path="url(#p4227d49ff3)" style="fill: none; stroke: #ff0000; stroke-width: 8"/>
   </g>
   <g id="line2d_512">
    <path d="M 607.198821 353.547802 
L 607.901672 323.96415 
" clip-path="url(#p4227d49ff3)" style="fill: none; stroke: #ff0000; stroke-width: 8"/>
   </g>
   <g id="line2d_513">
    <path d="M 608.20607 311.151766 
L 608.908922 281.568114 
" clip-path="url(#p4227d49ff3)" style="fill: none; stroke: #ff0000; stroke-width: 8"/>
   </g>
   <g id="line2d_514">
    <path d="M 609.21332 268.755729 
L 609.916171 239.172077 
" clip-path="url(#p4227d49ff3)" style="fill: none; stroke: #ff0000; stroke-width: 8"/>
   </g>
   <g id="line2d_515">
    <path d="M 610.220569 226.359693 
L 610.92 196.92 
L 610.923731 197.063952 
" clip-path="url(#p4227d49ff3)" style="fill: none; stroke: #ff0000; stroke-width: 8"/>
   </g>
   <g id="line2d_516">
    <path d="M 611.255784 209.875649 
L 612.022489 239.457715 
" clip-path="url(#p4227d49ff3)" style="fill: none; stroke: #ff0000; stroke-width: 8"/>
   </g>
   <g id="line2d_517">
    <path d="M 612.354542 252.269413 
L 613.08 280.26 
L 613.121248 281.851479 
" clip-path="url(#p4227d49ff3)" style="fill: none; stroke: #ff0000; stroke-width: 8"/>
   </g>
   <g id="line2d_518">
    <path d="M 613.4533 294.663177 
L 614.220006 324.245243 
" clip-path="url(#p4227d49ff3)" style="fill: none; stroke: #ff0000; stroke-width: 8"/>
   </g>
   <g id="line2d_519">
    <path d="M 614.552059 337.05694 
L 615.24 363.6 
" clip-path="url(#p4227d49ff3)" style="fill: none; stroke: #ff0000; stroke-width: 8"/>
   </g>
   <g id="line2d_520">
    <path d="M 615.351791 358.803165 
L 616.041248 329.219197 
" clip-path="url(#p4227d49ff3)" style="fill: none; stroke: #ff0000; stroke-width: 8"/>
   </g>
   <g id="line2d_521">
    <path d="M 616.339844 316.406676 
L 617.029301 286.822709 
" clip-path="url(#p4227d49ff3)" style="fill: none; stroke: #ff0000; stroke-width: 8"/>
   </g>
   <g id="line2d_522">
    <path d="M 617.327898 274.010188 
L 618.017355 244.426221 
" clip-path="url(#p4227d49ff3)" style="fill: none; stroke: #ff0000; stroke-width: 8"/>
   </g>
   <g id="line2d_523">
    <path d="M 618.315952 231.6137 
L 619.005409 202.029733 
" clip-path="url(#p4227d49ff3)" style="fill: none; stroke: #ff0000; stroke-width: 8"/>
   </g>
   <g id="line2d_524">
    <path d="M 619.288671 198.143119 
L 619.876476 227.729281 
" clip-path="url(#p4227d49ff3)" style="fill: none; stroke: #ff0000; stroke-width: 8"/>
   </g>
   <g id="line2d_525">
    <path d="M 620.131048 240.542752 
L 620.718853 270.128914 
" clip-path="url(#p4227d49ff3)" style="fill: none; stroke: #ff0000; stroke-width: 8"/>
   </g>
   <g id="line2d_526">
    <path d="M 620.973425 282.942385 
L 621.36 302.4 
L 621.921942 312.514948 
" clip-path="url(#p4227d49ff3)" style="fill: none; stroke: #ff0000; stroke-width: 8"/>
   </g>
   <g id="line2d_527">
    <path d="M 622.632845 325.311216 
L 623.52 341.28 
" clip-path="url(#p4227d49ff3)" style="fill: none; stroke: #ff0000; stroke-width: 8"/>
   </g>
   <g id="patch_8">
    <path d="M 120.24 270 
L 123.12 270 
L 123.12 282.96 
L 120.24 282.96 
z
M 120.24 312.48 
L 123.12 312.48 
L 123.12 325.44 
L 120.24 325.44 
z
M 123.84 355.68 
L 125.28 355.68 
L 125.28 369.36 
L 123.84 369.36 
z
M 128.16 298.8 
L 128.88 298.8 
L 128.88 299.88 
L 128.16 299.88 
z
M 128.16 342.72 
L 128.88 342.72 
L 128.88 357.84 
L 128.16 357.84 
z
M 128.88 256.32 
L 130.32 256.32 
L 130.32 257.4 
L 128.88 257.4 
z
M 128.88 298.8 
L 130.32 298.8 
L 130.32 299.88 
L 128.88 299.88 
z
M 128.88 342.72 
L 130.32 342.72 
L 130.32 357.84 
L 128.88 357.84 
z
M 130.32 213.84 
L 131.76 213.84 
L 131.76 218.16 
L 130.32 218.16 
z
M 130.32 256.32 
L 131.76 256.32 
L 131.76 257.4 
L 130.32 257.4 
z
M 130.32 298.8 
L 131.76 298.8 
L 131.76 299.88 
L 130.32 299.88 
z
M 130.32 342.72 
L 131.76 342.72 
L 131.76 357.84 
L 130.32 357.84 
z
M 131.76 213.84 
L 132.12 213.84 
L 132.12 218.16 
L 131.76 218.16 
z
M 131.76 256.32 
L 132.12 256.32 
L 132.12 268.2 
L 131.76 268.2 
z
M 131.76 298.8 
L 132.12 298.8 
L 132.12 299.88 
L 131.76 299.88 
z
M 131.76 342.72 
L 132.12 342.72 
L 132.12 357.84 
L 131.76 357.84 
z
M 132.12 213.84 
L 134.28 213.84 
L 134.28 218.16 
L 132.12 218.16 
z
M 132.12 256.32 
L 134.28 256.32 
L 134.28 268.2 
L 132.12 268.2 
z
M 132.12 298.8 
L 134.28 298.8 
L 134.28 308.88 
L 132.12 308.88 
z
M 132.12 342.72 
L 134.28 342.72 
L 134.28 357.84 
L 132.12 357.84 
z
M 134.28 213.84 
L 135 213.84 
L 135 218.16 
L 134.28 218.16 
z
M 134.28 256.32 
L 135 256.32 
L 135 257.4 
L 134.28 257.4 
z
M 134.28 298.8 
L 135 298.8 
L 135 308.88 
L 134.28 308.88 
z
M 134.28 342.72 
L 135 342.72 
L 135 357.84 
L 134.28 357.84 
z
M 135 213.84 
L 135.36 213.84 
L 135.36 218.16 
L 135 218.16 
z
M 135 256.32 
L 135.36 256.32 
L 135.36 257.4 
L 135 257.4 
z
M 135 298.8 
L 135.36 298.8 
L 135.36 299.88 
L 135 299.88 
z
M 135 342.72 
L 135.36 342.72 
L 135.36 357.84 
L 135 357.84 
z
M 135.36 213.84 
L 136.08 213.84 
L 136.08 218.16 
L 135.36 218.16 
z
M 135.36 256.32 
L 136.08 256.32 
L 136.08 257.4 
L 135.36 257.4 
z
M 135.36 298.8 
L 136.08 298.8 
L 136.08 299.88 
L 135.36 299.88 
z
M 136.08 213.84 
L 136.8 213.84 
L 136.8 218.16 
L 136.08 218.16 
z
M 136.8 213.84 
L 137.52 213.84 
L 137.52 218.16 
L 136.8 218.16 
z
M 136.8 249.84 
L 137.52 249.84 
L 137.52 257.4 
L 136.8 257.4 
z
M 136.8 287.28 
L 137.52 287.28 
L 137.52 299.88 
L 136.8 299.88 
z
M 136.8 330.12 
L 137.52 330.12 
L 137.52 342 
L 136.8 342 
z
M 137.52 205.92 
L 140.76 205.92 
L 140.76 218.16 
L 137.52 218.16 
z
M 137.52 249.84 
L 140.76 249.84 
L 140.76 257.4 
L 137.52 257.4 
z
M 137.52 287.28 
L 140.76 287.28 
L 140.76 299.88 
L 137.52 299.88 
z
M 137.52 330.12 
L 140.76 330.12 
L 140.76 342 
L 137.52 342 
z
M 140.76 249.84 
L 142.2 249.84 
L 142.2 257.4 
L 140.76 257.4 
z
M 140.76 287.28 
L 142.2 287.28 
L 142.2 299.88 
L 140.76 299.88 
z
M 140.76 330.12 
L 142.2 330.12 
L 142.2 342 
L 140.76 342 
z
M 142.56 269.28 
L 144 269.28 
L 144 281.88 
L 142.56 281.88 
z
M 144 269.28 
L 146.16 269.28 
L 146.16 281.88 
L 144 281.88 
z
M 144 311.76 
L 146.16 311.76 
L 146.16 324 
L 144 324 
z
M 146.16 311.76 
L 146.88 311.76 
L 146.88 324 
L 146.16 324 
z
M 149.76 335.52 
L 150.12 335.52 
L 150.12 342 
L 149.76 342 
z
M 150.12 292.32 
L 150.48 292.32 
L 150.48 299.88 
L 150.12 299.88 
z
M 150.12 335.52 
L 150.48 335.52 
L 150.48 342 
L 150.12 342 
z
M 150.48 249.84 
L 152.28 249.84 
L 152.28 257.4 
L 150.48 257.4 
z
M 150.48 292.32 
L 152.28 292.32 
L 152.28 299.88 
L 150.48 299.88 
z
M 150.48 335.52 
L 152.28 335.52 
L 152.28 342 
L 150.48 342 
z
M 152.28 202.68 
L 152.64 202.68 
L 152.64 215.28 
L 152.28 215.28 
z
M 152.28 249.84 
L 152.64 249.84 
L 152.64 257.4 
L 152.28 257.4 
z
M 152.28 292.32 
L 152.64 292.32 
L 152.64 299.88 
L 152.28 299.88 
z
M 152.28 335.52 
L 152.64 335.52 
L 152.64 342 
L 152.28 342 
z
M 152.64 202.68 
L 153.36 202.68 
L 153.36 215.28 
L 152.64 215.28 
z
M 152.64 249.84 
L 153.36 249.84 
L 153.36 257.4 
L 152.64 257.4 
z
M 152.64 292.32 
L 153.36 292.32 
L 153.36 299.88 
L 152.64 299.88 
z
M 152.64 330.12 
L 153.36 330.12 
L 153.36 342 
L 152.64 342 
z
M 153.36 202.68 
L 160.2 202.68 
L 160.2 215.28 
L 153.36 215.28 
z
M 153.36 245.52 
L 160.2 245.52 
L 160.2 257.4 
L 153.36 257.4 
z
M 153.36 288 
L 160.2 288 
L 160.2 299.88 
L 153.36 299.88 
z
M 153.36 330.12 
L 160.2 330.12 
L 160.2 342 
L 153.36 342 
z
M 160.2 330.12 
L 162 330.12 
L 162 342 
L 160.2 342 
z
M 235.44 258.48 
L 241.92 258.48 
L 241.92 271.44 
L 235.44 271.44 
z
M 235.44 300.96 
L 241.92 300.96 
L 241.92 309.6 
L 235.44 309.6 
z
M 235.44 343.44 
L 241.92 343.44 
L 241.92 352.08 
L 235.44 352.08 
z
M 241.92 254.16 
L 242.64 254.16 
L 242.64 271.44 
L 241.92 271.44 
z
M 241.92 297 
L 242.64 297 
L 242.64 309.6 
L 241.92 309.6 
z
M 241.92 339.12 
L 242.64 339.12 
L 242.64 352.08 
L 241.92 352.08 
z
M 242.64 254.16 
L 245.52 254.16 
L 245.52 258.48 
L 242.64 258.48 
z
M 242.64 297 
L 245.52 297 
L 245.52 300.96 
L 242.64 300.96 
z
M 242.64 339.12 
L 245.52 339.12 
L 245.52 343.44 
L 242.64 343.44 
z
M 245.52 246.24 
L 246.24 246.24 
L 246.24 248.4 
L 245.52 248.4 
z
M 245.52 297 
L 246.24 297 
L 246.24 300.96 
L 245.52 300.96 
z
M 245.52 339.12 
L 246.24 339.12 
L 246.24 343.44 
L 245.52 343.44 
z
M 246.24 246.24 
L 250.56 246.24 
L 250.56 248.4 
L 246.24 248.4 
z
M 246.24 289.08 
L 250.56 289.08 
L 250.56 290.88 
L 246.24 290.88 
z
M 250.56 246.24 
L 251.28 246.24 
L 251.28 248.4 
L 250.56 248.4 
z
M 251.28 278.64 
L 254.16 278.64 
L 254.16 282.96 
L 251.28 282.96 
z
M 251.28 321.12 
L 254.16 321.12 
L 254.16 325.44 
L 251.28 325.44 
z
M 254.16 228.24 
L 259.92 228.24 
L 259.92 240.12 
L 254.16 240.12 
z
M 254.16 270.72 
L 259.92 270.72 
L 259.92 282.6 
L 254.16 282.6 
z
M 254.16 313.2 
L 259.92 313.2 
L 259.92 325.08 
L 254.16 325.08 
z
M 259.92 272.88 
L 262.08 272.88 
L 262.08 285.12 
L 259.92 285.12 
z
M 259.92 315.36 
L 262.08 315.36 
L 262.08 327.6 
L 259.92 327.6 
z
M 262.08 230.4 
L 265.68 230.4 
L 265.68 243.36 
L 262.08 243.36 
z
M 262.08 272.88 
L 265.68 272.88 
L 265.68 285.12 
L 262.08 285.12 
z
M 262.08 315.36 
L 265.68 315.36 
L 265.68 327.6 
L 262.08 327.6 
z
M 265.68 230.4 
L 267.12 230.4 
L 267.12 243.36 
L 265.68 243.36 
z
M 265.68 282.6 
L 267.12 282.6 
L 267.12 285.48 
L 265.68 285.48 
z
M 265.68 325.08 
L 267.12 325.08 
L 267.12 327.96 
L 265.68 327.96 
z
M 267.12 230.4 
L 270.72 230.4 
L 270.72 243.36 
L 267.12 243.36 
z
M 267.12 282.6 
L 270.72 282.6 
L 270.72 285.48 
L 267.12 285.48 
z
M 267.12 325.08 
L 270.72 325.08 
L 270.72 369.36 
L 267.12 369.36 
z
M 270.72 240.12 
L 272.16 240.12 
L 272.16 252.72 
L 270.72 252.72 
z
M 270.72 282.6 
L 272.16 282.6 
L 272.16 285.48 
L 270.72 285.48 
z
M 270.72 325.08 
L 272.16 325.08 
L 272.16 369.36 
L 270.72 369.36 
z
M 272.16 240.12 
L 277.92 240.12 
L 277.92 252.72 
L 272.16 252.72 
z
M 272.16 282.6 
L 277.92 282.6 
L 277.92 295.2 
L 272.16 295.2 
z
M 272.16 325.08 
L 277.92 325.08 
L 277.92 337.68 
L 272.16 337.68 
z
M 348.12 254.88 
L 351 254.88 
L 351 267.48 
L 348.12 267.48 
z
M 348.12 297.36 
L 351 297.36 
L 351 309.96 
L 348.12 309.96 
z
M 348.12 339.84 
L 351 339.84 
L 351 352.44 
L 348.12 352.44 
z
M 351 210.96 
L 356.4 210.96 
L 356.4 221.4 
L 351 221.4 
z
M 351 254.88 
L 356.4 254.88 
L 356.4 263.88 
L 351 263.88 
z
M 351 297.36 
L 356.4 297.36 
L 356.4 306.36 
L 351 306.36 
z
M 351 339.84 
L 356.4 339.84 
L 356.4 348.84 
L 351 348.84 
z
M 356.4 210.96 
L 358.92 210.96 
L 358.92 221.4 
L 356.4 221.4 
z
M 356.4 251.28 
L 358.92 251.28 
L 358.92 263.88 
L 356.4 263.88 
z
M 356.4 293.76 
L 358.92 293.76 
L 358.92 306.36 
L 356.4 306.36 
z
M 356.4 336.24 
L 358.92 336.24 
L 358.92 348.84 
L 356.4 348.84 
z
M 359.28 218.16 
L 362.52 218.16 
L 362.52 229.68 
L 359.28 229.68 
z
M 359.28 261 
L 362.52 261 
L 362.52 272.88 
L 359.28 272.88 
z
M 359.28 303.48 
L 362.52 303.48 
L 362.52 315.36 
L 359.28 315.36 
z
M 359.28 345.6 
L 362.52 345.6 
L 362.52 357.48 
L 359.28 357.48 
z
M 362.52 272.16 
L 365.76 272.16 
L 365.76 273.24 
L 362.52 273.24 
z
M 362.52 314.64 
L 365.76 314.64 
L 365.76 315.72 
L 362.52 315.72 
z
M 362.52 345.6 
L 365.76 345.6 
L 365.76 357.48 
L 362.52 357.48 
z
M 365.76 272.16 
L 366.48 272.16 
L 366.48 273.24 
L 365.76 273.24 
z
M 365.76 314.64 
L 366.48 314.64 
L 366.48 315.72 
L 365.76 315.72 
z
M 365.76 345.6 
L 366.48 345.6 
L 366.48 357.48 
L 365.76 357.48 
z
M 365.76 362.16 
L 366.48 362.16 
L 366.48 369.36 
L 365.76 369.36 
z
M 366.48 277.2 
L 370.08 277.2 
L 370.08 284.4 
L 366.48 284.4 
z
M 366.48 319.68 
L 370.08 319.68 
L 370.08 326.88 
L 366.48 326.88 
z
M 366.48 362.16 
L 370.08 362.16 
L 370.08 369.36 
L 366.48 369.36 
z
M 370.08 234.72 
L 371.52 234.72 
L 371.52 237.6 
L 370.08 237.6 
z
M 370.08 277.2 
L 371.52 277.2 
L 371.52 284.4 
L 370.08 284.4 
z
M 370.08 319.68 
L 371.52 319.68 
L 371.52 326.88 
L 370.08 326.88 
z
M 370.08 362.16 
L 371.52 362.16 
L 371.52 369.36 
L 370.08 369.36 
z
M 371.52 234.72 
L 375.12 234.72 
L 375.12 237.6 
L 371.52 237.6 
z
M 371.52 277.2 
L 375.12 277.2 
L 375.12 279.72 
L 371.52 279.72 
z
M 371.52 319.68 
L 375.12 319.68 
L 375.12 322.2 
L 371.52 322.2 
z
M 371.52 362.16 
L 375.12 362.16 
L 375.12 369.36 
L 371.52 369.36 
z
M 375.12 234.72 
L 375.48 234.72 
L 375.48 237.6 
L 375.12 237.6 
z
M 375.12 277.2 
L 375.48 277.2 
L 375.48 279.72 
L 375.12 279.72 
z
M 375.12 319.68 
L 375.48 319.68 
L 375.48 322.2 
L 375.12 322.2 
z
M 375.48 234.72 
L 378 234.72 
L 378 237.6 
L 375.48 237.6 
z
M 375.48 267.12 
L 378 267.12 
L 378 279.72 
L 375.48 279.72 
z
M 375.48 309.6 
L 378 309.6 
L 378 322.2 
L 375.48 322.2 
z
M 378.72 244.8 
L 381.6 244.8 
L 381.6 257.4 
L 378.72 257.4 
z
M 378.72 287.28 
L 381.6 287.28 
L 381.6 299.88 
L 378.72 299.88 
z
M 378.72 329.76 
L 381.6 329.76 
L 381.6 342.36 
L 378.72 342.36 
z
M 381.6 244.8 
L 386.28 244.8 
L 386.28 246.24 
L 381.6 246.24 
z
M 381.6 287.28 
L 386.28 287.28 
L 386.28 288.72 
L 381.6 288.72 
z
M 381.6 329.76 
L 386.28 329.76 
L 386.28 331.2 
L 381.6 331.2 
z
M 386.28 233.28 
L 388.8 233.28 
L 388.8 246.24 
L 386.28 246.24 
z
M 386.28 275.76 
L 388.8 275.76 
L 388.8 288.72 
L 386.28 288.72 
z
M 386.28 318.24 
L 388.8 318.24 
L 388.8 331.2 
L 386.28 331.2 
z
M 465.84 240.48 
L 469.44 240.48 
L 469.44 253.08 
L 465.84 253.08 
z
M 465.84 282.96 
L 469.44 282.96 
L 469.44 295.56 
L 465.84 295.56 
z
M 465.84 325.44 
L 469.44 325.44 
L 469.44 338.04 
L 465.84 338.04 
z
M 469.44 241.2 
L 473.76 241.2 
L 473.76 244.8 
L 469.44 244.8 
z
M 469.44 283.32 
L 473.76 283.32 
L 473.76 287.28 
L 469.44 287.28 
z
M 469.44 325.8 
L 473.76 325.8 
L 473.76 329.76 
L 469.44 329.76 
z
M 473.76 232.56 
L 477 232.56 
L 477 244.8 
L 473.76 244.8 
z
M 473.76 275.04 
L 477 275.04 
L 477 287.28 
L 473.76 287.28 
z
M 473.76 317.52 
L 477 317.52 
L 477 329.76 
L 473.76 329.76 
z
M 477 239.04 
L 480.6 239.04 
L 480.6 251.28 
L 477 251.28 
z
M 477 281.52 
L 480.6 281.52 
L 480.6 293.76 
L 477 293.76 
z
M 477 324 
L 480.6 324 
L 480.6 336.24 
L 477 336.24 
z
M 488.52 233.28 
L 492.12 233.28 
L 492.12 244.44 
L 488.52 244.44 
z
M 488.52 275.76 
L 492.12 275.76 
L 492.12 286.92 
L 488.52 286.92 
z
M 488.52 318.24 
L 492.12 318.24 
L 492.12 329.4 
L 488.52 329.4 
z
M 500.4 225.36 
L 504.72 225.36 
L 504.72 238.32 
L 500.4 238.32 
z
M 500.4 267.84 
L 504.72 267.84 
L 504.72 280.8 
L 500.4 280.8 
z
M 500.4 310.32 
L 504.72 310.32 
L 504.72 323.28 
L 500.4 323.28 
z
M 580.32 211.68 
L 584.28 211.68 
L 584.28 223.92 
L 580.32 223.92 
z
M 580.32 254.16 
L 584.28 254.16 
L 584.28 266.76 
L 580.32 266.76 
z
M 580.32 296.64 
L 584.28 296.64 
L 584.28 309.24 
L 580.32 309.24 
z
M 580.32 339.12 
L 584.28 339.12 
L 584.28 351.72 
L 580.32 351.72 
z
M 584.28 211.68 
L 591.48 211.68 
L 591.48 219.6 
L 584.28 219.6 
z
M 584.28 254.16 
L 591.48 254.16 
L 591.48 262.08 
L 584.28 262.08 
z
M 584.28 296.64 
L 591.48 296.64 
L 591.48 304.56 
L 584.28 304.56 
z
M 584.28 339.12 
L 591.48 339.12 
L 591.48 347.04 
L 584.28 347.04 
z
M 591.48 215.64 
L 596.52 215.64 
L 596.52 223.92 
L 591.48 223.92 
z
M 591.48 258.12 
L 596.52 258.12 
L 596.52 266.4 
L 591.48 266.4 
z
M 591.48 300.6 
L 596.52 300.6 
L 596.52 308.88 
L 591.48 308.88 
z
M 591.48 343.08 
L 596.52 343.08 
L 596.52 351.36 
L 591.48 351.36 
z
M 611.64 354.96 
L 612.72 354.96 
L 612.72 369.36 
L 611.64 369.36 
z
M 612.72 227.52 
L 616.68 227.52 
L 616.68 236.88 
L 612.72 236.88 
z
M 612.72 270 
L 616.68 270 
L 616.68 279.36 
L 612.72 279.36 
z
M 612.72 312.48 
L 616.68 312.48 
L 616.68 321.84 
L 612.72 321.84 
z
M 612.72 354.96 
L 616.68 354.96 
L 616.68 369.36 
L 612.72 369.36 
z
M 616.68 231.84 
L 621 231.84 
L 621 240.48 
L 616.68 240.48 
z
M 616.68 274.32 
L 621 274.32 
L 621 282.96 
L 616.68 282.96 
z
M 616.68 316.8 
L 621 316.8 
L 621 325.44 
L 616.68 325.44 
z
M 616.68 354.96 
L 621 354.96 
L 621 369.36 
L 616.68 369.36 
z
M 621 231.84 
L 621.36 231.84 
L 621.36 244.08 
L 621 244.08 
z
M 621 274.32 
L 621.36 274.32 
L 621.36 286.56 
L 621 286.56 
z
M 621 316.8 
L 621.36 316.8 
L 621.36 329.04 
L 621 329.04 
z
M 621 354.96 
L 621.36 354.96 
L 621.36 369.36 
L 621 369.36 
z
M 621.36 231.84 
L 624.6 231.84 
L 624.6 244.08 
L 621.36 244.08 
z
M 621.36 274.32 
L 624.6 274.32 
L 624.6 286.56 
L 621.36 286.56 
z
M 621.36 316.8 
L 624.6 316.8 
L 624.6 329.04 
L 621.36 329.04 
z
" clip-path="url(#p4227d49ff3)" style="fill: #ffffff"/>
   </g>
   <g id="patch_9">
    <path d="M 120.24 272.39976 
L 123.12 272.39976 
M 120.24 320.87988 
L 123.12 320.87988 
M 142.56 272.39976 
L 144 272.39976 
M 144 272.39976 
L 146.16 272.39976 
M 144 320.87988 
L 146.16 320.87988 
M 146.16 320.87988 
L 146.88 320.87988 
M 254.16 272.39976 
L 259.92 272.39976 
M 254.16 320.87988 
L 259.92 320.87988 
M 259.92 320.87988 
L 262.08 320.87988 
M 262.08 320.87988 
L 265.68 320.87988 
M 359.28 223.91964 
L 362.52 223.91964 
M 359.28 272.39976 
L 362.52 272.39976 
M 362.52 272.39976 
L 365.76 272.39976 
M 365.76 272.39976 
L 366.48 272.39976 
M 366.48 320.87988 
L 370.08 320.87988 
M 370.08 320.87988 
L 371.52 320.87988 
M 371.52 320.87988 
L 375.12 320.87988 
M 375.12 320.87988 
L 375.48 320.87988 
M 375.48 272.39976 
L 378 272.39976 
M 375.48 320.87988 
L 378 320.87988 
M 386.28 320.87988 
L 388.8 320.87988 
M 473.76 320.87988 
L 477 320.87988 
M 488.52 320.87988 
L 492.12 320.87988 
M 500.4 272.39976 
L 504.72 272.39976 
M 500.4 320.87988 
L 504.72 320.87988 
M 580.32 223.91964 
L 584.28 223.91964 
M 591.48 223.91964 
L 596.52 223.91964 
M 612.72 272.39976 
L 616.68 272.39976 
M 612.72 320.87988 
L 616.68 320.87988 
M 616.68 320.87988 
L 621 320.87988 
M 621 320.87988 
L 621.36 320.87988 
M 621.36 320.87988 
L 624.6 320.87988 
" clip-path="url(#p4227d49ff3)" style="fill: none; stroke: #b0b0b0; stroke-width: 0.8; stroke-linejoin: miter"/>
   </g>
   <g id="patch_10">
    <path d="M 124.2 355.68 
L 124.2 369.36 
M 133.92 213.84 
L 133.92 218.16 
M 133.92 256.32 
L 133.92 268.2 
M 133.92 298.8 
L 133.92 308.88 
M 133.92 342.72 
L 133.92 357.84 
M 134.64 213.84 
L 134.64 218.16 
M 134.64 256.32 
L 134.64 257.4 
M 134.64 298.8 
L 134.64 308.88 
M 134.64 342.72 
L 134.64 357.84 
M 139.392 205.92 
L 139.392 218.16 
M 139.392 249.84 
L 139.392 257.4 
M 139.392 287.28 
L 139.392 299.88 
M 139.392 330.12 
L 139.392 342 
M 141.84 249.84 
L 141.84 257.4 
M 141.84 287.28 
L 141.84 299.88 
M 141.84 330.12 
L 141.84 342 
M 388.44 233.28 
L 388.44 246.24 
M 388.44 233.28 
L 388.44 246.24 
M 388.44 275.76 
L 388.44 288.72 
M 388.44 275.76 
L 388.44 288.72 
M 388.44 318.24 
L 388.44 331.2 
M 388.44 318.24 
L 388.44 331.2 
" clip-path="url(#p4227d49ff3)" style="fill: none; stroke: #ff7f0e; stroke-width: 1.5; stroke-linejoin: miter"/>
   </g>
   <g id="patch_11">
    <path d="M 124.2 355.68 
L 124.2 369.36 
M 135.18 213.84 
L 135.18 218.16 
M 135.18 256.32 
L 135.18 257.4 
M 135.18 298.8 
L 135.18 299.88 
M 135.18 342.72 
L 135.18 357.84 
M 135.72 213.84 
L 135.72 218.16 
M 135.72 256.32 
L 135.72 257.4 
M 135.72 298.8 
L 135.72 299.88 
M 136.44 213.84 
L 136.44 218.16 
M 140.4 205.92 
L 140.4 218.16 
M 140.4 249.84 
L 140.4 257.4 
M 140.4 287.28 
L 140.4 299.88 
M 140.4 330.12 
L 140.4 342 
M 141.84 249.84 
L 141.84 257.4 
M 141.12 249.84 
L 141.12 257.4 
M 141.84 287.28 
L 141.84 299.88 
M 141.12 287.28 
L 141.12 299.88 
M 141.84 330.12 
L 141.84 342 
M 141.12 330.12 
L 141.12 342 
M 142.92 269.28 
L 142.92 281.88 
M 252.648 278.64 
L 252.648 282.96 
M 252.648 321.12 
L 252.648 325.44 
M 260.712 272.88 
L 260.712 285.12 
M 260.712 315.36 
L 260.712 327.6 
M 348.84 254.88 
L 348.84 267.48 
M 348.84 297.36 
L 348.84 309.96 
M 348.84 339.84 
L 348.84 352.44 
M 368.712 277.2 
L 368.712 284.4 
M 368.712 319.68 
L 368.712 326.88 
M 368.712 362.16 
L 368.712 369.36 
M 377.64 234.72 
L 377.64 237.6 
M 377.64 267.12 
L 377.64 279.72 
M 377.64 309.6 
L 377.64 322.2 
M 582.84 211.68 
L 582.84 223.92 
M 582.84 254.16 
L 582.84 266.76 
M 582.84 296.64 
L 582.84 309.24 
M 582.84 339.12 
L 582.84 351.72 
M 623.52 231.84 
L 623.52 244.08 
M 623.52 274.32 
L 623.52 286.56 
M 623.52 316.8 
L 623.52 329.04 
" clip-path="url(#p4227d49ff3)" style="fill: none; stroke: #9467bd; stroke-width: 1.5; stroke-linejoin: miter"/>
   </g>
   <g id="patch_12">
    <path d="M 129.96 256.32 
L 129.96 257.4 
M 129.96 298.8 
L 129.96 299.88 
M 129.96 342.72 
L 129.96 357.84 
M 130.68 213.84 
L 130.68 218.16 
M 130.68 256.32 
L 130.68 257.4 
M 130.68 298.8 
L 130.68 299.88 
M 130.68 342.72 
L 130.68 357.84 
M 133.92 213.84 
L 133.92 218.16 
M 133.92 256.32 
L 133.92 268.2 
M 133.92 298.8 
L 133.92 308.88 
M 133.92 342.72 
L 133.92 357.84 
M 134.64 213.84 
L 134.64 218.16 
M 134.64 256.32 
L 134.64 257.4 
M 134.64 298.8 
L 134.64 308.88 
M 134.64 342.72 
L 134.64 357.84 
M 135.18 213.84 
L 135.18 218.16 
M 135.18 256.32 
L 135.18 257.4 
M 135.18 298.8 
L 135.18 299.88 
M 135.18 342.72 
L 135.18 357.84 
M 135.72 213.84 
L 135.72 218.16 
M 135.72 256.32 
L 135.72 257.4 
M 135.72 298.8 
L 135.72 299.88 
M 136.44 213.84 
L 136.44 218.16 
M 139.248 205.92 
L 139.248 218.16 
M 139.248 249.84 
L 139.248 257.4 
M 139.248 287.28 
L 139.248 299.88 
M 139.248 330.12 
L 139.248 342 
M 144.72 269.28 
L 144.72 281.88 
M 144.72 311.76 
L 144.72 324 
M 151.92 249.84 
L 151.92 257.4 
M 151.92 292.32 
L 151.92 299.88 
M 151.92 335.52 
L 151.92 342 
M 152.46 202.68 
L 152.46 215.28 
M 152.46 249.84 
L 152.46 257.4 
M 152.46 292.32 
L 152.46 299.88 
M 152.46 335.52 
L 152.46 342 
M 153 202.68 
L 153 215.28 
M 153 249.84 
L 153 257.4 
M 153 292.32 
L 153 299.88 
M 153 330.12 
L 153 342 
M 159.408 202.68 
L 159.408 215.28 
M 159.408 245.52 
L 159.408 257.4 
M 159.408 288 
L 159.408 299.88 
M 159.408 330.12 
L 159.408 342 
M 161.64 330.12 
L 161.64 342 
M 244.584 254.16 
L 244.584 258.48 
M 244.584 297 
L 244.584 300.96 
M 244.584 339.12 
L 244.584 343.44 
M 252.648 278.64 
L 252.648 282.96 
M 252.648 321.12 
L 252.648 325.44 
M 268.776 230.4 
L 268.776 243.36 
M 268.776 282.6 
L 268.776 285.48 
M 268.776 325.08 
L 268.776 369.36 
M 274.32 240.12 
L 274.32 252.72 
M 274.32 282.6 
L 274.32 295.2 
M 274.32 325.08 
L 274.32 337.68 
M 359.64 218.16 
L 359.64 229.68 
M 359.64 261 
L 359.64 272.88 
M 359.64 303.48 
L 359.64 315.36 
M 359.64 345.6 
L 359.64 357.48 
M 368.712 277.2 
L 368.712 284.4 
M 368.712 319.68 
L 368.712 326.88 
M 368.712 362.16 
L 368.712 369.36 
M 476.64 232.56 
L 476.64 244.8 
M 476.64 275.04 
L 476.64 287.28 
M 476.64 317.52 
L 476.64 329.76 
M 477.432 239.04 
L 477.432 251.28 
M 477.432 281.52 
L 477.432 293.76 
M 477.432 324 
L 477.432 336.24 
M 504.36 225.36 
L 504.36 238.32 
M 504.36 267.84 
L 504.36 280.8 
M 504.36 310.32 
L 504.36 323.28 
M 590.76 211.68 
L 590.76 219.6 
M 590.76 254.16 
L 590.76 262.08 
M 590.76 296.64 
L 590.76 304.56 
M 590.76 339.12 
L 590.76 347.04 
M 613.872 227.52 
L 613.872 236.88 
M 613.872 270 
L 613.872 279.36 
M 613.872 312.48 
L 613.872 321.84 
M 613.872 354.96 
L 613.872 369.36 
M 621.18 231.84 
L 621.18 244.08 
M 621.18 274.32 
L 621.18 286.56 
M 621.18 316.8 
L 621.18 329.04 
M 621.18 354.96 
L 621.18 369.36 
M 621.72 231.84 
L 621.72 244.08 
M 621.72 274.32 
L 621.72 286.56 
M 621.72 316.8 
L 621.72 329.04 
L 621.72 329.04 
" clip-path="url(#p4227d49ff3)" style="fill: none; stroke: #8c564b; stroke-width: 1.5; stroke-linejoin: miter"/>
   </g>
   <g id="patch_13">
    <path d="M 145.08 269.28 
L 145.08 281.88 
M 145.44 269.28 
L 145.44 281.88 
M 145.08 311.76 
L 145.08 324 
M 145.44 311.76 
L 145.44 324 
M 159.84 202.68 
L 159.84 215.28 
M 159.84 245.52 
L 159.84 257.4 
M 159.84 288 
L 159.84 299.88 
M 159.84 330.12 
L 159.84 342 
M 161.64 330.12 
L 161.64 342 
M 160.56 330.12 
L 160.56 342 
M 468 240.48 
L 468 253.08 
M 468 282.96 
L 468 295.56 
M 468 325.44 
L 468 338.04 
" clip-path="url(#p4227d49ff3)" style="fill: none; stroke: #e377c2; stroke-width: 1.5; stroke-linejoin: miter"/>
   </g>
   <g id="patch_14">
    <path d="M 124.2 355.68 
L 124.2 369.36 
M 129.96 256.32 
L 129.96 257.4 
M 129.96 298.8 
L 129.96 299.88 
M 129.96 342.72 
L 129.96 357.84 
M 130.68 213.84 
L 130.68 218.16 
M 130.68 256.32 
L 130.68 257.4 
M 130.68 298.8 
L 130.68 299.88 
M 130.68 342.72 
L 130.68 357.84 
M 145.44 269.28 
L 145.44 281.88 
M 145.44 311.76 
L 145.44 324 
M 151.92 249.84 
L 151.92 257.4 
M 151.92 292.32 
L 151.92 299.88 
M 151.92 335.52 
L 151.92 342 
M 152.46 202.68 
L 152.46 215.28 
M 152.46 249.84 
L 152.46 257.4 
M 152.46 292.32 
L 152.46 299.88 
M 152.46 335.52 
L 152.46 342 
M 153 202.68 
L 153 215.28 
M 153 249.84 
L 153 257.4 
M 153 292.32 
L 153 299.88 
M 153 330.12 
L 153 342 
M 236.52 258.48 
L 236.52 271.44 
M 236.52 300.96 
L 236.52 309.6 
M 236.52 343.44 
L 236.52 352.08 
M 244.584 254.16 
L 244.584 258.48 
M 244.584 297 
L 244.584 300.96 
M 244.584 339.12 
L 244.584 343.44 
M 260.712 272.88 
L 260.712 285.12 
M 260.712 315.36 
L 260.712 327.6 
M 268.776 230.4 
L 268.776 243.36 
M 268.776 282.6 
L 268.776 285.48 
M 268.776 325.08 
L 268.776 369.36 
M 277.2 240.12 
L 277.2 252.72 
M 277.2 282.6 
L 277.2 295.2 
M 277.2 325.08 
L 277.2 337.68 
M 349.92 254.88 
L 349.92 267.48 
M 350.28 254.88 
L 350.28 267.48 
M 349.92 297.36 
L 349.92 309.96 
M 350.28 297.36 
L 350.28 309.96 
M 349.92 339.84 
L 349.92 352.44 
M 350.28 339.84 
L 350.28 352.44 
M 359.64 218.16 
L 359.64 229.68 
M 359.64 261 
L 359.64 272.88 
M 359.64 303.48 
L 359.64 315.36 
M 359.64 345.6 
L 359.64 357.48 
M 377.64 234.72 
L 377.64 237.6 
M 377.64 267.12 
L 377.64 279.72 
M 377.64 309.6 
L 377.64 322.2 
M 387.144 233.28 
L 387.144 246.24 
M 387.144 275.76 
L 387.144 288.72 
M 387.144 318.24 
L 387.144 331.2 
M 468.36 240.48 
L 468.36 253.08 
M 468.36 282.96 
L 468.36 295.56 
M 468.36 325.44 
L 468.36 338.04 
M 476.64 232.56 
L 476.64 244.8 
M 476.64 275.04 
L 476.64 287.28 
M 476.64 317.52 
L 476.64 329.76 
M 477.432 239.04 
L 477.432 251.28 
M 477.432 281.52 
L 477.432 293.76 
M 477.432 324 
L 477.432 336.24 
M 504.36 225.36 
L 504.36 238.32 
M 501.336 225.36 
L 501.336 238.32 
M 504.36 267.84 
L 504.36 280.8 
M 501.336 267.84 
L 501.336 280.8 
M 504.36 310.32 
L 504.36 323.28 
M 501.336 310.32 
L 501.336 323.28 
M 583.056 211.68 
L 583.056 223.92 
M 583.056 254.16 
L 583.056 266.76 
M 583.056 296.64 
L 583.056 309.24 
M 583.056 339.12 
L 583.056 351.72 
M 590.76 211.68 
L 590.76 219.6 
M 590.76 254.16 
L 590.76 262.08 
M 590.76 296.64 
L 590.76 304.56 
M 590.76 339.12 
L 590.76 347.04 
M 613.872 227.52 
L 613.872 236.88 
M 613.872 270 
L 613.872 279.36 
M 613.872 312.48 
L 613.872 321.84 
M 613.872 354.96 
L 613.872 369.36 
L 613.872 369.36 
" clip-path="url(#p4227d49ff3)" style="fill: none; stroke: #7f7f7f; stroke-width: 1.5; stroke-linejoin: miter"/>
   </g>
   <g id="patch_15">
    <path d="M 124.2 355.68 
L 124.2 369.36 
M 124.416 355.68 
L 124.416 369.36 
M 129.744 256.32 
L 129.744 257.4 
M 129.96 256.32 
L 129.96 257.4 
M 129.744 298.8 
L 129.744 299.88 
M 129.96 298.8 
L 129.96 299.88 
M 129.744 342.72 
L 129.744 357.84 
M 129.96 342.72 
L 129.96 357.84 
M 130.68 213.84 
L 130.68 218.16 
M 130.68 256.32 
L 130.68 257.4 
M 130.68 298.8 
L 130.68 299.88 
M 130.68 342.72 
L 130.68 357.84 
M 133.92 213.84 
L 133.92 218.16 
M 133.92 213.84 
L 133.92 218.16 
M 133.92 256.32 
L 133.92 268.2 
M 133.92 256.32 
L 133.92 268.2 
M 133.92 298.8 
L 133.92 308.88 
M 133.92 298.8 
L 133.92 308.88 
M 133.92 342.72 
L 133.92 357.84 
M 133.92 342.72 
L 133.92 357.84 
M 134.64 213.84 
L 134.64 218.16 
M 134.64 213.84 
L 134.64 218.16 
M 134.64 213.84 
L 134.64 218.16 
M 134.64 256.32 
L 134.64 257.4 
M 134.64 256.32 
L 134.64 257.4 
M 134.64 256.32 
L 134.64 257.4 
M 134.64 298.8 
L 134.64 308.88 
M 134.64 298.8 
L 134.64 308.88 
M 134.64 298.8 
L 134.64 308.88 
M 134.64 342.72 
L 134.64 357.84 
M 134.64 342.72 
L 134.64 357.84 
M 134.64 342.72 
L 134.64 357.84 
M 135.18 213.84 
L 135.18 218.16 
M 135.18 213.84 
L 135.18 218.16 
M 135.18 213.84 
L 135.18 218.16 
M 135.18 213.84 
L 135.18 218.16 
M 135.18 256.32 
L 135.18 257.4 
M 135.18 256.32 
L 135.18 257.4 
M 135.18 256.32 
L 135.18 257.4 
M 135.18 256.32 
L 135.18 257.4 
M 135.18 298.8 
L 135.18 299.88 
M 135.18 298.8 
L 135.18 299.88 
M 135.18 298.8 
L 135.18 299.88 
M 135.18 298.8 
L 135.18 299.88 
M 135.18 342.72 
L 135.18 357.84 
M 135.18 342.72 
L 135.18 357.84 
M 135.18 342.72 
L 135.18 357.84 
M 135.18 342.72 
L 135.18 357.84 
M 135.72 213.84 
L 135.72 218.16 
M 135.72 213.84 
L 135.72 218.16 
M 135.72 213.84 
L 135.72 218.16 
M 135.72 213.84 
L 135.72 218.16 
M 135.72 213.84 
L 135.72 218.16 
M 135.72 256.32 
L 135.72 257.4 
M 135.72 256.32 
L 135.72 257.4 
M 135.72 256.32 
L 135.72 257.4 
M 135.72 256.32 
L 135.72 257.4 
M 135.72 256.32 
L 135.72 257.4 
M 135.72 298.8 
L 135.72 299.88 
M 135.72 298.8 
L 135.72 299.88 
M 135.72 298.8 
L 135.72 299.88 
M 135.72 298.8 
L 135.72 299.88 
M 135.72 298.8 
L 135.72 299.88 
M 136.44 213.84 
L 136.44 218.16 
M 136.44 213.84 
L 136.44 218.16 
M 136.44 213.84 
L 136.44 218.16 
M 140.4 205.92 
L 140.4 218.16 
M 140.4 249.84 
L 140.4 257.4 
M 140.4 287.28 
L 140.4 299.88 
M 140.4 330.12 
L 140.4 342 
M 141.12 249.84 
L 141.12 257.4 
M 141.12 287.28 
L 141.12 299.88 
M 141.12 330.12 
L 141.12 342 
M 145.656 269.28 
L 145.656 281.88 
M 145.656 311.76 
L 145.656 324 
M 151.92 249.84 
L 151.92 257.4 
M 151.92 249.84 
L 151.92 257.4 
M 151.92 292.32 
L 151.92 299.88 
M 151.92 292.32 
L 151.92 299.88 
M 151.92 335.52 
L 151.92 342 
M 151.92 335.52 
L 151.92 342 
M 152.46 202.68 
L 152.46 215.28 
M 152.46 202.68 
L 152.46 215.28 
M 152.46 249.84 
L 152.46 257.4 
M 152.46 249.84 
L 152.46 257.4 
M 152.46 292.32 
L 152.46 299.88 
M 152.46 292.32 
L 152.46 299.88 
M 152.46 335.52 
L 152.46 342 
M 152.46 335.52 
L 152.46 342 
M 153 202.68 
L 153 215.28 
M 153 249.84 
L 153 257.4 
M 153 292.32 
L 153 299.88 
M 153 330.12 
L 153 342 
M 159.192 202.68 
L 159.192 215.28 
M 155.988 202.68 
L 155.988 215.28 
M 159.192 245.52 
L 159.192 257.4 
M 155.988 245.52 
L 155.988 257.4 
M 159.192 288 
L 159.192 299.88 
M 155.988 288 
L 155.988 299.88 
M 159.192 330.12 
L 159.192 342 
M 155.988 330.12 
L 155.988 342 
M 236.736 258.48 
L 236.736 271.44 
M 240.624 258.48 
L 240.624 271.44 
M 236.736 300.96 
L 236.736 309.6 
M 240.624 300.96 
L 240.624 309.6 
M 236.736 343.44 
L 236.736 352.08 
M 240.624 343.44 
L 240.624 352.08 
M 244.368 254.16 
L 244.368 258.48 
M 244.8 254.16 
L 244.8 258.48 
M 244.368 297 
L 244.368 300.96 
M 244.8 297 
L 244.8 300.96 
M 244.368 339.12 
L 244.368 343.44 
M 244.8 339.12 
L 244.8 343.44 
M 248.688 246.24 
L 248.688 248.4 
M 248.688 289.08 
L 248.688 290.88 
M 252.432 278.64 
L 252.432 282.96 
M 252.864 278.64 
L 252.864 282.96 
M 252.432 321.12 
L 252.432 325.44 
M 252.864 321.12 
L 252.864 325.44 
M 256.752 228.24 
L 256.752 240.12 
M 256.752 270.72 
L 256.752 282.6 
M 256.752 313.2 
L 256.752 325.08 
M 260.496 272.88 
L 260.496 285.12 
M 260.928 272.88 
L 260.928 285.12 
M 260.496 315.36 
L 260.496 327.6 
M 260.928 315.36 
L 260.928 327.6 
M 264.816 230.4 
L 264.816 243.36 
M 264.816 272.88 
L 264.816 285.12 
M 264.816 315.36 
L 264.816 327.6 
M 268.56 230.4 
L 268.56 243.36 
M 268.992 230.4 
L 268.992 243.36 
M 269.28 230.4 
L 269.28 243.36 
M 268.56 282.6 
L 268.56 285.48 
M 268.992 282.6 
L 268.992 285.48 
M 269.28 282.6 
L 269.28 285.48 
M 268.56 325.08 
L 268.56 369.36 
M 268.992 325.08 
L 268.992 369.36 
M 269.28 325.08 
L 269.28 369.36 
M 271.8 240.12 
L 271.8 252.72 
M 271.8 282.6 
L 271.8 285.48 
M 271.8 325.08 
L 271.8 369.36 
M 274.104 240.12 
L 274.104 252.72 
M 272.52 240.12 
L 272.52 252.72 
M 274.68 240.12 
L 274.68 252.72 
M 274.104 282.6 
L 274.104 295.2 
M 272.52 282.6 
L 272.52 295.2 
M 274.68 282.6 
L 274.68 295.2 
M 274.104 325.08 
L 274.104 337.68 
M 272.52 325.08 
L 272.52 337.68 
M 274.68 325.08 
L 274.68 337.68 
M 350.496 254.88 
L 350.496 267.48 
M 350.496 297.36 
L 350.496 309.96 
M 350.496 339.84 
L 350.496 352.44 
M 354.96 210.96 
L 354.96 221.4 
M 354.96 254.88 
L 354.96 263.88 
M 354.96 297.36 
L 354.96 306.36 
M 354.96 339.84 
L 354.96 348.84 
M 358.56 210.96 
L 358.56 221.4 
M 358.56 251.28 
L 358.56 263.88 
M 358.56 293.76 
L 358.56 306.36 
M 358.56 336.24 
L 358.56 348.84 
M 359.64 218.16 
L 359.64 229.68 
M 359.712 218.16 
L 359.712 229.68 
M 359.64 261 
L 359.64 272.88 
M 359.712 261 
L 359.712 272.88 
M 359.64 303.48 
L 359.64 315.36 
M 359.712 303.48 
L 359.712 315.36 
M 359.64 345.6 
L 359.64 357.48 
M 359.712 345.6 
L 359.712 357.48 
M 364.176 272.16 
L 364.176 273.24 
M 364.176 314.64 
L 364.176 315.72 
M 364.176 345.6 
L 364.176 357.48 
M 368.496 277.2 
L 368.496 284.4 
M 368.928 277.2 
L 368.928 284.4 
M 368.496 319.68 
L 368.496 326.88 
M 368.928 319.68 
L 368.928 326.88 
M 368.496 362.16 
L 368.496 369.36 
M 368.928 362.16 
L 368.928 369.36 
M 373.392 234.72 
L 373.392 237.6 
M 373.392 277.2 
L 373.392 279.72 
M 373.392 319.68 
L 373.392 322.2 
M 373.392 362.16 
L 373.392 369.36 
M 377.64 234.72 
L 377.64 237.6 
M 377.64 234.72 
L 377.64 237.6 
M 377.64 267.12 
L 377.64 279.72 
M 377.64 267.12 
L 377.64 279.72 
M 377.64 309.6 
L 377.64 322.2 
M 377.64 309.6 
L 377.64 322.2 
M 382.608 244.8 
L 382.608 246.24 
M 382.608 287.28 
L 382.608 288.72 
M 382.608 329.76 
L 382.608 331.2 
M 386.928 233.28 
L 386.928 246.24 
M 386.928 275.76 
L 386.928 288.72 
M 386.928 318.24 
L 386.928 331.2 
M 468.576 240.48 
L 468.576 253.08 
M 468.576 282.96 
L 468.576 295.56 
M 468.576 325.44 
L 468.576 338.04 
M 472.968 241.2 
L 472.968 244.8 
M 472.968 283.32 
L 472.968 287.28 
M 472.968 325.8 
L 472.968 329.76 
M 476.64 232.56 
L 476.64 244.8 
M 476.64 275.04 
L 476.64 287.28 
M 476.64 317.52 
L 476.64 329.76 
M 477.36 239.04 
L 477.36 251.28 
M 477.648 239.04 
L 477.648 251.28 
M 477.36 281.52 
L 477.36 293.76 
M 477.648 281.52 
L 477.648 293.76 
M 477.36 324 
L 477.36 336.24 
M 477.648 324 
L 477.648 336.24 
M 491.112 233.28 
L 491.112 244.44 
M 491.112 275.76 
L 491.112 286.92 
M 491.112 318.24 
L 491.112 329.4 
M 504.36 225.36 
L 504.36 238.32 
M 500.76 225.36 
L 500.76 238.32 
M 504.36 225.36 
L 504.36 238.32 
M 500.76 225.36 
L 500.76 238.32 
M 502.2 225.36 
L 502.2 238.32 
M 502.92 225.36 
L 502.92 238.32 
M 503.64 225.36 
L 503.64 238.32 
M 504.216 225.36 
L 504.216 238.32 
M 504.36 267.84 
L 504.36 280.8 
M 500.76 267.84 
L 500.76 280.8 
M 504.36 267.84 
L 504.36 280.8 
M 500.76 267.84 
L 500.76 280.8 
M 502.2 267.84 
L 502.2 280.8 
M 502.92 267.84 
L 502.92 280.8 
M 503.64 267.84 
L 503.64 280.8 
M 504.216 267.84 
L 504.216 280.8 
M 504.36 310.32 
L 504.36 323.28 
M 500.76 310.32 
L 500.76 323.28 
M 504.36 310.32 
L 504.36 323.28 
M 500.76 310.32 
L 500.76 323.28 
M 502.2 310.32 
L 502.2 323.28 
M 502.92 310.32 
L 502.92 323.28 
M 503.64 310.32 
L 503.64 323.28 
M 504.216 310.32 
L 504.216 323.28 
M 583.272 211.68 
L 583.272 223.92 
M 583.272 254.16 
L 583.272 266.76 
M 583.272 296.64 
L 583.272 309.24 
M 583.272 339.12 
L 583.272 351.72 
M 590.544 211.68 
L 590.544 219.6 
M 586.98 211.68 
L 586.98 219.6 
M 590.976 211.68 
L 590.976 219.6 
M 590.544 254.16 
L 590.544 262.08 
M 586.98 254.16 
L 586.98 262.08 
M 590.976 254.16 
L 590.976 262.08 
M 590.544 296.64 
L 590.544 304.56 
M 586.98 296.64 
L 586.98 304.56 
M 590.976 296.64 
L 590.976 304.56 
M 590.544 339.12 
L 590.544 347.04 
M 586.98 339.12 
L 586.98 347.04 
M 590.976 339.12 
L 590.976 347.04 
M 594.684 215.64 
L 594.684 223.92 
M 594.684 258.12 
L 594.684 266.4 
M 594.684 300.6 
L 594.684 308.88 
M 594.684 343.08 
L 594.684 351.36 
M 613.656 227.52 
L 613.656 236.88 
M 614.088 227.52 
L 614.088 236.88 
M 613.656 270 
L 613.656 279.36 
M 614.088 270 
L 614.088 279.36 
M 613.656 312.48 
L 613.656 321.84 
M 614.088 312.48 
L 614.088 321.84 
M 613.656 354.96 
L 613.656 369.36 
M 614.088 354.96 
L 614.088 369.36 
M 620.64 231.84 
L 620.64 240.48 
M 617.796 231.84 
L 617.796 240.48 
M 620.64 274.32 
L 620.64 282.96 
M 617.796 274.32 
L 617.796 282.96 
M 620.64 316.8 
L 620.64 325.44 
M 617.796 316.8 
L 617.796 325.44 
M 620.64 354.96 
L 620.64 369.36 
M 617.796 354.96 
L 617.796 369.36 
M 621.18 231.84 
L 621.18 244.08 
M 621.18 274.32 
L 621.18 286.56 
M 621.18 316.8 
L 621.18 329.04 
M 621.18 354.96 
L 621.18 369.36 
M 621.72 231.84 
L 621.72 244.08 
M 621.72 274.32 
L 621.72 286.56 
M 621.72 316.8 
L 621.72 329.04 
L 621.72 329.04 
" clip-path="url(#p4227d49ff3)" style="fill: none; stroke: #bcbd22; stroke-width: 1.5; stroke-linejoin: miter"/>
   </g>
   <g id="patch_16">
    <path d="M 124.2 355.68 
L 124.2 369.36 
M 128.52 298.8 
L 128.52 299.88 
M 128.52 342.72 
L 128.52 357.84 
M 131.4 213.84 
L 131.4 218.16 
M 131.4 256.32 
L 131.4 257.4 
M 131.4 298.8 
L 131.4 299.88 
M 131.4 342.72 
L 131.4 357.84 
M 131.94 213.84 
L 131.94 218.16 
M 131.94 256.32 
L 131.94 268.2 
M 131.94 298.8 
L 131.94 299.88 
M 131.94 342.72 
L 131.94 357.84 
M 132.48 213.84 
L 132.48 218.16 
M 133.92 213.84 
L 133.92 218.16 
M 132.48 256.32 
L 132.48 268.2 
M 133.92 256.32 
L 133.92 268.2 
M 132.48 298.8 
L 132.48 308.88 
M 133.92 298.8 
L 133.92 308.88 
M 132.48 342.72 
L 132.48 357.84 
M 133.92 342.72 
L 133.92 357.84 
M 134.64 213.84 
L 134.64 218.16 
M 134.64 256.32 
L 134.64 257.4 
M 134.64 298.8 
L 134.64 308.88 
M 134.64 342.72 
L 134.64 357.84 
M 136.44 213.84 
L 136.44 218.16 
M 136.44 213.84 
L 136.44 218.16 
M 137.16 213.84 
L 137.16 218.16 
M 137.16 213.84 
L 137.16 218.16 
M 137.16 213.84 
L 137.16 218.16 
M 137.16 213.84 
L 137.16 218.16 
M 137.16 249.84 
L 137.16 257.4 
M 137.16 249.84 
L 137.16 257.4 
M 137.16 249.84 
L 137.16 257.4 
M 137.16 249.84 
L 137.16 257.4 
M 137.16 287.28 
L 137.16 299.88 
M 137.16 287.28 
L 137.16 299.88 
M 137.16 287.28 
L 137.16 299.88 
M 137.16 287.28 
L 137.16 299.88 
M 137.16 330.12 
L 137.16 342 
M 137.16 330.12 
L 137.16 342 
M 137.16 330.12 
L 137.16 342 
M 137.16 330.12 
L 137.16 342 
M 137.88 205.92 
L 137.88 218.16 
M 139.536 205.92 
L 139.536 218.16 
M 137.88 205.92 
L 137.88 218.16 
M 137.88 205.92 
L 137.88 218.16 
M 138.6 205.92 
L 138.6 218.16 
M 139.032 205.92 
L 139.032 218.16 
M 137.88 205.92 
L 137.88 218.16 
M 139.032 205.92 
L 139.032 218.16 
M 137.88 249.84 
L 137.88 257.4 
M 139.536 249.84 
L 139.536 257.4 
M 137.88 249.84 
L 137.88 257.4 
M 137.88 249.84 
L 137.88 257.4 
M 138.6 249.84 
L 138.6 257.4 
M 139.032 249.84 
L 139.032 257.4 
M 137.88 249.84 
L 137.88 257.4 
M 139.032 249.84 
L 139.032 257.4 
M 137.88 287.28 
L 137.88 299.88 
M 139.536 287.28 
L 139.536 299.88 
M 137.88 287.28 
L 137.88 299.88 
M 137.88 287.28 
L 137.88 299.88 
M 138.6 287.28 
L 138.6 299.88 
M 139.032 287.28 
L 139.032 299.88 
M 137.88 287.28 
L 137.88 299.88 
M 139.032 287.28 
L 139.032 299.88 
M 137.88 330.12 
L 137.88 342 
M 139.536 330.12 
L 139.536 342 
M 137.88 330.12 
L 137.88 342 
M 137.88 330.12 
L 137.88 342 
M 138.6 330.12 
L 138.6 342 
M 139.032 330.12 
L 139.032 342 
M 137.88 330.12 
L 137.88 342 
M 139.032 330.12 
L 139.032 342 
M 146.52 311.76 
L 146.52 324 
M 150.3 292.32 
L 150.3 299.88 
M 150.3 335.52 
L 150.3 342 
M 150.84 249.84 
L 150.84 257.4 
M 150.84 292.32 
L 150.84 299.88 
M 150.84 335.52 
L 150.84 342 
M 154.152 202.68 
L 154.152 215.28 
M 157.824 202.68 
L 157.824 215.28 
M 154.152 245.52 
L 154.152 257.4 
M 157.824 245.52 
L 157.824 257.4 
M 154.152 288 
L 154.152 299.88 
M 157.824 288 
L 157.824 299.88 
M 154.152 330.12 
L 154.152 342 
M 157.824 330.12 
L 157.824 342 
M 238.248 258.48 
L 238.248 271.44 
M 238.248 300.96 
L 238.248 309.6 
M 238.248 343.44 
L 238.248 352.08 
M 242.28 254.16 
L 242.28 271.44 
M 242.28 297 
L 242.28 309.6 
M 242.28 339.12 
L 242.28 352.08 
M 243 254.16 
L 243 258.48 
M 243 297 
L 243 300.96 
M 243 339.12 
L 243 343.44 
M 245.88 246.24 
L 245.88 248.4 
M 245.88 297 
L 245.88 300.96 
M 245.88 339.12 
L 245.88 343.44 
M 246.6 246.24 
L 246.6 248.4 
M 246.6 289.08 
L 246.6 290.88 
M 250.92 246.24 
L 250.92 248.4 
M 251.64 278.64 
L 251.64 282.96 
M 253.8 278.64 
L 253.8 282.96 
M 251.64 321.12 
L 251.64 325.44 
M 253.8 321.12 
L 253.8 325.44 
M 254.52 228.24 
L 254.52 240.12 
M 259.128 228.24 
L 259.128 240.12 
M 254.52 270.72 
L 254.52 282.6 
M 259.128 270.72 
L 259.128 282.6 
M 254.52 313.2 
L 254.52 325.08 
M 259.128 313.2 
L 259.128 325.08 
M 261.72 272.88 
L 261.72 285.12 
M 261.72 315.36 
L 261.72 327.6 
M 262.44 230.4 
L 262.44 243.36 
M 262.44 272.88 
L 262.44 285.12 
M 262.44 315.36 
L 262.44 327.6 
M 266.76 230.4 
L 266.76 243.36 
M 266.76 282.6 
L 266.76 285.48 
M 266.76 325.08 
L 266.76 327.96 
M 267.48 230.4 
L 267.48 243.36 
M 270.36 230.4 
L 270.36 243.36 
M 270.36 230.4 
L 270.36 243.36 
M 267.48 282.6 
L 267.48 285.48 
M 270.36 282.6 
L 270.36 285.48 
M 270.36 282.6 
L 270.36 285.48 
M 267.48 325.08 
L 267.48 369.36 
M 270.36 325.08 
L 270.36 369.36 
M 270.36 325.08 
L 270.36 369.36 
M 271.08 240.12 
L 271.08 252.72 
M 271.08 240.12 
L 271.08 252.72 
M 271.08 282.6 
L 271.08 285.48 
M 271.08 282.6 
L 271.08 285.48 
M 271.08 325.08 
L 271.08 369.36 
M 271.08 325.08 
L 271.08 369.36 
M 272.736 240.12 
L 272.736 252.72 
M 276.48 240.12 
L 276.48 252.72 
M 272.736 282.6 
L 272.736 295.2 
M 276.48 282.6 
L 276.48 295.2 
M 272.736 325.08 
L 272.736 337.68 
M 276.48 325.08 
L 276.48 337.68 
M 352.008 210.96 
L 352.008 221.4 
M 352.008 254.88 
L 352.008 263.88 
M 352.008 297.36 
L 352.008 306.36 
M 352.008 339.84 
L 352.008 348.84 
M 357.912 210.96 
L 357.912 221.4 
M 357.912 251.28 
L 357.912 263.88 
M 357.912 293.76 
L 357.912 306.36 
M 357.912 336.24 
L 357.912 348.84 
M 361.224 218.16 
L 361.224 229.68 
M 361.224 261 
L 361.224 272.88 
M 361.224 303.48 
L 361.224 315.36 
M 361.224 345.6 
L 361.224 357.48 
M 367.128 277.2 
L 367.128 284.4 
M 369.72 277.2 
L 369.72 284.4 
M 367.128 319.68 
L 367.128 326.88 
M 369.72 319.68 
L 369.72 326.88 
M 367.128 362.16 
L 367.128 369.36 
M 369.72 362.16 
L 369.72 369.36 
M 370.44 234.72 
L 370.44 237.6 
M 370.44 277.2 
L 370.44 284.4 
M 370.44 319.68 
L 370.44 326.88 
M 370.44 362.16 
L 370.44 369.36 
M 376.344 234.72 
L 376.344 237.6 
M 376.344 267.12 
L 376.344 279.72 
M 376.344 309.6 
L 376.344 322.2 
M 379.656 244.8 
L 379.656 257.4 
M 379.656 287.28 
L 379.656 299.88 
M 379.656 329.76 
L 379.656 342.36 
M 385.56 244.8 
L 385.56 246.24 
M 385.56 287.28 
L 385.56 288.72 
M 385.56 329.76 
L 385.56 331.2 
M 467.28 240.48 
L 467.28 253.08 
M 467.28 282.96 
L 467.28 295.56 
M 467.28 325.44 
L 467.28 338.04 
M 470.088 241.2 
L 470.088 244.8 
M 470.088 283.32 
L 470.088 287.28 
M 470.088 325.8 
L 470.088 329.76 
M 475.848 232.56 
L 475.848 244.8 
M 475.848 275.04 
L 475.848 287.28 
M 475.848 317.52 
L 475.848 329.76 
M 479.16 239.04 
L 479.16 251.28 
M 479.16 281.52 
L 479.16 293.76 
M 479.16 324 
L 479.16 336.24 
M 488.88 233.28 
L 488.88 244.44 
M 488.88 275.76 
L 488.88 286.92 
M 488.88 318.24 
L 488.88 329.4 
M 503.064 225.36 
L 503.064 238.32 
M 504.36 225.36 
L 504.36 238.32 
M 503.064 267.84 
L 503.064 280.8 
M 504.36 267.84 
L 504.36 280.8 
M 503.064 310.32 
L 503.064 323.28 
M 504.36 310.32 
L 504.36 323.28 
M 584.784 211.68 
L 584.784 219.6 
M 589.176 211.68 
L 589.176 219.6 
M 584.784 254.16 
L 584.784 262.08 
M 589.176 254.16 
L 589.176 262.08 
M 584.784 296.64 
L 584.784 304.56 
M 589.176 296.64 
L 589.176 304.56 
M 584.784 339.12 
L 584.784 347.04 
M 589.176 339.12 
L 589.176 347.04 
M 592.488 215.64 
L 592.488 223.92 
M 596.16 215.64 
L 596.16 223.92 
M 592.488 258.12 
L 592.488 266.4 
M 596.16 258.12 
L 596.16 266.4 
M 592.488 300.6 
L 592.488 308.88 
M 596.16 300.6 
L 596.16 308.88 
M 592.488 343.08 
L 592.488 351.36 
M 596.16 343.08 
L 596.16 351.36 
M 612.288 354.96 
L 612.288 369.36 
M 613.08 227.52 
L 613.08 236.88 
M 615.6 227.52 
L 615.6 236.88 
M 613.08 270 
L 613.08 279.36 
M 615.6 270 
L 615.6 279.36 
M 613.08 312.48 
L 613.08 321.84 
M 615.6 312.48 
L 615.6 321.84 
M 613.08 354.96 
L 613.08 369.36 
M 615.6 354.96 
L 615.6 369.36 
M 619.992 231.84 
L 619.992 240.48 
M 619.992 274.32 
L 619.992 282.96 
M 619.992 316.8 
L 619.992 325.44 
M 619.992 354.96 
L 619.992 369.36 
L 619.992 369.36 
" clip-path="url(#p4227d49ff3)" style="fill: none; stroke: #17becf; stroke-width: 1.5; stroke-linejoin: miter"/>
   </g>
   <g id="patch_17">
    <path d="M 259.56 228.24 
L 259.56 240.12 
M 259.56 270.72 
L 259.56 282.6 
M 259.56 313.2 
L 259.56 325.08 
M 260.28 272.88 
L 260.28 285.12 
M 260.28 315.36 
L 260.28 327.6 
M 373.536 234.72 
L 373.536 237.6 
M 373.536 277.2 
L 373.536 279.72 
M 373.536 319.68 
L 373.536 322.2 
M 373.536 362.16 
L 373.536 369.36 
M 491.616 233.28 
L 491.616 244.44 
M 491.616 275.76 
L 491.616 286.92 
M 491.616 318.24 
L 491.616 329.4 
" clip-path="url(#p4227d49ff3)" style="fill: none; stroke: #9467bd; stroke-width: 1.5; stroke-linejoin: miter"/>
   </g>
   <g id="patch_18">
    <path d="M 139.536 205.92 
L 139.536 218.16 
M 139.536 249.84 
L 139.536 257.4 
M 139.536 287.28 
L 139.536 299.88 
M 139.536 330.12 
L 139.536 342 
M 251.856 278.64 
L 251.856 282.96 
M 251.856 321.12 
L 251.856 325.44 
M 365.4 272.16 
L 365.4 273.24 
M 365.4 314.64 
L 365.4 315.72 
M 365.4 345.6 
L 365.4 357.48 
M 366.12 272.16 
L 366.12 273.24 
M 366.12 314.64 
L 366.12 315.72 
M 366.12 345.6 
L 366.12 357.48 
M 366.12 362.16 
L 366.12 369.36 
" clip-path="url(#p4227d49ff3)" style="fill: none; stroke: #8c564b; stroke-width: 1.5; stroke-linejoin: miter"/>
   </g>
   <g id="patch_19">
    <path d="M 131.4 213.84 
L 131.4 218.16 
M 131.4 256.32 
L 131.4 257.4 
M 131.4 298.8 
L 131.4 299.88 
M 131.4 342.72 
L 131.4 357.84 
M 131.94 213.84 
L 131.94 218.16 
M 131.94 256.32 
L 131.94 268.2 
M 131.94 298.8 
L 131.94 299.88 
M 131.94 342.72 
L 131.94 357.84 
M 151.92 249.84 
L 151.92 257.4 
M 151.92 292.32 
L 151.92 299.88 
M 151.92 335.52 
L 151.92 342 
M 152.46 202.68 
L 152.46 215.28 
M 152.46 249.84 
L 152.46 257.4 
M 152.46 292.32 
L 152.46 299.88 
M 152.46 335.52 
L 152.46 342 
M 153 202.68 
L 153 215.28 
M 153 249.84 
L 153 257.4 
M 153 292.32 
L 153 299.88 
M 153 330.12 
L 153 342 
M 243.936 254.16 
L 243.936 258.48 
M 243.936 297 
L 243.936 300.96 
M 243.936 339.12 
L 243.936 343.44 
M 267.696 230.4 
L 267.696 243.36 
M 267.696 282.6 
L 267.696 285.48 
M 267.696 325.08 
L 267.696 369.36 
M 276.336 240.12 
L 276.336 252.72 
M 276.336 282.6 
L 276.336 295.2 
M 276.336 325.08 
L 276.336 337.68 
M 357.696 210.96 
L 357.696 221.4 
M 357.696 251.28 
L 357.696 263.88 
M 357.696 293.76 
L 357.696 306.36 
M 357.696 336.24 
L 357.696 348.84 
M 381.24 244.8 
L 381.24 257.4 
M 381.24 287.28 
L 381.24 299.88 
M 381.24 329.76 
L 381.24 342.36 
M 381.96 244.8 
L 381.96 246.24 
M 381.96 287.28 
L 381.96 288.72 
M 381.96 329.76 
L 381.96 331.2 
M 475.776 232.56 
L 475.776 244.8 
M 475.776 275.04 
L 475.776 287.28 
M 475.776 317.52 
L 475.776 329.76 
M 590.256 211.68 
L 590.256 219.6 
M 590.256 254.16 
L 590.256 262.08 
M 590.256 296.64 
L 590.256 304.56 
M 590.256 339.12 
L 590.256 347.04 
M 614.016 227.52 
L 614.016 236.88 
M 614.016 270 
L 614.016 279.36 
M 614.016 312.48 
L 614.016 321.84 
M 614.016 354.96 
L 614.016 369.36 
" clip-path="url(#p4227d49ff3)" style="fill: none; stroke: #7f7f7f; stroke-width: 1.5; stroke-linejoin: miter"/>
   </g>
   <g id="patch_20">
    <path d="M 124.92 355.68 
L 124.92 369.36 
M 128.52 298.8 
L 128.52 299.88 
M 128.52 342.72 
L 128.52 357.84 
M 133.2 213.84 
L 133.2 218.16 
M 133.2 256.32 
L 133.2 268.2 
M 133.2 298.8 
L 133.2 308.88 
M 133.2 342.72 
L 133.2 357.84 
M 135.72 213.84 
L 135.72 218.16 
M 135.72 256.32 
L 135.72 257.4 
M 135.72 298.8 
L 135.72 299.88 
M 136.44 213.84 
L 136.44 218.16 
M 140.4 205.92 
L 140.4 218.16 
M 140.4 249.84 
L 140.4 257.4 
M 140.4 287.28 
L 140.4 299.88 
M 140.4 330.12 
L 140.4 342 
M 141.12 249.84 
L 141.12 257.4 
M 141.12 287.28 
L 141.12 299.88 
M 141.12 330.12 
L 141.12 342 
M 145.8 269.28 
L 145.8 281.88 
M 145.8 311.76 
L 145.8 324 
M 146.52 311.76 
L 146.52 324 
M 154.08 202.68 
L 154.08 215.28 
M 157.248 202.68 
L 157.248 215.28 
M 154.08 245.52 
L 154.08 257.4 
M 157.248 245.52 
L 157.248 257.4 
M 154.08 288 
L 154.08 299.88 
M 157.248 288 
L 157.248 299.88 
M 154.08 330.12 
L 154.08 342 
M 157.248 330.12 
L 157.248 342 
M 237.6 258.48 
L 237.6 271.44 
M 240.768 258.48 
L 240.768 271.44 
M 237.6 300.96 
L 237.6 309.6 
M 240.768 300.96 
L 240.768 309.6 
M 237.6 343.44 
L 237.6 352.08 
M 240.768 343.44 
L 240.768 352.08 
M 245.16 254.16 
L 245.16 258.48 
M 245.16 297 
L 245.16 300.96 
M 245.16 339.12 
L 245.16 343.44 
M 245.88 246.24 
L 245.88 248.4 
M 245.88 297 
L 245.88 300.96 
M 245.88 339.12 
L 245.88 343.44 
M 248.688 246.24 
L 248.688 248.4 
M 248.688 289.08 
L 248.688 290.88 
M 253.44 278.64 
L 253.44 282.96 
M 253.44 321.12 
L 253.44 325.44 
M 256.608 228.24 
L 256.608 240.12 
M 256.608 270.72 
L 256.608 282.6 
M 256.608 313.2 
L 256.608 325.08 
M 261.36 272.88 
L 261.36 285.12 
M 261.36 315.36 
L 261.36 327.6 
M 264.528 230.4 
L 264.528 243.36 
M 264.528 272.88 
L 264.528 285.12 
M 264.528 315.36 
L 264.528 327.6 
M 269.28 230.4 
L 269.28 243.36 
M 270 230.4 
L 270 243.36 
M 269.28 282.6 
L 269.28 285.48 
M 270 282.6 
L 270 285.48 
M 269.28 325.08 
L 269.28 369.36 
M 270 325.08 
L 270 369.36 
M 271.8 240.12 
L 271.8 252.72 
M 271.8 282.6 
L 271.8 285.48 
M 271.8 325.08 
L 271.8 369.36 
M 272.52 240.12 
L 272.52 252.72 
M 273.168 240.12 
L 273.168 252.72 
M 277.56 240.12 
L 277.56 252.72 
M 272.52 282.6 
L 272.52 295.2 
M 273.168 282.6 
L 273.168 295.2 
M 277.56 282.6 
L 277.56 295.2 
M 272.52 325.08 
L 272.52 337.68 
M 273.168 325.08 
L 273.168 337.68 
M 277.56 325.08 
L 277.56 337.68 
M 350.64 254.88 
L 350.64 267.48 
M 350.64 297.36 
L 350.64 309.96 
M 350.64 339.84 
L 350.64 352.44 
M 351.36 210.96 
L 351.36 221.4 
M 354.528 210.96 
L 354.528 221.4 
M 351.36 254.88 
L 351.36 263.88 
M 354.528 254.88 
L 354.528 263.88 
M 351.36 297.36 
L 351.36 306.36 
M 354.528 297.36 
L 354.528 306.36 
M 351.36 339.84 
L 351.36 348.84 
M 354.528 339.84 
L 354.528 348.84 
M 358.56 210.96 
L 358.56 221.4 
M 358.56 251.28 
L 358.56 263.88 
M 358.56 293.76 
L 358.56 306.36 
M 358.56 336.24 
L 358.56 348.84 
M 359.64 218.16 
L 359.64 229.68 
M 362.16 218.16 
L 362.16 229.68 
M 359.64 261 
L 359.64 272.88 
M 362.16 261 
L 362.16 272.88 
M 359.64 303.48 
L 359.64 315.36 
M 362.16 303.48 
L 362.16 315.36 
M 359.64 345.6 
L 359.64 357.48 
M 362.16 345.6 
L 362.16 357.48 
M 362.88 272.16 
L 362.88 273.24 
M 362.88 314.64 
L 362.88 315.72 
M 362.88 345.6 
L 362.88 357.48 
M 367.2 277.2 
L 367.2 284.4 
M 369.72 277.2 
L 369.72 284.4 
M 367.2 319.68 
L 367.2 326.88 
M 369.72 319.68 
L 369.72 326.88 
M 367.2 362.16 
L 367.2 369.36 
M 369.72 362.16 
L 369.72 369.36 
M 370.44 234.72 
L 370.44 237.6 
M 370.44 277.2 
L 370.44 284.4 
M 370.44 319.68 
L 370.44 326.88 
M 370.44 362.16 
L 370.44 369.36 
M 374.76 234.72 
L 374.76 237.6 
M 374.76 277.2 
L 374.76 279.72 
M 374.76 319.68 
L 374.76 322.2 
M 374.76 362.16 
L 374.76 369.36 
M 375.3 234.72 
L 375.3 237.6 
M 375.3 277.2 
L 375.3 279.72 
M 375.3 319.68 
L 375.3 322.2 
M 375.84 234.72 
L 375.84 237.6 
M 377.64 234.72 
L 377.64 237.6 
M 375.84 267.12 
L 375.84 279.72 
M 377.64 267.12 
L 377.64 279.72 
M 375.84 309.6 
L 375.84 322.2 
M 377.64 309.6 
L 377.64 322.2 
M 379.08 244.8 
L 379.08 257.4 
M 379.08 287.28 
L 379.08 299.88 
M 379.08 329.76 
L 379.08 342.36 
M 383.04 244.8 
L 383.04 246.24 
M 385.92 244.8 
L 385.92 246.24 
M 383.04 287.28 
L 383.04 288.72 
M 385.92 287.28 
L 385.92 288.72 
M 383.04 329.76 
L 383.04 331.2 
M 385.92 329.76 
L 385.92 331.2 
M 386.64 233.28 
L 386.64 246.24 
M 386.64 275.76 
L 386.64 288.72 
M 386.64 318.24 
L 386.64 331.2 
M 469.08 240.48 
L 469.08 253.08 
M 469.08 282.96 
L 469.08 295.56 
M 469.08 325.44 
L 469.08 338.04 
M 469.8 241.2 
L 469.8 244.8 
M 472.608 241.2 
L 472.608 244.8 
M 469.8 283.32 
L 469.8 287.28 
M 472.608 283.32 
L 472.608 287.28 
M 469.8 325.8 
L 469.8 329.76 
M 472.608 325.8 
L 472.608 329.76 
M 476.64 232.56 
L 476.64 244.8 
M 476.64 275.04 
L 476.64 287.28 
M 476.64 317.52 
L 476.64 329.76 
M 477.36 239.04 
L 477.36 251.28 
M 480.24 239.04 
L 480.24 251.28 
M 477.36 281.52 
L 477.36 293.76 
M 480.24 281.52 
L 480.24 293.76 
M 477.36 324 
L 477.36 336.24 
M 480.24 324 
L 480.24 336.24 
M 488.88 233.28 
L 488.88 244.44 
M 488.88 275.76 
L 488.88 286.92 
M 488.88 318.24 
L 488.88 329.4 
M 501.12 225.36 
L 501.12 238.32 
M 501.12 267.84 
L 501.12 280.8 
M 501.12 310.32 
L 501.12 323.28 
M 583.92 211.68 
L 583.92 223.92 
M 583.92 254.16 
L 583.92 266.76 
M 583.92 296.64 
L 583.92 309.24 
M 583.92 339.12 
L 583.92 351.72 
M 584.64 211.68 
L 584.64 219.6 
M 587.088 211.68 
L 587.088 219.6 
M 591.12 211.68 
L 591.12 219.6 
M 584.64 254.16 
L 584.64 262.08 
M 587.088 254.16 
L 587.088 262.08 
M 591.12 254.16 
L 591.12 262.08 
M 584.64 296.64 
L 584.64 304.56 
M 587.088 296.64 
L 587.088 304.56 
M 591.12 296.64 
L 591.12 304.56 
M 584.64 339.12 
L 584.64 347.04 
M 587.088 339.12 
L 587.088 347.04 
M 591.12 339.12 
L 591.12 347.04 
M 591.84 215.64 
L 591.84 223.92 
M 595.008 215.64 
L 595.008 223.92 
M 591.84 258.12 
L 591.84 266.4 
M 595.008 258.12 
L 595.008 266.4 
M 591.84 300.6 
L 591.84 308.88 
M 595.008 300.6 
L 595.008 308.88 
M 591.84 343.08 
L 591.84 351.36 
M 595.008 343.08 
L 595.008 351.36 
M 615.6 227.52 
L 615.6 236.88 
M 615.6 270 
L 615.6 279.36 
M 615.6 312.48 
L 615.6 321.84 
M 615.6 354.96 
L 615.6 369.36 
M 618.768 231.84 
L 618.768 240.48 
M 618.768 274.32 
L 618.768 282.96 
M 618.768 316.8 
L 618.768 325.44 
M 618.768 354.96 
L 618.768 369.36 
L 618.768 369.36 
" clip-path="url(#p4227d49ff3)" style="fill: none; stroke: #bcbd22; stroke-width: 1.5; stroke-linejoin: miter"/>
   </g>
   <g id="patch_21">
    <path d="M 129.96 256.32 
L 129.96 257.4 
M 129.96 298.8 
L 129.96 299.88 
M 129.96 342.72 
L 129.96 357.84 
M 130.68 213.84 
L 130.68 218.16 
M 130.68 256.32 
L 130.68 257.4 
M 130.68 298.8 
L 130.68 299.88 
M 130.68 342.72 
L 130.68 357.84 
M 134.64 213.84 
L 134.64 218.16 
M 134.64 256.32 
L 134.64 257.4 
M 134.64 298.8 
L 134.64 308.88 
M 134.64 342.72 
L 134.64 357.84 
M 135.18 213.84 
L 135.18 218.16 
M 135.18 256.32 
L 135.18 257.4 
M 135.18 298.8 
L 135.18 299.88 
M 135.18 342.72 
L 135.18 357.84 
M 137.16 213.84 
L 137.16 218.16 
M 137.16 249.84 
L 137.16 257.4 
M 137.16 287.28 
L 137.16 299.88 
M 137.16 330.12 
L 137.16 342 
M 137.952 205.92 
L 137.952 218.16 
M 137.952 249.84 
L 137.952 257.4 
M 137.952 287.28 
L 137.952 299.88 
M 137.952 330.12 
L 137.952 342 
M 150.3 292.32 
L 150.3 299.88 
M 150.3 335.52 
L 150.3 342 
M 150.912 249.84 
L 150.912 257.4 
M 150.912 292.32 
L 150.912 299.88 
M 150.912 335.52 
L 150.912 342 
M 155.664 202.68 
L 155.664 215.28 
M 158.832 202.68 
L 158.832 215.28 
M 155.664 245.52 
L 155.664 257.4 
M 158.832 245.52 
L 158.832 257.4 
M 155.664 288 
L 155.664 299.88 
M 158.832 288 
L 158.832 299.88 
M 155.664 330.12 
L 155.664 342 
M 158.832 330.12 
L 158.832 342 
M 239.184 258.48 
L 239.184 271.44 
M 241.56 258.48 
L 241.56 271.44 
M 239.184 300.96 
L 239.184 309.6 
M 241.56 300.96 
L 241.56 309.6 
M 239.184 343.44 
L 239.184 352.08 
M 241.56 343.44 
L 241.56 352.08 
M 242.28 254.16 
L 242.28 271.44 
M 242.28 297 
L 242.28 309.6 
M 242.28 339.12 
L 242.28 352.08 
M 243 254.16 
L 243 258.48 
M 243 297 
L 243 300.96 
M 243 339.12 
L 243 343.44 
M 247.104 246.24 
L 247.104 248.4 
M 250.2 246.24 
L 250.2 248.4 
M 247.104 289.08 
L 247.104 290.88 
M 250.2 289.08 
L 250.2 290.88 
M 250.92 246.24 
L 250.92 248.4 
M 255.024 228.24 
L 255.024 240.12 
M 258.192 228.24 
L 258.192 240.12 
M 255.024 270.72 
L 255.024 282.6 
M 258.192 270.72 
L 258.192 282.6 
M 255.024 313.2 
L 255.024 325.08 
M 258.192 313.2 
L 258.192 325.08 
M 262.944 230.4 
L 262.944 243.36 
M 265.32 230.4 
L 265.32 243.36 
M 262.944 272.88 
L 262.944 285.12 
M 265.32 272.88 
L 265.32 285.12 
M 262.944 315.36 
L 262.944 327.6 
M 265.32 315.36 
L 265.32 327.6 
M 266.112 230.4 
L 266.112 243.36 
M 266.112 282.6 
L 266.112 285.48 
M 266.112 325.08 
L 266.112 327.96 
M 270.36 230.4 
L 270.36 243.36 
M 270.36 282.6 
L 270.36 285.48 
M 270.36 325.08 
L 270.36 369.36 
M 271.08 240.12 
L 271.08 252.72 
M 271.584 240.12 
L 271.584 252.72 
M 271.08 282.6 
L 271.08 285.48 
M 271.584 282.6 
L 271.584 285.48 
M 271.08 325.08 
L 271.08 369.36 
M 271.584 325.08 
L 271.584 369.36 
M 274.032 240.12 
L 274.032 252.72 
M 274.752 240.12 
L 274.752 252.72 
M 274.032 282.6 
L 274.032 295.2 
M 274.752 282.6 
L 274.752 295.2 
M 274.032 325.08 
L 274.032 337.68 
M 274.752 325.08 
L 274.752 337.68 
M 352.944 210.96 
L 352.944 221.4 
M 356.04 210.96 
L 356.04 221.4 
M 352.944 254.88 
L 352.944 263.88 
M 356.04 254.88 
L 356.04 263.88 
M 352.944 297.36 
L 352.944 306.36 
M 356.04 297.36 
L 356.04 306.36 
M 352.944 339.84 
L 352.944 348.84 
M 356.04 339.84 
L 356.04 348.84 
M 356.76 210.96 
L 356.76 221.4 
M 356.76 251.28 
L 356.76 263.88 
M 356.76 293.76 
L 356.76 306.36 
M 356.76 336.24 
L 356.76 348.84 
M 360.864 218.16 
L 360.864 229.68 
M 360.864 261 
L 360.864 272.88 
M 360.864 303.48 
L 360.864 315.36 
M 360.864 345.6 
L 360.864 357.48 
M 364.032 272.16 
L 364.032 273.24 
M 364.032 314.64 
L 364.032 315.72 
M 364.032 345.6 
L 364.032 357.48 
M 368.784 277.2 
L 368.784 284.4 
M 368.784 319.68 
L 368.784 326.88 
M 368.784 362.16 
L 368.784 369.36 
M 371.16 234.72 
L 371.16 237.6 
M 371.16 277.2 
L 371.16 284.4 
M 371.16 319.68 
L 371.16 326.88 
M 371.16 362.16 
L 371.16 369.36 
M 371.952 234.72 
L 371.952 237.6 
M 371.952 277.2 
L 371.952 279.72 
M 371.952 319.68 
L 371.952 322.2 
M 371.952 362.16 
L 371.952 369.36 
M 376.704 234.72 
L 376.704 237.6 
M 376.704 267.12 
L 376.704 279.72 
M 376.704 309.6 
L 376.704 322.2 
M 379.872 244.8 
L 379.872 257.4 
M 379.872 287.28 
L 379.872 299.88 
M 379.872 329.76 
L 379.872 342.36 
M 384.624 244.8 
L 384.624 246.24 
M 384.624 287.28 
L 384.624 288.72 
M 384.624 329.76 
L 384.624 331.2 
M 387.792 233.28 
L 387.792 246.24 
M 387.792 275.76 
L 387.792 288.72 
M 387.792 318.24 
L 387.792 331.2 
M 471.024 241.2 
L 471.024 244.8 
M 471.024 283.32 
L 471.024 287.28 
M 471.024 325.8 
L 471.024 329.76 
M 474.192 232.56 
L 474.192 244.8 
M 474.192 275.04 
L 474.192 287.28 
M 474.192 317.52 
L 474.192 329.76 
M 478.944 239.04 
L 478.944 251.28 
M 478.944 281.52 
L 478.944 293.76 
M 478.944 324 
L 478.944 336.24 
M 490.032 233.28 
L 490.032 244.44 
M 490.032 275.76 
L 490.032 286.92 
M 490.032 318.24 
L 490.032 329.4 
M 502.704 225.36 
L 502.704 238.32 
M 502.704 267.84 
L 502.704 280.8 
M 502.704 310.32 
L 502.704 323.28 
M 585.504 211.68 
L 585.504 219.6 
M 588.672 211.68 
L 588.672 219.6 
M 585.504 254.16 
L 585.504 262.08 
M 588.672 254.16 
L 588.672 262.08 
M 585.504 296.64 
L 585.504 304.56 
M 588.672 296.64 
L 588.672 304.56 
M 585.504 339.12 
L 585.504 347.04 
M 588.672 339.12 
L 588.672 347.04 
M 593.424 215.64 
L 593.424 223.92 
M 596.16 215.64 
L 596.16 223.92 
M 593.424 258.12 
L 593.424 266.4 
M 596.16 258.12 
L 596.16 266.4 
M 593.424 300.6 
L 593.424 308.88 
M 596.16 300.6 
L 596.16 308.88 
M 593.424 343.08 
L 593.424 351.36 
M 596.16 343.08 
L 596.16 351.36 
M 612.36 354.96 
L 612.36 369.36 
M 613.08 227.52 
L 613.08 236.88 
M 613.08 270 
L 613.08 279.36 
M 613.08 312.48 
L 613.08 321.84 
M 613.08 354.96 
L 613.08 369.36 
M 617.184 231.84 
L 617.184 240.48 
M 620.352 231.84 
L 620.352 240.48 
M 617.184 274.32 
L 617.184 282.96 
M 620.352 274.32 
L 620.352 282.96 
M 617.184 316.8 
L 617.184 325.44 
M 620.352 316.8 
L 620.352 325.44 
M 617.184 354.96 
L 617.184 369.36 
M 620.352 354.96 
L 620.352 369.36 
L 620.352 369.36 
" clip-path="url(#p4227d49ff3)" style="fill: none; stroke: #17becf; stroke-width: 1.5; stroke-linejoin: miter"/>
   </g>
  </g>
 </g>
 <defs>
  <clipPath id="p4227d49ff3">
   <rect x="90" y="51.84" width="558" height="332.64"/>
  </clipPath>
 </defs>
</svg>

</body></html>
